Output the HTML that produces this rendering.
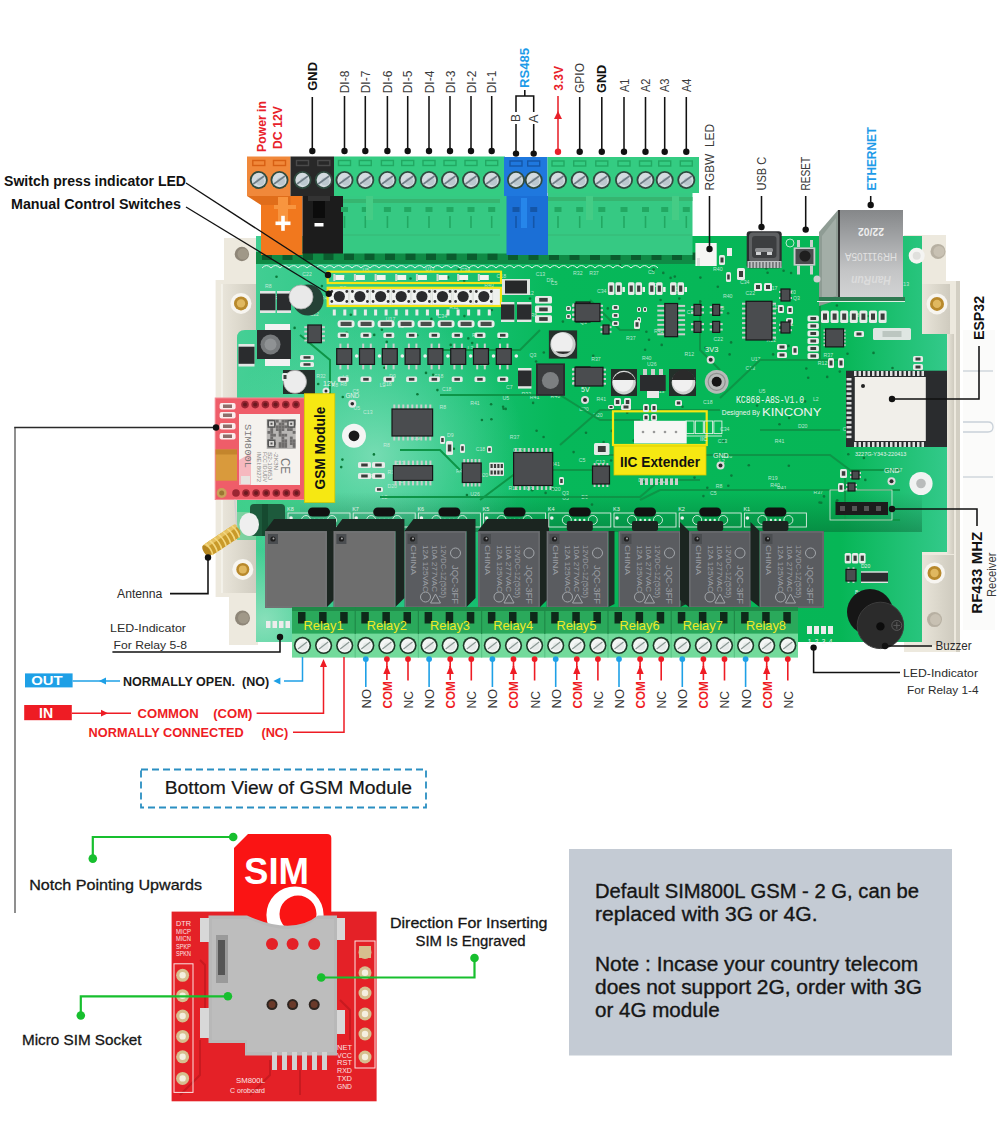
<!DOCTYPE html><html><head><meta charset="utf-8"><title>KC868-A8S</title><style>html,body{margin:0;padding:0;background:#fff;}svg{display:block;}text{font-family:"Liberation Sans",sans-serif;}</style></head><body>
<svg width="1000" height="1139" viewBox="0 0 1000 1139">
<rect x="0.0" y="0.0" width="1000.0" height="1139.0" fill="#ffffff" />
<defs><linearGradient id="encl" x1="0" y1="0" x2="1" y2="0">
<stop offset="0" stop-color="#e9e5da"/><stop offset="0.5" stop-color="#dcd8cc"/><stop offset="1" stop-color="#cfcbbf"/></linearGradient></defs>
<path d="M224,238 L258,238 L258,645 L229,645 L229,597 L215.6,597 L215.6,280 L224,280 Z" fill="#ede9de" stroke="none" stroke-width="1" />
<rect x="222.0" y="284.0" width="36.0" height="309.0" fill="url(#encl)" />
<line x1="222.0" y1="284.0" x2="222.0" y2="593.0" stroke="#f6f4ee" stroke-width="1.5" />
<circle cx="241.9" cy="254.0" r="7.2" fill="#8e8678" />
<circle cx="243.0" cy="254.0" r="5.5" fill="#a09888" />
<circle cx="241.0" cy="303.4" r="10.5" fill="#f7f5f0" />
<circle cx="241.0" cy="303.4" r="7.0" fill="#b8892c" />
<circle cx="241.0" cy="303.4" r="4.2" fill="#e0b860" />
<circle cx="242.8" cy="569.4" r="10.5" fill="#f7f5f0" />
<circle cx="242.8" cy="569.4" r="6.5" fill="#b8892c" />
<circle cx="242.8" cy="569.4" r="4.0" fill="#e0b860" />
<circle cx="242.5" cy="618.0" r="7.5" fill="#8e8678" />
<circle cx="243.5" cy="618.0" r="5.5" fill="#a09888" />
<path d="M904,235 L946,235 L946,281 L960,281 L960,652 L904,652 Z" fill="#ede9de" stroke="none" stroke-width="1" />
<rect x="922.0" y="284.0" width="28.0" height="50.0" fill="url(#encl)" />
<rect x="947.0" y="334.0" width="7.0" height="220.0" fill="url(#encl)" />
<rect x="920.0" y="555.0" width="34.0" height="90.0" fill="url(#encl)" />
<rect x="956.0" y="281.0" width="4.0" height="371.0" fill="#d3cfc3" />
<rect x="963.0" y="330.0" width="32.0" height="300.0" fill="#fbfbfa" />
<line x1="963.0" y1="371.0" x2="993.0" y2="371.0" stroke="#c9d1d9" stroke-width="1.3" />
<line x1="963.0" y1="477.0" x2="993.0" y2="477.0" stroke="#c9d1d9" stroke-width="1.3" />
<path d="M963,422 L988,422 Q993,422 993,427 Q993,432 988,432 L963,432" fill="none" stroke="#c9d1d9" stroke-width="1.3" />
<circle cx="938.0" cy="251.4" r="7.5" fill="#b7b0a2" />
<circle cx="939.0" cy="251.4" r="5.5" fill="#c8c1b3" />
<circle cx="937.0" cy="303.9" r="10.5" fill="#f7f5f0" />
<circle cx="937.0" cy="303.9" r="7.0" fill="#b8892c" />
<circle cx="937.0" cy="303.9" r="4.2" fill="#e0b860" />
<circle cx="934.5" cy="573.0" r="10.5" fill="#f7f5f0" />
<circle cx="934.5" cy="573.0" r="7.0" fill="#b8892c" />
<circle cx="934.5" cy="573.0" r="4.2" fill="#e0b860" />
<circle cx="934.5" cy="619.6" r="7.5" fill="#b7b0a2" />
<circle cx="935.5" cy="619.6" r="5.5" fill="#c8c1b3" />
<defs>
<linearGradient id="pcbx" gradientUnits="userSpaceOnUse" x1="237" y1="0" x2="947" y2="0">
<stop offset="0" stop-color="#45cf95"/>
<stop offset="0.25" stop-color="#22c47f"/>
<stop offset="0.45" stop-color="#06b85a"/>
<stop offset="0.85" stop-color="#06b656"/>
<stop offset="1" stop-color="#33c98a"/>
</linearGradient>
<radialGradient id="pcbhi" gradientUnits="userSpaceOnUse" cx="375" cy="455" r="150">
<stop offset="0" stop-color="#8fe3c2" stop-opacity="0.75"/>
<stop offset="0.6" stop-color="#6cdcaf" stop-opacity="0.35"/>
<stop offset="1" stop-color="#6cdcaf" stop-opacity="0"/>
</radialGradient>
<radialGradient id="pcbhi2" gradientUnits="userSpaceOnUse" cx="265" cy="620" r="70">
<stop offset="0" stop-color="#9ae4c4" stop-opacity="0.8"/>
<stop offset="1" stop-color="#9ae4c4" stop-opacity="0"/>
</radialGradient>
<linearGradient id="pcbshade" gradientUnits="userSpaceOnUse" x1="0" y1="492" x2="0" y2="530">
<stop offset="0" stop-color="#064a24" stop-opacity="0"/>
<stop offset="1" stop-color="#064a24" stop-opacity="0.35"/>
</linearGradient>
</defs>
<path d="M256,236 L922,236 L922,334 L947,334 L947,552 L922,552 L922,642 L256,642 L256,512 L237,512 L237,338 Q237,330 245,330 L256,330 Z" fill="url(#pcbx)" stroke="none" stroke-width="1" />
<path d="M256,236 L922,236 L922,334 L947,334 L947,552 L922,552 L922,642 L256,642 L256,512 L237,512 L237,338 Q237,330 245,330 L256,330 Z" fill="url(#pcbhi)" stroke="none" stroke-width="1" />
<path d="M256,236 L922,236 L922,334 L947,334 L947,552 L922,552 L922,642 L256,642 L256,512 L237,512 L237,338 Q237,330 245,330 L256,330 Z" fill="url(#pcbhi2)" stroke="none" stroke-width="1" />
<rect x="256.0" y="492.0" width="666.0" height="40.0" fill="url(#pcbshade)" />
<text x="550.6" y="397.9" font-size="5.2" fill="#d8efe2" font-weight="normal" text-anchor="start" opacity="0.85">R40</text>
<text x="550.3" y="466.4" font-size="5.2" fill="#d8efe2" font-weight="normal" text-anchor="start" opacity="0.85">R41</text>
<text x="379.8" y="386.8" font-size="5.2" fill="#d8efe2" font-weight="normal" text-anchor="start" opacity="0.85">L2</text>
<text x="767.9" y="289.8" font-size="5.2" fill="#d8efe2" font-weight="normal" text-anchor="start" opacity="0.85">U17</text>
<text x="352.5" y="393.0" font-size="5.2" fill="#d8efe2" font-weight="normal" text-anchor="start" opacity="0.85">C5</text>
<text x="641.9" y="359.9" font-size="5.2" fill="#d8efe2" font-weight="normal" text-anchor="start" opacity="0.85">R40</text>
<text x="362.5" y="271.5" font-size="5.2" fill="#d8efe2" font-weight="normal" text-anchor="start" opacity="0.85">U5</text>
<text x="302.3" y="276.3" font-size="5.2" fill="#d8efe2" font-weight="normal" text-anchor="start" opacity="0.85">C22</text>
<text x="470.2" y="405.1" font-size="5.2" fill="#d8efe2" font-weight="normal" text-anchor="start" opacity="0.85">R41</text>
<text x="593.2" y="416.5" font-size="5.2" fill="#d8efe2" font-weight="normal" text-anchor="start" opacity="0.85">D20</text>
<text x="264.9" y="287.7" font-size="5.2" fill="#d8efe2" font-weight="normal" text-anchor="start" opacity="0.85">R8</text>
<text x="521.5" y="395.9" font-size="5.2" fill="#d8efe2" font-weight="normal" text-anchor="start" opacity="0.85">R32</text>
<text x="713.6" y="341.1" font-size="5.2" fill="#d8efe2" font-weight="normal" text-anchor="start" opacity="0.85">C22</text>
<text x="589.2" y="274.9" font-size="5.2" fill="#d8efe2" font-weight="normal" text-anchor="start" opacity="0.85">R37</text>
<text x="750.9" y="360.9" font-size="5.2" fill="#d8efe2" font-weight="normal" text-anchor="start" opacity="0.85">U17</text>
<text x="508.6" y="490.3" font-size="5.2" fill="#d8efe2" font-weight="normal" text-anchor="start" opacity="0.85">R12</text>
<text x="398.2" y="483.1" font-size="5.2" fill="#d8efe2" font-weight="normal" text-anchor="start" opacity="0.85">C5</text>
<text x="561.9" y="495.4" font-size="5.2" fill="#d8efe2" font-weight="normal" text-anchor="start" opacity="0.85">Q3</text>
<text x="529.8" y="399.4" font-size="5.2" fill="#d8efe2" font-weight="normal" text-anchor="start" opacity="0.85">R41</text>
<text x="758.7" y="330.6" font-size="5.2" fill="#d8efe2" font-weight="normal" text-anchor="start" opacity="0.85">R32</text>
<text x="460.6" y="271.5" font-size="5.2" fill="#d8efe2" font-weight="normal" text-anchor="start" opacity="0.85">C34</text>
<text x="745.6" y="295.4" font-size="5.2" fill="#d8efe2" font-weight="normal" text-anchor="start" opacity="0.85">C22</text>
<text x="713.1" y="270.5" font-size="5.2" fill="#d8efe2" font-weight="normal" text-anchor="start" opacity="0.85">R40</text>
<text x="770.5" y="309.2" font-size="5.2" fill="#d8efe2" font-weight="normal" text-anchor="start" opacity="0.85">C13</text>
<text x="382.2" y="386.1" font-size="5.2" fill="#d8efe2" font-weight="normal" text-anchor="start" opacity="0.85">C18</text>
<text x="529.5" y="357.0" font-size="5.2" fill="#d8efe2" font-weight="normal" text-anchor="start" opacity="0.85">Q3</text>
<text x="530.4" y="317.4" font-size="5.2" fill="#d8efe2" font-weight="normal" text-anchor="start" opacity="0.85">R8</text>
<text x="813.4" y="494.2" font-size="5.2" fill="#d8efe2" font-weight="normal" text-anchor="start" opacity="0.85">R37</text>
<text x="456.0" y="473.3" font-size="5.2" fill="#d8efe2" font-weight="normal" text-anchor="start" opacity="0.85">R41</text>
<text x="381.5" y="499.0" font-size="5.2" fill="#d8efe2" font-weight="normal" text-anchor="start" opacity="0.85">L2</text>
<text x="671.5" y="291.3" font-size="5.2" fill="#d8efe2" font-weight="normal" text-anchor="start" opacity="0.85">C18</text>
<text x="398.0" y="327.9" font-size="5.2" fill="#d8efe2" font-weight="normal" text-anchor="start" opacity="0.85">L2</text>
<text x="471.9" y="336.7" font-size="5.2" fill="#d8efe2" font-weight="normal" text-anchor="start" opacity="0.85">R32</text>
<text x="309.4" y="316.4" font-size="5.2" fill="#d8efe2" font-weight="normal" text-anchor="start" opacity="0.85">C22</text>
<text x="271.9" y="353.5" font-size="5.2" fill="#d8efe2" font-weight="normal" text-anchor="start" opacity="0.85">L2</text>
<text x="551.1" y="490.5" font-size="5.2" fill="#d8efe2" font-weight="normal" text-anchor="start" opacity="0.85">D20</text>
<text x="793.0" y="299.5" font-size="5.2" fill="#d8efe2" font-weight="normal" text-anchor="start" opacity="0.85">Q3</text>
<text x="378.6" y="303.8" font-size="5.2" fill="#d8efe2" font-weight="normal" text-anchor="start" opacity="0.85">C22</text>
<text x="783.8" y="325.9" font-size="5.2" fill="#d8efe2" font-weight="normal" text-anchor="start" opacity="0.85">R41</text>
<text x="363.1" y="413.9" font-size="5.2" fill="#d8efe2" font-weight="normal" text-anchor="start" opacity="0.85">C13</text>
<text x="387.4" y="488.4" font-size="5.2" fill="#d8efe2" font-weight="normal" text-anchor="start" opacity="0.85">D20</text>
<text x="647.1" y="365.8" font-size="5.2" fill="#d8efe2" font-weight="normal" text-anchor="start" opacity="0.85">U26</text>
<text x="331.6" y="386.9" font-size="5.2" fill="#d8efe2" font-weight="normal" text-anchor="start" opacity="0.85">R8</text>
<text x="414.1" y="431.5" font-size="5.2" fill="#d8efe2" font-weight="normal" text-anchor="start" opacity="0.85">R8</text>
<text x="530.5" y="477.9" font-size="5.2" fill="#d8efe2" font-weight="normal" text-anchor="start" opacity="0.85">D20</text>
<text x="449.2" y="308.7" font-size="5.2" fill="#d8efe2" font-weight="normal" text-anchor="start" opacity="0.85">R32</text>
<text x="342.6" y="379.2" font-size="5.2" fill="#d8efe2" font-weight="normal" text-anchor="start" opacity="0.85">L2</text>
<text x="653.9" y="333.0" font-size="5.2" fill="#d8efe2" font-weight="normal" text-anchor="start" opacity="0.85">R41</text>
<text x="739.9" y="284.0" font-size="5.2" fill="#d8efe2" font-weight="normal" text-anchor="start" opacity="0.85">C34</text>
<text x="546.4" y="282.0" font-size="5.2" fill="#d8efe2" font-weight="normal" text-anchor="start" opacity="0.85">D9</text>
<text x="441.9" y="391.2" font-size="5.2" fill="#d8efe2" font-weight="normal" text-anchor="start" opacity="0.85">C18</text>
<text x="320.8" y="300.1" font-size="5.2" fill="#d8efe2" font-weight="normal" text-anchor="start" opacity="0.85">R40</text>
<text x="703.0" y="403.6" font-size="5.2" fill="#d8efe2" font-weight="normal" text-anchor="start" opacity="0.85">C18</text>
<text x="638.3" y="482.3" font-size="5.2" fill="#d8efe2" font-weight="normal" text-anchor="start" opacity="0.85">D20</text>
<text x="842.7" y="430.6" font-size="5.2" fill="#d8efe2" font-weight="normal" text-anchor="start" opacity="0.85">C5</text>
<text x="275.6" y="415.6" font-size="5.2" fill="#d8efe2" font-weight="normal" text-anchor="start" opacity="0.85">D20</text>
<text x="304.9" y="340.2" font-size="5.2" fill="#d8efe2" font-weight="normal" text-anchor="start" opacity="0.85">C18</text>
<text x="899.6" y="285.5" font-size="5.2" fill="#d8efe2" font-weight="normal" text-anchor="start" opacity="0.85">C13</text>
<text x="496.6" y="278.3" font-size="5.2" fill="#d8efe2" font-weight="normal" text-anchor="start" opacity="0.85">C18</text>
<text x="768.1" y="480.3" font-size="5.2" fill="#d8efe2" font-weight="normal" text-anchor="start" opacity="0.85">R19</text>
<text x="316.2" y="377.8" font-size="5.2" fill="#d8efe2" font-weight="normal" text-anchor="start" opacity="0.85">R32</text>
<text x="817.8" y="364.8" font-size="5.2" fill="#d8efe2" font-weight="normal" text-anchor="start" opacity="0.85">R12</text>
<text x="812.9" y="400.9" font-size="5.2" fill="#d8efe2" font-weight="normal" text-anchor="start" opacity="0.85">L2</text>
<text x="684.5" y="356.0" font-size="5.2" fill="#d8efe2" font-weight="normal" text-anchor="start" opacity="0.85">R12</text>
<text x="650.5" y="286.6" font-size="5.2" fill="#d8efe2" font-weight="normal" text-anchor="start" opacity="0.85">U26</text>
<text x="895.7" y="472.1" font-size="5.2" fill="#d8efe2" font-weight="normal" text-anchor="start" opacity="0.85">C7</text>
<text x="509.8" y="438.5" font-size="5.2" fill="#d8efe2" font-weight="normal" text-anchor="start" opacity="0.85">R37</text>
<text x="554.0" y="375.3" font-size="5.2" fill="#d8efe2" font-weight="normal" text-anchor="start" opacity="0.85">C13</text>
<text x="281.0" y="407.5" font-size="5.2" fill="#d8efe2" font-weight="normal" text-anchor="start" opacity="0.85">D20</text>
<text x="276.2" y="490.1" font-size="5.2" fill="#d8efe2" font-weight="normal" text-anchor="start" opacity="0.85">U26</text>
<text x="579.2" y="410.6" font-size="5.2" fill="#d8efe2" font-weight="normal" text-anchor="start" opacity="0.85">D20</text>
<text x="425.2" y="270.6" font-size="5.2" fill="#d8efe2" font-weight="normal" text-anchor="start" opacity="0.85">U17</text>
<text x="353.4" y="409.9" font-size="5.2" fill="#d8efe2" font-weight="normal" text-anchor="start" opacity="0.85">U5</text>
<text x="370.2" y="478.1" font-size="5.2" fill="#d8efe2" font-weight="normal" text-anchor="start" opacity="0.85">R40</text>
<text x="579.9" y="324.0" font-size="5.2" fill="#d8efe2" font-weight="normal" text-anchor="start" opacity="0.85">Q3</text>
<text x="686.8" y="314.1" font-size="5.2" fill="#d8efe2" font-weight="normal" text-anchor="start" opacity="0.85">C34</text>
<text x="774.8" y="443.1" font-size="5.2" fill="#d8efe2" font-weight="normal" text-anchor="start" opacity="0.85">R41</text>
<text x="823.6" y="357.2" font-size="5.2" fill="#d8efe2" font-weight="normal" text-anchor="start" opacity="0.85">R37</text>
<text x="849.5" y="316.7" font-size="5.2" fill="#d8efe2" font-weight="normal" text-anchor="start" opacity="0.85">C18</text>
<text x="578.7" y="462.2" font-size="5.2" fill="#d8efe2" font-weight="normal" text-anchor="start" opacity="0.85">C5</text>
<text x="715.8" y="488.4" font-size="5.2" fill="#d8efe2" font-weight="normal" text-anchor="start" opacity="0.85">R8</text>
<text x="786.3" y="294.2" font-size="5.2" fill="#d8efe2" font-weight="normal" text-anchor="start" opacity="0.85">D20</text>
<text x="437.6" y="317.7" font-size="5.2" fill="#d8efe2" font-weight="normal" text-anchor="start" opacity="0.85">C34</text>
<text x="506.1" y="388.6" font-size="5.2" fill="#d8efe2" font-weight="normal" text-anchor="start" opacity="0.85">C7</text>
<text x="719.0" y="463.3" font-size="5.2" fill="#d8efe2" font-weight="normal" text-anchor="start" opacity="0.85">L2</text>
<text x="550.7" y="285.3" font-size="5.2" fill="#d8efe2" font-weight="normal" text-anchor="start" opacity="0.85">C5</text>
<text x="439.4" y="409.0" font-size="5.2" fill="#d8efe2" font-weight="normal" text-anchor="start" opacity="0.85">R8</text>
<text x="626.0" y="339.7" font-size="5.2" fill="#d8efe2" font-weight="normal" text-anchor="start" opacity="0.85">R37</text>
<text x="274.2" y="299.5" font-size="5.2" fill="#d8efe2" font-weight="normal" text-anchor="start" opacity="0.85">R40</text>
<text x="383.2" y="446.5" font-size="5.2" fill="#d8efe2" font-weight="normal" text-anchor="start" opacity="0.85">R8</text>
<text x="413.5" y="300.7" font-size="5.2" fill="#d8efe2" font-weight="normal" text-anchor="start" opacity="0.85">C5</text>
<text x="889.8" y="294.8" font-size="5.2" fill="#d8efe2" font-weight="normal" text-anchor="start" opacity="0.85">U26</text>
<text x="777.1" y="490.4" font-size="5.2" fill="#d8efe2" font-weight="normal" text-anchor="start" opacity="0.85">R41</text>
<text x="389.2" y="378.2" font-size="5.2" fill="#d8efe2" font-weight="normal" text-anchor="start" opacity="0.85">D9</text>
<text x="717.7" y="443.2" font-size="5.2" fill="#d8efe2" font-weight="normal" text-anchor="start" opacity="0.85">C13</text>
<text x="717.6" y="309.6" font-size="5.2" fill="#d8efe2" font-weight="normal" text-anchor="start" opacity="0.85">R8</text>
<text x="758.7" y="393.2" font-size="5.2" fill="#d8efe2" font-weight="normal" text-anchor="start" opacity="0.85">U5</text>
<text x="581.3" y="499.3" font-size="5.2" fill="#d8efe2" font-weight="normal" text-anchor="start" opacity="0.85">D9</text>
<text x="513.1" y="451.7" font-size="5.2" fill="#d8efe2" font-weight="normal" text-anchor="start" opacity="0.85">C22</text>
<text x="722.9" y="298.1" font-size="5.2" fill="#d8efe2" font-weight="normal" text-anchor="start" opacity="0.85">R40</text>
<text x="387.6" y="473.9" font-size="5.2" fill="#d8efe2" font-weight="normal" text-anchor="start" opacity="0.85">R12</text>
<text x="502.4" y="400.0" font-size="5.2" fill="#d8efe2" font-weight="normal" text-anchor="start" opacity="0.85">U5</text>
<text x="770.3" y="487.1" font-size="5.2" fill="#d8efe2" font-weight="normal" text-anchor="start" opacity="0.85">R40</text>
<text x="470.3" y="495.9" font-size="5.2" fill="#d8efe2" font-weight="normal" text-anchor="start" opacity="0.85">U26</text>
<text x="722.6" y="457.9" font-size="5.2" fill="#d8efe2" font-weight="normal" text-anchor="start" opacity="0.85">U26</text>
<text x="398.1" y="476.8" font-size="5.2" fill="#d8efe2" font-weight="normal" text-anchor="start" opacity="0.85">R32</text>
<text x="766.5" y="342.3" font-size="5.2" fill="#d8efe2" font-weight="normal" text-anchor="start" opacity="0.85">R12</text>
<text x="484.3" y="287.2" font-size="5.2" fill="#d8efe2" font-weight="normal" text-anchor="start" opacity="0.85">R40</text>
<text x="480.2" y="365.8" font-size="5.2" fill="#d8efe2" font-weight="normal" text-anchor="start" opacity="0.85">R8</text>
<text x="573.0" y="274.6" font-size="5.2" fill="#d8efe2" font-weight="normal" text-anchor="start" opacity="0.85">R32</text>
<text x="535.7" y="276.1" font-size="5.2" fill="#d8efe2" font-weight="normal" text-anchor="start" opacity="0.85">C13</text>
<text x="475.7" y="450.8" font-size="5.2" fill="#d8efe2" font-weight="normal" text-anchor="start" opacity="0.85">C18</text>
<text x="562.2" y="500.0" font-size="5.2" fill="#d8efe2" font-weight="normal" text-anchor="start" opacity="0.85">U5</text>
<text x="797.9" y="427.9" font-size="5.2" fill="#d8efe2" font-weight="normal" text-anchor="start" opacity="0.85">D20</text>
<text x="745.5" y="369.9" font-size="5.2" fill="#d8efe2" font-weight="normal" text-anchor="start" opacity="0.85">C13</text>
<text x="447.1" y="437.1" font-size="5.2" fill="#d8efe2" font-weight="normal" text-anchor="start" opacity="0.85">D9</text>
<text x="595.5" y="463.7" font-size="5.2" fill="#d8efe2" font-weight="normal" text-anchor="start" opacity="0.85">C13</text>
<text x="425.7" y="423.7" font-size="5.2" fill="#d8efe2" font-weight="normal" text-anchor="start" opacity="0.85">L2</text>
<text x="394.9" y="465.4" font-size="5.2" fill="#d8efe2" font-weight="normal" text-anchor="start" opacity="0.85">C13</text>
<text x="596.5" y="400.9" font-size="5.2" fill="#d8efe2" font-weight="normal" text-anchor="start" opacity="0.85">R41</text>
<text x="524.3" y="294.5" font-size="5.2" fill="#d8efe2" font-weight="normal" text-anchor="start" opacity="0.85">R12</text>
<text x="648.1" y="274.4" font-size="5.2" fill="#d8efe2" font-weight="normal" text-anchor="start" opacity="0.85">C5</text>
<text x="591.2" y="360.9" font-size="5.2" fill="#d8efe2" font-weight="normal" text-anchor="start" opacity="0.85">R37</text>
<text x="339.8" y="289.6" font-size="5.2" fill="#d8efe2" font-weight="normal" text-anchor="start" opacity="0.85">D9</text>
<text x="526.0" y="490.0" font-size="5.2" fill="#d8efe2" font-weight="normal" text-anchor="start" opacity="0.85">Q3</text>
<text x="433.8" y="377.8" font-size="5.2" fill="#d8efe2" font-weight="normal" text-anchor="start" opacity="0.85">C18</text>
<text x="478.7" y="477.0" font-size="5.2" fill="#d8efe2" font-weight="normal" text-anchor="start" opacity="0.85">D20</text>
<text x="596.9" y="293.2" font-size="5.2" fill="#d8efe2" font-weight="normal" text-anchor="start" opacity="0.85">C34</text>
<text x="656.2" y="482.7" font-size="5.2" fill="#d8efe2" font-weight="normal" text-anchor="start" opacity="0.85">C18</text>
<text x="709.9" y="494.7" font-size="5.2" fill="#d8efe2" font-weight="normal" text-anchor="start" opacity="0.85">C5</text>
<text x="385.8" y="320.7" font-size="5.2" fill="#d8efe2" font-weight="normal" text-anchor="start" opacity="0.85">U17</text>
<text x="467.5" y="350.4" font-size="5.2" fill="#d8efe2" font-weight="normal" text-anchor="start" opacity="0.85">L2</text>
<text x="580.2" y="383.9" font-size="5.2" fill="#d8efe2" font-weight="normal" text-anchor="start" opacity="0.85">R37</text>
<text x="340.3" y="386.4" font-size="5.2" fill="#d8efe2" font-weight="normal" text-anchor="start" opacity="0.85">R8</text>
<text x="719.9" y="430.7" font-size="5.2" fill="#d8efe2" font-weight="normal" text-anchor="start" opacity="0.85">C34</text>
<text x="276.8" y="414.9" font-size="5.2" fill="#d8efe2" font-weight="normal" text-anchor="start" opacity="0.85">U5</text>
<text x="654.9" y="392.9" font-size="5.2" fill="#d8efe2" font-weight="normal" text-anchor="start" opacity="0.85">C13</text>
<text x="669.3" y="390.9" font-size="5.2" fill="#d8efe2" font-weight="normal" text-anchor="start" opacity="0.85">C13</text>
<text x="410.4" y="439.9" font-size="5.2" fill="#d8efe2" font-weight="normal" text-anchor="start" opacity="0.85">R19</text>
<text x="837.9" y="341.3" font-size="5.2" fill="#d8efe2" font-weight="normal" text-anchor="start" opacity="0.85">C7</text>
<path d="M300,335 L330,360 L330,400" fill="none" stroke="#0d9547" stroke-width="2" />
<path d="M440,395 L560,395 L600,420 L640,420" fill="none" stroke="#0d9547" stroke-width="2" />
<path d="M560,445 L600,410 L720,410" fill="none" stroke="#0d9547" stroke-width="2" />
<path d="M480,500 L520,470 L600,470" fill="none" stroke="#0d9547" stroke-width="2" />
<path d="M380,497 L640,497 L660,480 L700,480" fill="none" stroke="#0d9547" stroke-width="2" />
<path d="M600,455 L830,455 L850,470 L900,470" fill="none" stroke="#0d9547" stroke-width="2" />
<path d="M720,398 L760,360 L840,360" fill="none" stroke="#0d9547" stroke-width="2" />
<path d="M760,430 L840,430" fill="none" stroke="#0d9547" stroke-width="2" />
<path d="M440,350 L520,350 L540,330" fill="none" stroke="#0d9547" stroke-width="2" />
<path d="M260,470 L300,470 L330,500" fill="none" stroke="#0d9547" stroke-width="2" />
<path d="M700,300 L700,350 L720,370" fill="none" stroke="#0d9547" stroke-width="2" />
<path d="M820,360 L820,300" fill="none" stroke="#0d9547" stroke-width="2" />
<path d="M590,300 L620,330 L640,330" fill="none" stroke="#0d9547" stroke-width="2" />
<path d="M845,470 L845,520 L900,520" fill="none" stroke="#0d9547" stroke-width="2" />
<path d="M640,500 L660,490 L900,490" fill="none" stroke="#0d9547" stroke-width="2" />
<path d="M260,400 L300,400" fill="none" stroke="#0d9547" stroke-width="2" />
<path d="M400,450 L440,450 L460,470" fill="none" stroke="#0d9547" stroke-width="2" />
<circle cx="417.4" cy="394.2" r="1.3" fill="#0b7a3a" />
<circle cx="503.6" cy="408.8" r="1.3" fill="#0b7a3a" />
<circle cx="670.6" cy="277.9" r="1.3" fill="#0b7a3a" />
<circle cx="270.6" cy="465.5" r="1.3" fill="#0b7a3a" />
<circle cx="431.4" cy="318.9" r="1.3" fill="#0b7a3a" />
<circle cx="912.2" cy="376.3" r="1.3" fill="#0b7a3a" />
<circle cx="808.2" cy="377.8" r="1.3" fill="#0b7a3a" />
<circle cx="679.3" cy="298.6" r="1.3" fill="#0b7a3a" />
<circle cx="676.6" cy="472.9" r="1.3" fill="#0b7a3a" />
<circle cx="603.6" cy="442.1" r="1.3" fill="#0b7a3a" />
<circle cx="700.4" cy="277.6" r="1.3" fill="#0b7a3a" />
<circle cx="757.1" cy="405.6" r="1.3" fill="#0b7a3a" />
<circle cx="458.7" cy="269.5" r="1.3" fill="#0b7a3a" />
<circle cx="827.2" cy="376.9" r="1.3" fill="#0b7a3a" />
<circle cx="731.4" cy="475.6" r="1.3" fill="#0b7a3a" />
<circle cx="728.3" cy="485.8" r="1.3" fill="#0b7a3a" />
<circle cx="519.9" cy="456.6" r="1.3" fill="#0b7a3a" />
<circle cx="552.3" cy="489.3" r="1.3" fill="#0b7a3a" />
<circle cx="835.9" cy="285.7" r="1.3" fill="#0b7a3a" />
<circle cx="350.8" cy="314.7" r="1.3" fill="#0b7a3a" />
<circle cx="892.5" cy="368.0" r="1.3" fill="#0b7a3a" />
<circle cx="671.2" cy="335.1" r="1.3" fill="#0b7a3a" />
<circle cx="593.2" cy="355.8" r="1.3" fill="#0b7a3a" />
<circle cx="491.1" cy="404.2" r="1.3" fill="#0b7a3a" />
<circle cx="643.5" cy="481.7" r="1.3" fill="#0b7a3a" />
<circle cx="707.3" cy="487.7" r="1.3" fill="#0b7a3a" />
<circle cx="821.2" cy="502.8" r="1.3" fill="#0b7a3a" />
<circle cx="700.3" cy="301.6" r="1.3" fill="#0b7a3a" />
<circle cx="824.0" cy="496.4" r="1.3" fill="#0b7a3a" />
<circle cx="852.8" cy="400.3" r="1.3" fill="#0b7a3a" />
<circle cx="728.1" cy="313.3" r="1.3" fill="#0b7a3a" />
<circle cx="805.0" cy="401.4" r="1.3" fill="#0b7a3a" />
<circle cx="448.1" cy="277.4" r="1.3" fill="#0b7a3a" />
<circle cx="819.6" cy="502.5" r="1.3" fill="#0b7a3a" />
<circle cx="319.8" cy="456.5" r="1.3" fill="#0b7a3a" />
<circle cx="530.0" cy="298.6" r="1.3" fill="#0b7a3a" />
<circle cx="453.9" cy="448.8" r="1.3" fill="#0b7a3a" />
<circle cx="831.9" cy="272.7" r="1.3" fill="#0b7a3a" />
<circle cx="663.3" cy="272.9" r="1.3" fill="#0b7a3a" />
<circle cx="731.1" cy="342.4" r="1.3" fill="#0b7a3a" />
<circle cx="837.2" cy="500.3" r="1.3" fill="#0b7a3a" />
<circle cx="592.0" cy="504.6" r="1.3" fill="#0b7a3a" />
<circle cx="464.2" cy="280.7" r="1.3" fill="#0b7a3a" />
<circle cx="653.6" cy="269.6" r="1.3" fill="#0b7a3a" />
<circle cx="390.9" cy="361.1" r="1.3" fill="#0b7a3a" />
<circle cx="660.6" cy="300.0" r="1.3" fill="#0b7a3a" />
<circle cx="289.7" cy="472.9" r="1.3" fill="#0b7a3a" />
<circle cx="466.9" cy="495.0" r="1.3" fill="#0b7a3a" />
<circle cx="847.5" cy="353.8" r="1.3" fill="#0b7a3a" />
<circle cx="562.6" cy="388.4" r="1.3" fill="#0b7a3a" />
<circle cx="682.5" cy="406.7" r="1.3" fill="#0b7a3a" />
<circle cx="627.2" cy="412.7" r="1.3" fill="#0b7a3a" />
<circle cx="876.2" cy="385.2" r="1.3" fill="#0b7a3a" />
<circle cx="543.6" cy="437.0" r="1.3" fill="#0b7a3a" />
<circle cx="417.2" cy="335.2" r="1.3" fill="#0b7a3a" />
<circle cx="900.5" cy="388.6" r="1.3" fill="#0b7a3a" />
<circle cx="620.1" cy="264.8" r="1.3" fill="#0b7a3a" />
<circle cx="533.1" cy="402.9" r="1.3" fill="#0b7a3a" />
<circle cx="275.1" cy="411.6" r="1.3" fill="#0b7a3a" />
<circle cx="674.8" cy="276.6" r="1.3" fill="#0b7a3a" />
<circle cx="671.7" cy="375.3" r="1.3" fill="#0b7a3a" />
<circle cx="705.6" cy="347.7" r="1.3" fill="#0b7a3a" />
<circle cx="723.6" cy="441.3" r="1.3" fill="#0b7a3a" />
<circle cx="276.5" cy="276.7" r="1.3" fill="#0b7a3a" />
<circle cx="703.4" cy="496.1" r="1.3" fill="#0b7a3a" />
<circle cx="426.0" cy="372.9" r="1.3" fill="#0b7a3a" />
<circle cx="649.0" cy="339.8" r="1.3" fill="#0b7a3a" />
<circle cx="499.7" cy="338.0" r="1.3" fill="#0b7a3a" />
<circle cx="503.1" cy="406.7" r="1.3" fill="#0b7a3a" />
<circle cx="458.2" cy="353.6" r="1.3" fill="#0b7a3a" />
<circle cx="766.3" cy="268.5" r="1.3" fill="#0b7a3a" />
<circle cx="633.7" cy="440.6" r="1.3" fill="#0b7a3a" />
<circle cx="464.4" cy="316.1" r="1.3" fill="#0b7a3a" />
<circle cx="786.9" cy="320.0" r="1.3" fill="#0b7a3a" />
<circle cx="384.4" cy="367.8" r="1.3" fill="#0b7a3a" />
<circle cx="717.8" cy="286.7" r="1.3" fill="#0b7a3a" />
<circle cx="472.2" cy="343.1" r="1.3" fill="#0b7a3a" />
<circle cx="806.3" cy="368.5" r="1.3" fill="#0b7a3a" />
<circle cx="820.7" cy="303.1" r="1.3" fill="#0b7a3a" />
<circle cx="481.9" cy="420.0" r="1.3" fill="#0b7a3a" />
<circle cx="839.8" cy="371.6" r="1.3" fill="#0b7a3a" />
<circle cx="408.9" cy="291.4" r="1.3" fill="#0b7a3a" />
<circle cx="607.8" cy="308.4" r="1.3" fill="#0b7a3a" />
<circle cx="788.8" cy="465.7" r="1.3" fill="#0b7a3a" />
<circle cx="381.9" cy="329.7" r="1.3" fill="#0b7a3a" />
<circle cx="789.1" cy="418.0" r="1.3" fill="#0b7a3a" />
<circle cx="788.5" cy="345.9" r="1.3" fill="#0b7a3a" />
<circle cx="346.7" cy="332.9" r="1.3" fill="#0b7a3a" />
<circle cx="780.4" cy="327.9" r="1.3" fill="#0b7a3a" />
<circle cx="488.2" cy="363.3" r="1.3" fill="#0b7a3a" />
<circle cx="536.1" cy="361.5" r="1.3" fill="#0b7a3a" />
<circle cx="863.2" cy="299.9" r="1.3" fill="#0b7a3a" />
<circle cx="265.0" cy="491.2" r="1.3" fill="#0b7a3a" />
<circle cx="836.6" cy="501.8" r="1.3" fill="#0b7a3a" />
<circle cx="545.6" cy="492.9" r="1.3" fill="#0b7a3a" />
<circle cx="867.6" cy="316.0" r="1.3" fill="#0b7a3a" />
<circle cx="748.8" cy="465.3" r="1.3" fill="#0b7a3a" />
<circle cx="694.9" cy="388.1" r="1.3" fill="#0b7a3a" />
<circle cx="450.7" cy="344.9" r="1.3" fill="#0b7a3a" />
<circle cx="410.5" cy="278.5" r="1.3" fill="#0b7a3a" />
<circle cx="646.4" cy="331.7" r="1.3" fill="#0b7a3a" />
<circle cx="791.1" cy="273.0" r="1.3" fill="#0b7a3a" />
<circle cx="852.1" cy="430.6" r="1.3" fill="#0b7a3a" />
<circle cx="865.3" cy="479.9" r="1.3" fill="#0b7a3a" />
<circle cx="849.5" cy="402.2" r="1.3" fill="#0b7a3a" />
<circle cx="270.6" cy="443.1" r="1.3" fill="#0b7a3a" />
<circle cx="374.2" cy="334.9" r="1.3" fill="#0b7a3a" />
<circle cx="694.9" cy="389.6" r="1.3" fill="#0b7a3a" />
<circle cx="532.2" cy="490.2" r="1.3" fill="#0b7a3a" />
<circle cx="661.7" cy="344.9" r="1.3" fill="#0b7a3a" />
<circle cx="426.9" cy="471.4" r="1.3" fill="#0b7a3a" />
<circle cx="573.6" cy="452.1" r="1.3" fill="#0b7a3a" />
<circle cx="491.8" cy="310.0" r="1.3" fill="#0b7a3a" />
<circle cx="611.1" cy="460.5" r="1.3" fill="#0b7a3a" />
<circle cx="373.9" cy="454.4" r="1.3" fill="#0b7a3a" />
<circle cx="863.9" cy="457.9" r="1.3" fill="#0b7a3a" />
<circle cx="799.7" cy="263.8" r="1.3" fill="#0b7a3a" />
<circle cx="672.5" cy="471.6" r="1.3" fill="#0b7a3a" />
<circle cx="294.6" cy="327.9" r="1.3" fill="#0b7a3a" />
<circle cx="437.4" cy="390.1" r="1.3" fill="#0b7a3a" />
<circle cx="538.2" cy="376.9" r="1.3" fill="#0b7a3a" />
<circle cx="769.1" cy="262.4" r="1.3" fill="#0b7a3a" />
<circle cx="297.8" cy="292.8" r="1.3" fill="#0b7a3a" />
<circle cx="343.4" cy="278.6" r="1.3" fill="#0b7a3a" />
<circle cx="898.5" cy="469.6" r="1.3" fill="#0b7a3a" />
<circle cx="318.2" cy="384.0" r="1.3" fill="#0b7a3a" />
<circle cx="468.3" cy="338.4" r="1.3" fill="#0b7a3a" />
<circle cx="491.4" cy="419.2" r="1.3" fill="#0b7a3a" />
<circle cx="645.1" cy="349.7" r="1.3" fill="#0b7a3a" />
<circle cx="386.8" cy="341.9" r="1.3" fill="#0b7a3a" />
<circle cx="342.8" cy="397.0" r="1.3" fill="#0b7a3a" />
<circle cx="729.6" cy="354.4" r="1.3" fill="#0b7a3a" />
<circle cx="314.2" cy="305.4" r="1.3" fill="#0b7a3a" />
<circle cx="505.7" cy="408.9" r="1.3" fill="#0b7a3a" />
<circle cx="773.1" cy="354.4" r="1.3" fill="#0b7a3a" />
<circle cx="785.2" cy="413.4" r="1.3" fill="#0b7a3a" />
<circle cx="543.8" cy="352.5" r="1.3" fill="#0b7a3a" />
<circle cx="586.0" cy="432.8" r="1.3" fill="#0b7a3a" />
<circle cx="536.6" cy="430.7" r="1.3" fill="#0b7a3a" />
<circle cx="562.9" cy="321.6" r="1.3" fill="#0b7a3a" />
<circle cx="611.9" cy="430.9" r="1.3" fill="#0b7a3a" />
<circle cx="308.7" cy="365.2" r="1.3" fill="#0b7a3a" />
<circle cx="540.1" cy="475.8" r="1.3" fill="#0b7a3a" />
<circle cx="873.5" cy="352.9" r="1.3" fill="#0b7a3a" />
<circle cx="848.3" cy="454.2" r="1.3" fill="#0b7a3a" />
<circle cx="433.2" cy="374.8" r="1.3" fill="#0b7a3a" />
<circle cx="342.4" cy="459.6" r="1.3" fill="#0b7a3a" />
<circle cx="694.5" cy="477.6" r="1.3" fill="#0b7a3a" />
<circle cx="779.5" cy="424.2" r="1.3" fill="#0b7a3a" />
<circle cx="741.1" cy="399.0" r="1.3" fill="#0b7a3a" />
<circle cx="329.3" cy="404.8" r="1.3" fill="#0b7a3a" />
<circle cx="265.2" cy="296.9" r="1.3" fill="#0b7a3a" />
<circle cx="767.6" cy="272.8" r="1.3" fill="#0b7a3a" />
<circle cx="321.9" cy="286.1" r="1.3" fill="#0b7a3a" />
<circle cx="836.9" cy="305.5" r="1.3" fill="#0b7a3a" />
<circle cx="277.3" cy="466.5" r="1.3" fill="#0b7a3a" />
<circle cx="341.2" cy="467.1" r="1.3" fill="#0b7a3a" />
<circle cx="701.8" cy="465.2" r="1.3" fill="#0b7a3a" />
<circle cx="883.9" cy="402.7" r="1.3" fill="#0b7a3a" />
<circle cx="783.6" cy="270.8" r="1.3" fill="#0b7a3a" />
<rect x="256.0" y="252.0" width="440.0" height="12.0" fill="#0f8a45" />
<rect x="262.0" y="253.0" width="10.0" height="7.0" fill="#0a5c2e" />
<rect x="282.5" y="253.0" width="10.0" height="7.0" fill="#0a5c2e" />
<rect x="303.0" y="253.0" width="10.0" height="7.0" fill="#0a5c2e" />
<rect x="323.5" y="253.0" width="10.0" height="7.0" fill="#0a5c2e" />
<rect x="344.0" y="253.0" width="10.0" height="7.0" fill="#0a5c2e" />
<rect x="364.5" y="253.0" width="10.0" height="7.0" fill="#0a5c2e" />
<rect x="385.0" y="253.0" width="10.0" height="7.0" fill="#0a5c2e" />
<rect x="405.5" y="253.0" width="10.0" height="7.0" fill="#0a5c2e" />
<rect x="426.0" y="253.0" width="10.0" height="7.0" fill="#0a5c2e" />
<rect x="446.5" y="253.0" width="10.0" height="7.0" fill="#0a5c2e" />
<rect x="467.0" y="253.0" width="10.0" height="7.0" fill="#0a5c2e" />
<rect x="487.5" y="253.0" width="10.0" height="7.0" fill="#0a5c2e" />
<rect x="508.0" y="253.0" width="10.0" height="7.0" fill="#0a5c2e" />
<rect x="528.5" y="253.0" width="10.0" height="7.0" fill="#0a5c2e" />
<rect x="549.0" y="253.0" width="10.0" height="7.0" fill="#0a5c2e" />
<rect x="569.5" y="253.0" width="10.0" height="7.0" fill="#0a5c2e" />
<rect x="590.0" y="253.0" width="10.0" height="7.0" fill="#0a5c2e" />
<rect x="610.5" y="253.0" width="10.0" height="7.0" fill="#0a5c2e" />
<rect x="631.0" y="253.0" width="10.0" height="7.0" fill="#0a5c2e" />
<rect x="651.5" y="253.0" width="10.0" height="7.0" fill="#0a5c2e" />
<rect x="672.0" y="253.0" width="10.0" height="7.0" fill="#0a5c2e" />
<rect x="692.5" y="253.0" width="10.0" height="7.0" fill="#0a5c2e" />
<path d="M262,268 q4.5,-5 9,0 q4.5,-5 9,0 q4.5,-5 9,0 q4.5,-5 9,0 q4.5,-5 9,0 q4.5,-5 9,0 q4.5,-5 9,0 q4.5,-5 9,0 q4.5,-5 9,0 q4.5,-5 9,0 q4.5,-5 9,0 q4.5,-5 9,0 q4.5,-5 9,0 q4.5,-5 9,0 q4.5,-5 9,0 q4.5,-5 9,0 q4.5,-5 9,0 q4.5,-5 9,0 q4.5,-5 9,0 q4.5,-5 9,0 q4.5,-5 9,0 q4.5,-5 9,0 q4.5,-5 9,0 q4.5,-5 9,0 q4.5,-5 9,0 q4.5,-5 9,0 q4.5,-5 9,0 q4.5,-5 9,0 q4.5,-5 9,0 q4.5,-5 9,0 q4.5,-5 9,0 q4.5,-5 9,0 q4.5,-5 9,0 q4.5,-5 9,0 q4.5,-5 9,0 q4.5,-5 9,0 q4.5,-5 9,0 q4.5,-5 9,0 q4.5,-5 9,0 q4.5,-5 9,0 q4.5,-5 9,0 q4.5,-5 9,0 q4.5,-5 9,0 q4.5,-5 9,0" fill="none" stroke="#e6f2ea" stroke-width="1" />
<rect x="260.0" y="291.0" width="15.5" height="22.0" fill="#e2e6e4" />
<rect x="260.0" y="293.6" width="15.5" height="16.7" fill="#2a2c2e" />
<rect x="277.0" y="291.0" width="14.0" height="22.0" fill="#e2e6e4" />
<rect x="277.0" y="293.6" width="14.0" height="16.7" fill="#2a2c2e" />
<circle cx="308.0" cy="300.0" r="15.5" fill="#254236" />
<circle cx="301.0" cy="297.0" r="12.0" fill="#e9e9e9" />
<circle cx="301.0" cy="297.0" r="12.0" fill="none" stroke="#aaa" stroke-width="0.8"/>
<rect x="265.0" y="324.0" width="25.0" height="6.0" fill="#f2f2f2" />
<rect x="265.0" y="359.0" width="25.0" height="7.0" fill="#f2f2f2" />
<rect x="257.0" y="330.0" width="34.0" height="29.0" fill="#2a2c2e" />
<circle cx="270.5" cy="344.5" r="10.0" fill="#777a7c" />
<circle cx="270.5" cy="344.5" r="6.0" fill="#8f9294" />
<rect x="304.3" y="326.2" width="3.5" height="2.0" fill="#c9cfcc" />
<rect x="321.4" y="326.2" width="3.5" height="2.0" fill="#c9cfcc" />
<rect x="304.3" y="330.6" width="3.5" height="2.0" fill="#c9cfcc" />
<rect x="321.4" y="330.6" width="3.5" height="2.0" fill="#c9cfcc" />
<rect x="304.3" y="335.1" width="3.5" height="2.0" fill="#c9cfcc" />
<rect x="321.4" y="335.1" width="3.5" height="2.0" fill="#c9cfcc" />
<rect x="304.3" y="339.5" width="3.5" height="2.0" fill="#c9cfcc" />
<rect x="321.4" y="339.5" width="3.5" height="2.0" fill="#c9cfcc" />
<rect x="307.2" y="324.4" width="14.8" height="18.9" fill="#161718" />
<rect x="308.4" y="325.6" width="12.4" height="16.5" fill="#4a4c4f" />
<rect x="300.0" y="355.0" width="14.0" height="5.0" fill="#e6ebe8" rx="1.5"/>
<rect x="303.5" y="356.2" width="7.0" height="2.5" fill="#3a3c3a" />
<rect x="300.0" y="362.0" width="14.0" height="5.0" fill="#e6ebe8" rx="1.5"/>
<rect x="303.5" y="363.2" width="7.0" height="2.5" fill="#3a3c3a" />
<rect x="238.5" y="344.0" width="16.0" height="22.5" fill="#e2e6e4" />
<rect x="238.5" y="346.7" width="16.0" height="17.1" fill="#2a2c2e" />
<rect x="283.0" y="370.0" width="32.0" height="24.0" fill="#25302b" />
<circle cx="295.0" cy="381.8" r="11.5" fill="#ececec" />
<circle cx="295.0" cy="381.8" r="11.5" fill="none" stroke="#aaa" stroke-width="0.8"/>
<rect x="282.0" y="373.0" width="6.0" height="8.0" fill="#e6ebe8" rx="1.5"/>
<rect x="283.5" y="375.0" width="3.0" height="4.0" fill="#3a3c3a" />
<circle cx="326.0" cy="391.0" r="3.5" fill="#e8e8e8" />
<circle cx="326.0" cy="391.0" r="1.5" fill="#2a2a2a" />
<circle cx="352.3" cy="403.7" r="4.0" fill="#e8e8e8" />
<circle cx="352.3" cy="403.7" r="1.8" fill="#2a2a2a" />
<text x="323.0" y="386.0" font-size="7" fill="#e6f2ea" font-weight="normal" text-anchor="start" >12V</text>
<text x="345.4" y="397.5" font-size="7.5" fill="#e6f2ea" font-weight="normal" text-anchor="start" textLength="13.8" lengthAdjust="spacingAndGlyphs" >GND</text>
<rect x="327.7" y="271.7" width="173.3" height="11.3" fill="none" stroke="#f5e612" stroke-width="2.2"/>
<rect x="327.7" y="287.8" width="173.3" height="18.2" fill="#eef1ee" stroke="#f5e612" stroke-width="2.2"/>
<rect x="329.3" y="289.5" width="19.0" height="15.0" fill="#f1f3f1" stroke="#c8cdc9" stroke-width="0.5"/>
<circle cx="339.3" cy="296.5" r="5.6" fill="#2a2b2d" />
<circle cx="331.8" cy="291.5" r="1.4" fill="#333" />
<circle cx="331.8" cy="301.5" r="1.4" fill="#333" />
<circle cx="346.8" cy="291.5" r="1.4" fill="#333" />
<circle cx="346.8" cy="301.5" r="1.4" fill="#333" />
<rect x="335.3" y="275.0" width="9.0" height="5.0" fill="#f3f3f0" />
<rect x="333.3" y="274.0" width="2.0" height="7.0" fill="#cfd6d0" />
<rect x="332.8" y="309.5" width="3.0" height="6.0" fill="#e6ebe8" />
<rect x="343.3" y="309.5" width="3.0" height="6.0" fill="#e6ebe8" />
<rect x="349.9" y="289.5" width="19.0" height="15.0" fill="#f1f3f1" stroke="#c8cdc9" stroke-width="0.5"/>
<circle cx="359.9" cy="296.5" r="5.6" fill="#2a2b2d" />
<circle cx="352.4" cy="291.5" r="1.4" fill="#333" />
<circle cx="352.4" cy="301.5" r="1.4" fill="#333" />
<circle cx="367.4" cy="291.5" r="1.4" fill="#333" />
<circle cx="367.4" cy="301.5" r="1.4" fill="#333" />
<rect x="355.9" y="275.0" width="9.0" height="5.0" fill="#f3f3f0" />
<rect x="353.9" y="274.0" width="2.0" height="7.0" fill="#cfd6d0" />
<rect x="353.4" y="309.5" width="3.0" height="6.0" fill="#e6ebe8" />
<rect x="363.9" y="309.5" width="3.0" height="6.0" fill="#e6ebe8" />
<rect x="370.6" y="289.5" width="19.0" height="15.0" fill="#f1f3f1" stroke="#c8cdc9" stroke-width="0.5"/>
<circle cx="380.6" cy="296.5" r="5.6" fill="#2a2b2d" />
<circle cx="373.1" cy="291.5" r="1.4" fill="#333" />
<circle cx="373.1" cy="301.5" r="1.4" fill="#333" />
<circle cx="388.1" cy="291.5" r="1.4" fill="#333" />
<circle cx="388.1" cy="301.5" r="1.4" fill="#333" />
<rect x="376.6" y="275.0" width="9.0" height="5.0" fill="#f3f3f0" />
<rect x="374.6" y="274.0" width="2.0" height="7.0" fill="#cfd6d0" />
<rect x="374.1" y="309.5" width="3.0" height="6.0" fill="#e6ebe8" />
<rect x="384.6" y="309.5" width="3.0" height="6.0" fill="#e6ebe8" />
<rect x="391.2" y="289.5" width="19.0" height="15.0" fill="#f1f3f1" stroke="#c8cdc9" stroke-width="0.5"/>
<circle cx="401.2" cy="296.5" r="5.6" fill="#2a2b2d" />
<circle cx="393.7" cy="291.5" r="1.4" fill="#333" />
<circle cx="393.7" cy="301.5" r="1.4" fill="#333" />
<circle cx="408.7" cy="291.5" r="1.4" fill="#333" />
<circle cx="408.7" cy="301.5" r="1.4" fill="#333" />
<rect x="397.2" y="275.0" width="9.0" height="5.0" fill="#f3f3f0" />
<rect x="395.2" y="274.0" width="2.0" height="7.0" fill="#cfd6d0" />
<rect x="394.7" y="309.5" width="3.0" height="6.0" fill="#e6ebe8" />
<rect x="405.2" y="309.5" width="3.0" height="6.0" fill="#e6ebe8" />
<rect x="411.9" y="289.5" width="19.0" height="15.0" fill="#f1f3f1" stroke="#c8cdc9" stroke-width="0.5"/>
<circle cx="421.9" cy="296.5" r="5.6" fill="#2a2b2d" />
<circle cx="414.4" cy="291.5" r="1.4" fill="#333" />
<circle cx="414.4" cy="301.5" r="1.4" fill="#333" />
<circle cx="429.4" cy="291.5" r="1.4" fill="#333" />
<circle cx="429.4" cy="301.5" r="1.4" fill="#333" />
<rect x="417.9" y="275.0" width="9.0" height="5.0" fill="#f3f3f0" />
<rect x="415.9" y="274.0" width="2.0" height="7.0" fill="#cfd6d0" />
<rect x="415.4" y="309.5" width="3.0" height="6.0" fill="#e6ebe8" />
<rect x="425.9" y="309.5" width="3.0" height="6.0" fill="#e6ebe8" />
<rect x="432.5" y="289.5" width="19.0" height="15.0" fill="#f1f3f1" stroke="#c8cdc9" stroke-width="0.5"/>
<circle cx="442.5" cy="296.5" r="5.6" fill="#2a2b2d" />
<circle cx="435.0" cy="291.5" r="1.4" fill="#333" />
<circle cx="435.0" cy="301.5" r="1.4" fill="#333" />
<circle cx="450.0" cy="291.5" r="1.4" fill="#333" />
<circle cx="450.0" cy="301.5" r="1.4" fill="#333" />
<rect x="438.5" y="275.0" width="9.0" height="5.0" fill="#f3f3f0" />
<rect x="436.5" y="274.0" width="2.0" height="7.0" fill="#cfd6d0" />
<rect x="436.0" y="309.5" width="3.0" height="6.0" fill="#e6ebe8" />
<rect x="446.5" y="309.5" width="3.0" height="6.0" fill="#e6ebe8" />
<rect x="453.1" y="289.5" width="19.0" height="15.0" fill="#f1f3f1" stroke="#c8cdc9" stroke-width="0.5"/>
<circle cx="463.1" cy="296.5" r="5.6" fill="#2a2b2d" />
<circle cx="455.6" cy="291.5" r="1.4" fill="#333" />
<circle cx="455.6" cy="301.5" r="1.4" fill="#333" />
<circle cx="470.6" cy="291.5" r="1.4" fill="#333" />
<circle cx="470.6" cy="301.5" r="1.4" fill="#333" />
<rect x="459.1" y="275.0" width="9.0" height="5.0" fill="#f3f3f0" />
<rect x="457.1" y="274.0" width="2.0" height="7.0" fill="#cfd6d0" />
<rect x="456.6" y="309.5" width="3.0" height="6.0" fill="#e6ebe8" />
<rect x="467.1" y="309.5" width="3.0" height="6.0" fill="#e6ebe8" />
<rect x="473.8" y="289.5" width="19.0" height="15.0" fill="#f1f3f1" stroke="#c8cdc9" stroke-width="0.5"/>
<circle cx="483.8" cy="296.5" r="5.6" fill="#2a2b2d" />
<circle cx="476.3" cy="291.5" r="1.4" fill="#333" />
<circle cx="476.3" cy="301.5" r="1.4" fill="#333" />
<circle cx="491.3" cy="291.5" r="1.4" fill="#333" />
<circle cx="491.3" cy="301.5" r="1.4" fill="#333" />
<rect x="479.8" y="275.0" width="9.0" height="5.0" fill="#f3f3f0" />
<rect x="477.8" y="274.0" width="2.0" height="7.0" fill="#cfd6d0" />
<rect x="477.3" y="309.5" width="3.0" height="6.0" fill="#e6ebe8" />
<rect x="487.8" y="309.5" width="3.0" height="6.0" fill="#e6ebe8" />
<rect x="337.6" y="320.3" width="17.0" height="7.2" fill="#e8ece9" rx="3"/>
<rect x="340.6" y="321.8" width="11.0" height="4.2" fill="#4a4d4b" />
<rect x="357.6" y="320.3" width="17.0" height="7.2" fill="#e8ece9" rx="3"/>
<rect x="360.6" y="321.8" width="11.0" height="4.2" fill="#4a4d4b" />
<rect x="377.6" y="320.3" width="17.0" height="7.2" fill="#e8ece9" rx="3"/>
<rect x="380.6" y="321.8" width="11.0" height="4.2" fill="#4a4d4b" />
<rect x="397.6" y="320.3" width="17.0" height="7.2" fill="#e8ece9" rx="3"/>
<rect x="400.6" y="321.8" width="11.0" height="4.2" fill="#4a4d4b" />
<rect x="417.6" y="320.3" width="17.0" height="7.2" fill="#e8ece9" rx="3"/>
<rect x="420.6" y="321.8" width="11.0" height="4.2" fill="#4a4d4b" />
<rect x="437.6" y="320.3" width="17.0" height="7.2" fill="#e8ece9" rx="3"/>
<rect x="440.6" y="321.8" width="11.0" height="4.2" fill="#4a4d4b" />
<rect x="457.6" y="320.3" width="17.0" height="7.2" fill="#e8ece9" rx="3"/>
<rect x="460.6" y="321.8" width="11.0" height="4.2" fill="#4a4d4b" />
<rect x="477.6" y="320.3" width="17.0" height="7.2" fill="#e8ece9" rx="3"/>
<rect x="480.6" y="321.8" width="11.0" height="4.2" fill="#4a4d4b" />
<rect x="337.7" y="332.5" width="11.0" height="5.5" fill="#e6ebe8" rx="1.5"/>
<rect x="340.4" y="333.9" width="5.5" height="2.8" fill="#3a3c3a" />
<rect x="339.4" y="343.6" width="2.0" height="5.0" fill="#c9cfcc" />
<rect x="339.4" y="364.4" width="2.0" height="5.0" fill="#c9cfcc" />
<rect x="346.9" y="343.6" width="2.0" height="5.0" fill="#c9cfcc" />
<rect x="346.9" y="364.4" width="2.0" height="5.0" fill="#c9cfcc" />
<rect x="336.1" y="348.0" width="16.2" height="17.0" fill="#161718" />
<rect x="337.3" y="349.2" width="13.8" height="14.6" fill="#4a4c4f" />
<rect x="337.7" y="376.5" width="11.0" height="5.5" fill="#e6ebe8" rx="1.5"/>
<rect x="340.4" y="377.9" width="5.5" height="2.8" fill="#3a3c3a" />
<circle cx="356.7" cy="356.0" r="1.8" fill="#f0f0f0" />
<rect x="360.5" y="332.5" width="11.0" height="5.5" fill="#e6ebe8" rx="1.5"/>
<rect x="363.2" y="333.9" width="5.5" height="2.8" fill="#3a3c3a" />
<rect x="362.2" y="343.6" width="2.0" height="5.0" fill="#c9cfcc" />
<rect x="362.2" y="364.4" width="2.0" height="5.0" fill="#c9cfcc" />
<rect x="369.8" y="343.6" width="2.0" height="5.0" fill="#c9cfcc" />
<rect x="369.8" y="364.4" width="2.0" height="5.0" fill="#c9cfcc" />
<rect x="358.9" y="348.0" width="16.2" height="17.0" fill="#161718" />
<rect x="360.1" y="349.2" width="13.8" height="14.6" fill="#4a4c4f" />
<rect x="360.5" y="376.5" width="11.0" height="5.5" fill="#e6ebe8" rx="1.5"/>
<rect x="363.2" y="377.9" width="5.5" height="2.8" fill="#3a3c3a" />
<circle cx="379.5" cy="356.0" r="1.8" fill="#f0f0f0" />
<rect x="383.3" y="332.5" width="11.0" height="5.5" fill="#e6ebe8" rx="1.5"/>
<rect x="386.1" y="333.9" width="5.5" height="2.8" fill="#3a3c3a" />
<rect x="385.1" y="343.6" width="2.0" height="5.0" fill="#c9cfcc" />
<rect x="385.1" y="364.4" width="2.0" height="5.0" fill="#c9cfcc" />
<rect x="392.6" y="343.6" width="2.0" height="5.0" fill="#c9cfcc" />
<rect x="392.6" y="364.4" width="2.0" height="5.0" fill="#c9cfcc" />
<rect x="381.7" y="348.0" width="16.2" height="17.0" fill="#161718" />
<rect x="382.9" y="349.2" width="13.8" height="14.6" fill="#4a4c4f" />
<rect x="383.3" y="376.5" width="11.0" height="5.5" fill="#e6ebe8" rx="1.5"/>
<rect x="386.1" y="377.9" width="5.5" height="2.8" fill="#3a3c3a" />
<circle cx="402.3" cy="356.0" r="1.8" fill="#f0f0f0" />
<rect x="406.1" y="332.5" width="11.0" height="5.5" fill="#e6ebe8" rx="1.5"/>
<rect x="408.9" y="333.9" width="5.5" height="2.8" fill="#3a3c3a" />
<rect x="407.9" y="343.6" width="2.0" height="5.0" fill="#c9cfcc" />
<rect x="407.9" y="364.4" width="2.0" height="5.0" fill="#c9cfcc" />
<rect x="415.4" y="343.6" width="2.0" height="5.0" fill="#c9cfcc" />
<rect x="415.4" y="364.4" width="2.0" height="5.0" fill="#c9cfcc" />
<rect x="404.5" y="348.0" width="16.2" height="17.0" fill="#161718" />
<rect x="405.7" y="349.2" width="13.8" height="14.6" fill="#4a4c4f" />
<rect x="406.1" y="376.5" width="11.0" height="5.5" fill="#e6ebe8" rx="1.5"/>
<rect x="408.9" y="377.9" width="5.5" height="2.8" fill="#3a3c3a" />
<circle cx="425.1" cy="356.0" r="1.8" fill="#f0f0f0" />
<rect x="428.9" y="332.5" width="11.0" height="5.5" fill="#e6ebe8" rx="1.5"/>
<rect x="431.6" y="333.9" width="5.5" height="2.8" fill="#3a3c3a" />
<rect x="430.6" y="343.6" width="2.0" height="5.0" fill="#c9cfcc" />
<rect x="430.6" y="364.4" width="2.0" height="5.0" fill="#c9cfcc" />
<rect x="438.1" y="343.6" width="2.0" height="5.0" fill="#c9cfcc" />
<rect x="438.1" y="364.4" width="2.0" height="5.0" fill="#c9cfcc" />
<rect x="427.3" y="348.0" width="16.2" height="17.0" fill="#161718" />
<rect x="428.5" y="349.2" width="13.8" height="14.6" fill="#4a4c4f" />
<rect x="428.9" y="376.5" width="11.0" height="5.5" fill="#e6ebe8" rx="1.5"/>
<rect x="431.6" y="377.9" width="5.5" height="2.8" fill="#3a3c3a" />
<circle cx="447.9" cy="356.0" r="1.8" fill="#f0f0f0" />
<rect x="451.7" y="332.5" width="11.0" height="5.5" fill="#e6ebe8" rx="1.5"/>
<rect x="454.4" y="333.9" width="5.5" height="2.8" fill="#3a3c3a" />
<rect x="453.4" y="343.6" width="2.0" height="5.0" fill="#c9cfcc" />
<rect x="453.4" y="364.4" width="2.0" height="5.0" fill="#c9cfcc" />
<rect x="460.9" y="343.6" width="2.0" height="5.0" fill="#c9cfcc" />
<rect x="460.9" y="364.4" width="2.0" height="5.0" fill="#c9cfcc" />
<rect x="450.1" y="348.0" width="16.2" height="17.0" fill="#161718" />
<rect x="451.3" y="349.2" width="13.8" height="14.6" fill="#4a4c4f" />
<rect x="451.7" y="376.5" width="11.0" height="5.5" fill="#e6ebe8" rx="1.5"/>
<rect x="454.4" y="377.9" width="5.5" height="2.8" fill="#3a3c3a" />
<circle cx="470.7" cy="356.0" r="1.8" fill="#f0f0f0" />
<rect x="474.5" y="332.5" width="11.0" height="5.5" fill="#e6ebe8" rx="1.5"/>
<rect x="477.2" y="333.9" width="5.5" height="2.8" fill="#3a3c3a" />
<rect x="476.2" y="343.6" width="2.0" height="5.0" fill="#c9cfcc" />
<rect x="476.2" y="364.4" width="2.0" height="5.0" fill="#c9cfcc" />
<rect x="483.8" y="343.6" width="2.0" height="5.0" fill="#c9cfcc" />
<rect x="483.8" y="364.4" width="2.0" height="5.0" fill="#c9cfcc" />
<rect x="472.9" y="348.0" width="16.2" height="17.0" fill="#161718" />
<rect x="474.1" y="349.2" width="13.8" height="14.6" fill="#4a4c4f" />
<rect x="474.5" y="376.5" width="11.0" height="5.5" fill="#e6ebe8" rx="1.5"/>
<rect x="477.2" y="377.9" width="5.5" height="2.8" fill="#3a3c3a" />
<circle cx="493.5" cy="356.0" r="1.8" fill="#f0f0f0" />
<rect x="497.3" y="332.5" width="11.0" height="5.5" fill="#e6ebe8" rx="1.5"/>
<rect x="500.0" y="333.9" width="5.5" height="2.8" fill="#3a3c3a" />
<rect x="499.0" y="343.6" width="2.0" height="5.0" fill="#c9cfcc" />
<rect x="499.0" y="364.4" width="2.0" height="5.0" fill="#c9cfcc" />
<rect x="506.5" y="343.6" width="2.0" height="5.0" fill="#c9cfcc" />
<rect x="506.5" y="364.4" width="2.0" height="5.0" fill="#c9cfcc" />
<rect x="495.7" y="348.0" width="16.2" height="17.0" fill="#161718" />
<rect x="496.9" y="349.2" width="13.8" height="14.6" fill="#4a4c4f" />
<rect x="497.3" y="376.5" width="11.0" height="5.5" fill="#e6ebe8" rx="1.5"/>
<rect x="500.0" y="377.9" width="5.5" height="2.8" fill="#3a3c3a" />
<circle cx="516.3" cy="356.0" r="1.8" fill="#f0f0f0" />
<rect x="502.0" y="279.0" width="28.0" height="16.0" fill="#dfe4e1" />
<rect x="505.0" y="280.5" width="22.0" height="13.0" fill="#262829" />
<rect x="501.0" y="302.0" width="13.4" height="20.0" fill="#e2e6e4" />
<rect x="501.0" y="304.4" width="13.4" height="15.2" fill="#2a2c2e" />
<rect x="517.0" y="302.0" width="14.5" height="20.0" fill="#e2e6e4" />
<rect x="517.0" y="304.4" width="14.5" height="15.2" fill="#2a2c2e" />
<rect x="535.0" y="296.0" width="17.0" height="7.5" fill="#e6ebe8" rx="1.5"/>
<rect x="539.2" y="297.9" width="8.5" height="3.8" fill="#3a3c3a" />
<rect x="535.0" y="305.6" width="17.0" height="7.5" fill="#e6ebe8" rx="1.5"/>
<rect x="539.2" y="307.5" width="8.5" height="3.8" fill="#3a3c3a" />
<rect x="535.0" y="315.2" width="17.0" height="7.5" fill="#e6ebe8" rx="1.5"/>
<rect x="539.2" y="317.1" width="8.5" height="3.8" fill="#3a3c3a" />
<rect x="548.9" y="330.4" width="28.2" height="28.2" fill="#25302b" />
<circle cx="563.0" cy="344.5" r="12.6" fill="#c9cccb" />
<circle cx="562.0" cy="343.5" r="10.7" fill="#eeeeee" />
<path d="M555.4,351.4 A12.6,12.6 0 0 0 570.6,351.4" fill="#2c2c2c" stroke="none" stroke-width="1" />
<rect x="518.0" y="368.0" width="13.5" height="20.6" fill="#e2e6e4" />
<rect x="518.0" y="370.5" width="13.5" height="15.7" fill="#2a2c2e" />
<rect x="536.0" y="363.4" width="29.0" height="32.4" fill="#2a2c2e" />
<rect x="538.0" y="365.0" width="25.0" height="29.0" fill="#3a3c3e" />
<circle cx="550.4" cy="380.5" r="8.5" fill="#7c7f81" />
<rect x="572.5" y="303.5" width="3.5" height="2.0" fill="#c9cfcc" />
<rect x="590.0" y="303.5" width="3.5" height="2.0" fill="#c9cfcc" />
<rect x="572.5" y="308.5" width="3.5" height="2.0" fill="#c9cfcc" />
<rect x="590.0" y="308.5" width="3.5" height="2.0" fill="#c9cfcc" />
<rect x="572.5" y="313.5" width="3.5" height="2.0" fill="#c9cfcc" />
<rect x="590.0" y="313.5" width="3.5" height="2.0" fill="#c9cfcc" />
<rect x="572.5" y="318.5" width="3.5" height="2.0" fill="#c9cfcc" />
<rect x="590.0" y="318.5" width="3.5" height="2.0" fill="#c9cfcc" />
<rect x="575.4" y="301.4" width="15.2" height="21.2" fill="#161718" />
<rect x="576.6" y="302.6" width="12.8" height="18.8" fill="#4a4c4f" />
<rect x="572.5" y="368.2" width="3.5" height="2.0" fill="#c9cfcc" />
<rect x="590.0" y="368.2" width="3.5" height="2.0" fill="#c9cfcc" />
<rect x="572.5" y="372.8" width="3.5" height="2.0" fill="#c9cfcc" />
<rect x="590.0" y="372.8" width="3.5" height="2.0" fill="#c9cfcc" />
<rect x="572.5" y="377.2" width="3.5" height="2.0" fill="#c9cfcc" />
<rect x="590.0" y="377.2" width="3.5" height="2.0" fill="#c9cfcc" />
<rect x="572.5" y="381.8" width="3.5" height="2.0" fill="#c9cfcc" />
<rect x="590.0" y="381.8" width="3.5" height="2.0" fill="#c9cfcc" />
<rect x="575.4" y="366.4" width="15.2" height="19.2" fill="#161718" />
<rect x="576.6" y="367.6" width="12.8" height="16.8" fill="#4a4c4f" />
<rect x="566.0" y="306.0" width="5.0" height="5.0" fill="#e6ebe8" rx="1.5"/>
<rect x="567.2" y="307.2" width="2.5" height="2.5" fill="#3a3c3a" />
<rect x="566.0" y="314.0" width="5.0" height="5.0" fill="#e6ebe8" rx="1.5"/>
<rect x="567.2" y="315.2" width="2.5" height="2.5" fill="#3a3c3a" />
<circle cx="354.0" cy="435.8" r="12.0" fill="#f4f5f4" />
<circle cx="354.0" cy="435.8" r="5.4" fill="#1a1a1a" />
<rect x="393.3" y="404.5" width="2.0" height="4.5" fill="#c9cfcc" />
<rect x="393.3" y="436.0" width="2.0" height="4.5" fill="#c9cfcc" />
<rect x="397.8" y="404.5" width="2.0" height="4.5" fill="#c9cfcc" />
<rect x="397.8" y="436.0" width="2.0" height="4.5" fill="#c9cfcc" />
<rect x="402.3" y="404.5" width="2.0" height="4.5" fill="#c9cfcc" />
<rect x="402.3" y="436.0" width="2.0" height="4.5" fill="#c9cfcc" />
<rect x="406.8" y="404.5" width="2.0" height="4.5" fill="#c9cfcc" />
<rect x="406.8" y="436.0" width="2.0" height="4.5" fill="#c9cfcc" />
<rect x="411.3" y="404.5" width="2.0" height="4.5" fill="#c9cfcc" />
<rect x="411.3" y="436.0" width="2.0" height="4.5" fill="#c9cfcc" />
<rect x="415.8" y="404.5" width="2.0" height="4.5" fill="#c9cfcc" />
<rect x="415.8" y="436.0" width="2.0" height="4.5" fill="#c9cfcc" />
<rect x="420.3" y="404.5" width="2.0" height="4.5" fill="#c9cfcc" />
<rect x="420.3" y="436.0" width="2.0" height="4.5" fill="#c9cfcc" />
<rect x="424.8" y="404.5" width="2.0" height="4.5" fill="#c9cfcc" />
<rect x="424.8" y="436.0" width="2.0" height="4.5" fill="#c9cfcc" />
<rect x="429.3" y="404.5" width="2.0" height="4.5" fill="#c9cfcc" />
<rect x="429.3" y="436.0" width="2.0" height="4.5" fill="#c9cfcc" />
<rect x="391.4" y="408.4" width="41.8" height="28.2" fill="#161718" />
<rect x="392.6" y="409.6" width="39.4" height="25.8" fill="#4a4c4f" />
<rect x="394.6" y="460.6" width="2.0" height="5.0" fill="#c9cfcc" />
<rect x="394.6" y="480.4" width="2.0" height="5.0" fill="#c9cfcc" />
<rect x="398.9" y="460.6" width="2.0" height="5.0" fill="#c9cfcc" />
<rect x="398.9" y="480.4" width="2.0" height="5.0" fill="#c9cfcc" />
<rect x="403.3" y="460.6" width="2.0" height="5.0" fill="#c9cfcc" />
<rect x="403.3" y="480.4" width="2.0" height="5.0" fill="#c9cfcc" />
<rect x="407.6" y="460.6" width="2.0" height="5.0" fill="#c9cfcc" />
<rect x="407.6" y="480.4" width="2.0" height="5.0" fill="#c9cfcc" />
<rect x="412.0" y="460.6" width="2.0" height="5.0" fill="#c9cfcc" />
<rect x="412.0" y="480.4" width="2.0" height="5.0" fill="#c9cfcc" />
<rect x="416.4" y="460.6" width="2.0" height="5.0" fill="#c9cfcc" />
<rect x="416.4" y="480.4" width="2.0" height="5.0" fill="#c9cfcc" />
<rect x="420.7" y="460.6" width="2.0" height="5.0" fill="#c9cfcc" />
<rect x="420.7" y="480.4" width="2.0" height="5.0" fill="#c9cfcc" />
<rect x="425.1" y="460.6" width="2.0" height="5.0" fill="#c9cfcc" />
<rect x="425.1" y="480.4" width="2.0" height="5.0" fill="#c9cfcc" />
<rect x="429.4" y="460.6" width="2.0" height="5.0" fill="#c9cfcc" />
<rect x="429.4" y="480.4" width="2.0" height="5.0" fill="#c9cfcc" />
<rect x="392.8" y="465.0" width="40.4" height="16.0" fill="#161718" />
<rect x="394.0" y="466.2" width="38.0" height="13.6" fill="#4a4c4f" />
<rect x="463.2" y="459.0" width="2.0" height="4.0" fill="#c9cfcc" />
<rect x="463.2" y="482.5" width="2.0" height="4.0" fill="#c9cfcc" />
<rect x="467.0" y="459.0" width="2.0" height="4.0" fill="#c9cfcc" />
<rect x="467.0" y="482.5" width="2.0" height="4.0" fill="#c9cfcc" />
<rect x="470.8" y="459.0" width="2.0" height="4.0" fill="#c9cfcc" />
<rect x="470.8" y="482.5" width="2.0" height="4.0" fill="#c9cfcc" />
<rect x="474.5" y="459.0" width="2.0" height="4.0" fill="#c9cfcc" />
<rect x="474.5" y="482.5" width="2.0" height="4.0" fill="#c9cfcc" />
<rect x="478.3" y="459.0" width="2.0" height="4.0" fill="#c9cfcc" />
<rect x="478.3" y="482.5" width="2.0" height="4.0" fill="#c9cfcc" />
<rect x="461.7" y="462.4" width="20.1" height="20.7" fill="#161718" />
<rect x="462.9" y="463.6" width="17.7" height="18.3" fill="#4a4c4f" />
<rect x="514.8" y="448.0" width="2.0" height="4.5" fill="#c9cfcc" />
<rect x="514.8" y="485.5" width="2.0" height="4.5" fill="#c9cfcc" />
<rect x="519.1" y="448.0" width="2.0" height="4.5" fill="#c9cfcc" />
<rect x="519.1" y="485.5" width="2.0" height="4.5" fill="#c9cfcc" />
<rect x="523.5" y="448.0" width="2.0" height="4.5" fill="#c9cfcc" />
<rect x="523.5" y="485.5" width="2.0" height="4.5" fill="#c9cfcc" />
<rect x="527.8" y="448.0" width="2.0" height="4.5" fill="#c9cfcc" />
<rect x="527.8" y="485.5" width="2.0" height="4.5" fill="#c9cfcc" />
<rect x="532.1" y="448.0" width="2.0" height="4.5" fill="#c9cfcc" />
<rect x="532.1" y="485.5" width="2.0" height="4.5" fill="#c9cfcc" />
<rect x="536.5" y="448.0" width="2.0" height="4.5" fill="#c9cfcc" />
<rect x="536.5" y="485.5" width="2.0" height="4.5" fill="#c9cfcc" />
<rect x="540.8" y="448.0" width="2.0" height="4.5" fill="#c9cfcc" />
<rect x="540.8" y="485.5" width="2.0" height="4.5" fill="#c9cfcc" />
<rect x="545.2" y="448.0" width="2.0" height="4.5" fill="#c9cfcc" />
<rect x="545.2" y="485.5" width="2.0" height="4.5" fill="#c9cfcc" />
<rect x="549.5" y="448.0" width="2.0" height="4.5" fill="#c9cfcc" />
<rect x="549.5" y="485.5" width="2.0" height="4.5" fill="#c9cfcc" />
<rect x="513.0" y="451.9" width="40.3" height="34.2" fill="#161718" />
<rect x="514.2" y="453.1" width="37.9" height="31.8" fill="#4a4c4f" />
<rect x="440.0" y="436.0" width="5.0" height="8.0" fill="#e6ebe8" rx="1.5"/>
<rect x="441.2" y="438.0" width="2.5" height="4.0" fill="#3a3c3a" />
<rect x="446.0" y="441.0" width="7.0" height="14.0" fill="#e6ebe8" rx="1.5"/>
<rect x="447.8" y="444.5" width="3.5" height="7.0" fill="#3a3c3a" />
<rect x="487.0" y="446.0" width="5.0" height="7.0" fill="#e6ebe8" rx="1.5"/>
<rect x="488.2" y="447.8" width="2.5" height="3.5" fill="#3a3c3a" />
<rect x="358.0" y="462.0" width="13.0" height="6.0" fill="#e6ebe8" rx="1.5"/>
<rect x="361.2" y="463.5" width="6.5" height="3.0" fill="#3a3c3a" />
<rect x="372.0" y="462.0" width="13.0" height="6.0" fill="#e6ebe8" rx="1.5"/>
<rect x="375.2" y="463.5" width="6.5" height="3.0" fill="#3a3c3a" />
<rect x="358.0" y="473.0" width="13.0" height="6.0" fill="#e6ebe8" rx="1.5"/>
<rect x="361.2" y="474.5" width="6.5" height="3.0" fill="#3a3c3a" />
<rect x="372.0" y="473.0" width="13.0" height="6.0" fill="#e6ebe8" rx="1.5"/>
<rect x="375.2" y="474.5" width="6.5" height="3.0" fill="#3a3c3a" />
<rect x="375.0" y="487.0" width="8.0" height="5.0" fill="#e6ebe8" rx="1.5"/>
<rect x="377.0" y="488.2" width="4.0" height="2.5" fill="#3a3c3a" />
<rect x="559.0" y="477.0" width="5.0" height="8.0" fill="#e6ebe8" rx="1.5"/>
<rect x="560.2" y="479.0" width="2.5" height="4.0" fill="#3a3c3a" />
<rect x="489.3" y="462.4" width="14.7" height="13.5" fill="#e6ebe8" rx="1"/>
<rect x="490.5" y="464.0" width="2.2" height="4.0" fill="#3a3c3a" />
<rect x="490.5" y="470.5" width="2.2" height="4.0" fill="#3a3c3a" />
<rect x="493.9" y="464.0" width="2.2" height="4.0" fill="#3a3c3a" />
<rect x="493.9" y="470.5" width="2.2" height="4.0" fill="#3a3c3a" />
<rect x="497.3" y="464.0" width="2.2" height="4.0" fill="#3a3c3a" />
<rect x="497.3" y="470.5" width="2.2" height="4.0" fill="#3a3c3a" />
<rect x="500.7" y="464.0" width="2.2" height="4.0" fill="#3a3c3a" />
<rect x="500.7" y="470.5" width="2.2" height="4.0" fill="#3a3c3a" />
<rect x="460.0" y="444.0" width="5.0" height="9.0" fill="#e6ebe8" rx="1.5"/>
<rect x="461.2" y="446.2" width="2.5" height="4.5" fill="#3a3c3a" />
<rect x="607.9" y="282.3" width="6.5" height="12.7" fill="#e6ebe8" rx="1.5"/>
<rect x="609.5" y="285.5" width="3.2" height="6.3" fill="#3a3c3a" />
<rect x="615.4" y="282.3" width="6.5" height="12.7" fill="#e6ebe8" rx="1.5"/>
<rect x="617.0" y="285.5" width="3.2" height="6.3" fill="#3a3c3a" />
<rect x="622.4" y="287.0" width="2.5" height="5.0" fill="#f0f0f0" />
<rect x="628.0" y="282.3" width="6.5" height="12.7" fill="#e6ebe8" rx="1.5"/>
<rect x="629.6" y="285.5" width="3.2" height="6.3" fill="#3a3c3a" />
<rect x="635.5" y="282.3" width="6.5" height="12.7" fill="#e6ebe8" rx="1.5"/>
<rect x="637.1" y="285.5" width="3.2" height="6.3" fill="#3a3c3a" />
<rect x="642.5" y="287.0" width="2.5" height="5.0" fill="#f0f0f0" />
<rect x="648.6" y="282.3" width="6.5" height="12.7" fill="#e6ebe8" rx="1.5"/>
<rect x="650.2" y="285.5" width="3.2" height="6.3" fill="#3a3c3a" />
<rect x="656.1" y="282.3" width="6.5" height="12.7" fill="#e6ebe8" rx="1.5"/>
<rect x="657.7" y="285.5" width="3.2" height="6.3" fill="#3a3c3a" />
<rect x="663.1" y="287.0" width="2.5" height="5.0" fill="#f0f0f0" />
<rect x="670.0" y="282.3" width="6.5" height="12.7" fill="#e6ebe8" rx="1.5"/>
<rect x="671.6" y="285.5" width="3.2" height="6.3" fill="#3a3c3a" />
<rect x="677.5" y="282.3" width="6.5" height="12.7" fill="#e6ebe8" rx="1.5"/>
<rect x="679.1" y="285.5" width="3.2" height="6.3" fill="#3a3c3a" />
<rect x="684.5" y="287.0" width="2.5" height="5.0" fill="#f0f0f0" />
<rect x="657.3" y="304.9" width="7.5" height="2.0" fill="#c9cfcc" />
<rect x="677.6" y="304.9" width="7.5" height="2.0" fill="#c9cfcc" />
<rect x="657.3" y="309.6" width="7.5" height="2.0" fill="#c9cfcc" />
<rect x="677.6" y="309.6" width="7.5" height="2.0" fill="#c9cfcc" />
<rect x="657.3" y="314.4" width="7.5" height="2.0" fill="#c9cfcc" />
<rect x="677.6" y="314.4" width="7.5" height="2.0" fill="#c9cfcc" />
<rect x="657.3" y="319.1" width="7.5" height="2.0" fill="#c9cfcc" />
<rect x="677.6" y="319.1" width="7.5" height="2.0" fill="#c9cfcc" />
<rect x="657.3" y="323.8" width="7.5" height="2.0" fill="#c9cfcc" />
<rect x="677.6" y="323.8" width="7.5" height="2.0" fill="#c9cfcc" />
<rect x="657.3" y="328.6" width="7.5" height="2.0" fill="#c9cfcc" />
<rect x="677.6" y="328.6" width="7.5" height="2.0" fill="#c9cfcc" />
<rect x="657.3" y="333.3" width="7.5" height="2.0" fill="#c9cfcc" />
<rect x="677.6" y="333.3" width="7.5" height="2.0" fill="#c9cfcc" />
<rect x="664.2" y="302.9" width="14.0" height="34.4" fill="#161718" />
<rect x="665.4" y="304.1" width="11.6" height="32.0" fill="#4a4c4f" />
<rect x="691.0" y="306.1" width="3.0" height="2.0" fill="#c9cfcc" />
<rect x="701.0" y="306.1" width="3.0" height="2.0" fill="#c9cfcc" />
<rect x="691.0" y="311.6" width="3.0" height="2.0" fill="#c9cfcc" />
<rect x="701.0" y="311.6" width="3.0" height="2.0" fill="#c9cfcc" />
<rect x="693.4" y="303.8" width="8.2" height="12.2" fill="#161718" />
<rect x="694.6" y="305.0" width="5.8" height="9.8" fill="#4a4c4f" />
<rect x="709.7" y="306.1" width="3.0" height="2.0" fill="#c9cfcc" />
<rect x="719.7" y="306.1" width="3.0" height="2.0" fill="#c9cfcc" />
<rect x="709.7" y="311.6" width="3.0" height="2.0" fill="#c9cfcc" />
<rect x="719.7" y="311.6" width="3.0" height="2.0" fill="#c9cfcc" />
<rect x="712.1" y="303.8" width="8.2" height="12.2" fill="#161718" />
<rect x="713.3" y="305.0" width="5.8" height="9.8" fill="#4a4c4f" />
<rect x="691.0" y="323.1" width="3.0" height="2.0" fill="#c9cfcc" />
<rect x="701.0" y="323.1" width="3.0" height="2.0" fill="#c9cfcc" />
<rect x="691.0" y="328.6" width="3.0" height="2.0" fill="#c9cfcc" />
<rect x="701.0" y="328.6" width="3.0" height="2.0" fill="#c9cfcc" />
<rect x="693.4" y="320.8" width="8.2" height="12.2" fill="#161718" />
<rect x="694.6" y="322.0" width="5.8" height="9.8" fill="#4a4c4f" />
<rect x="709.7" y="323.1" width="3.0" height="2.0" fill="#c9cfcc" />
<rect x="719.7" y="323.1" width="3.0" height="2.0" fill="#c9cfcc" />
<rect x="709.7" y="328.6" width="3.0" height="2.0" fill="#c9cfcc" />
<rect x="719.7" y="328.6" width="3.0" height="2.0" fill="#c9cfcc" />
<rect x="712.1" y="320.8" width="8.2" height="12.2" fill="#161718" />
<rect x="713.3" y="322.0" width="5.8" height="9.8" fill="#4a4c4f" />
<rect x="572.0" y="304.8" width="3.0" height="2.0" fill="#c9cfcc" />
<rect x="600.0" y="304.8" width="3.0" height="2.0" fill="#c9cfcc" />
<rect x="572.0" y="309.2" width="3.0" height="2.0" fill="#c9cfcc" />
<rect x="600.0" y="309.2" width="3.0" height="2.0" fill="#c9cfcc" />
<rect x="572.0" y="313.8" width="3.0" height="2.0" fill="#c9cfcc" />
<rect x="600.0" y="313.8" width="3.0" height="2.0" fill="#c9cfcc" />
<rect x="572.0" y="318.2" width="3.0" height="2.0" fill="#c9cfcc" />
<rect x="600.0" y="318.2" width="3.0" height="2.0" fill="#c9cfcc" />
<rect x="574.4" y="302.9" width="26.2" height="19.2" fill="#161718" />
<rect x="575.6" y="304.1" width="23.8" height="16.8" fill="#4a4c4f" />
<rect x="612.0" y="305.0" width="7.0" height="5.0" fill="#e6ebe8" rx="1.5"/>
<rect x="613.8" y="306.2" width="3.5" height="2.5" fill="#3a3c3a" />
<rect x="612.0" y="313.0" width="7.0" height="5.0" fill="#e6ebe8" rx="1.5"/>
<rect x="613.8" y="314.2" width="3.5" height="2.5" fill="#3a3c3a" />
<rect x="612.0" y="321.0" width="7.0" height="5.0" fill="#e6ebe8" rx="1.5"/>
<rect x="613.8" y="322.2" width="3.5" height="2.5" fill="#3a3c3a" />
<rect x="637.0" y="307.0" width="4.0" height="5.0" fill="#e6ebe8" rx="1.5"/>
<rect x="638.0" y="308.2" width="2.0" height="2.5" fill="#3a3c3a" />
<rect x="643.0" y="307.0" width="4.0" height="5.0" fill="#e6ebe8" rx="1.5"/>
<rect x="644.0" y="308.2" width="2.0" height="2.5" fill="#3a3c3a" />
<rect x="637.0" y="317.0" width="4.0" height="6.0" fill="#e6ebe8" rx="1.5"/>
<rect x="638.0" y="318.5" width="2.0" height="3.0" fill="#3a3c3a" />
<rect x="600.5" y="326.2" width="2.5" height="2.0" fill="#c9cfcc" />
<rect x="609.0" y="326.2" width="2.5" height="2.0" fill="#c9cfcc" />
<rect x="600.5" y="330.8" width="2.5" height="2.0" fill="#c9cfcc" />
<rect x="609.0" y="330.8" width="2.5" height="2.0" fill="#c9cfcc" />
<rect x="602.4" y="324.4" width="7.2" height="10.2" fill="#161718" />
<rect x="603.6" y="325.6" width="4.8" height="7.8" fill="#4a4c4f" />
<rect x="634.0" y="320.0" width="6.0" height="9.0" fill="#e6ebe8" rx="1.5"/>
<rect x="635.5" y="322.2" width="3.0" height="4.5" fill="#3a3c3a" />
<rect x="572.0" y="368.6" width="3.0" height="2.0" fill="#c9cfcc" />
<rect x="603.0" y="368.6" width="3.0" height="2.0" fill="#c9cfcc" />
<rect x="572.0" y="373.3" width="3.0" height="2.0" fill="#c9cfcc" />
<rect x="603.0" y="373.3" width="3.0" height="2.0" fill="#c9cfcc" />
<rect x="572.0" y="378.0" width="3.0" height="2.0" fill="#c9cfcc" />
<rect x="603.0" y="378.0" width="3.0" height="2.0" fill="#c9cfcc" />
<rect x="572.0" y="382.7" width="3.0" height="2.0" fill="#c9cfcc" />
<rect x="603.0" y="382.7" width="3.0" height="2.0" fill="#c9cfcc" />
<rect x="574.4" y="366.7" width="29.2" height="19.9" fill="#161718" />
<rect x="575.6" y="367.9" width="26.8" height="17.5" fill="#4a4c4f" />
<circle cx="585.0" cy="400.0" r="4.0" fill="#dcdcdc" />
<circle cx="585.0" cy="400.0" r="2.0" fill="#2a2a2a" />
<text x="581.0" y="392.0" font-size="7" fill="#e6f2ea" font-weight="normal" text-anchor="start" >5V</text>
<rect x="611.0" y="369.0" width="26.0" height="27.0" fill="#23302a" />
<circle cx="624.0" cy="382.6" r="11.8" fill="#d0d2d1" />
<circle cx="623.0" cy="381.6" r="10.2" fill="#f0f0f0" />
<path d="M612.8,380 A11.8,11.8 0 0 1 635.2,380 Z" fill="#2a2a2a" stroke="none" stroke-width="1" />
<rect x="640.0" y="375.0" width="25.7" height="16.0" fill="#2a2c2e" />
<rect x="643.0" y="369.0" width="4.0" height="6.0" fill="#c9cfcc" />
<rect x="651.0" y="369.0" width="4.0" height="6.0" fill="#c9cfcc" />
<rect x="659.0" y="369.0" width="4.0" height="6.0" fill="#c9cfcc" />
<rect x="647.0" y="391.0" width="12.0" height="7.0" fill="#e8e8e8" />
<rect x="669.0" y="369.0" width="27.0" height="27.0" fill="#23302a" />
<circle cx="683.5" cy="382.6" r="11.8" fill="#d0d2d1" />
<circle cx="682.5" cy="381.6" r="10.2" fill="#f0f0f0" />
<path d="M671.8,380 A11.8,11.8 0 0 1 695.2,380 Z" fill="#2a2a2a" stroke="none" stroke-width="1" />
<circle cx="716.7" cy="381.8" r="11.9" fill="#b7bbb9" />
<circle cx="716.7" cy="381.8" r="5.0" fill="#151515" />
<circle cx="716.7" cy="381.8" r="8.5" fill="none" stroke="#8e9290" stroke-width="1.2"/>
<circle cx="710.7" cy="359.7" r="4.0" fill="#dcdcdc" />
<circle cx="710.7" cy="359.7" r="2.0" fill="#2a2a2a" />
<text x="705.0" y="352.0" font-size="7.5" fill="#e6f2ea" font-weight="normal" text-anchor="start" >3V3</text>
<rect x="614.0" y="398.0" width="7.0" height="8.0" fill="#e6ebe8" rx="1.5"/>
<rect x="615.8" y="400.0" width="3.5" height="4.0" fill="#3a3c3a" />
<rect x="624.0" y="398.0" width="7.0" height="8.0" fill="#e6ebe8" rx="1.5"/>
<rect x="625.8" y="400.0" width="3.5" height="4.0" fill="#3a3c3a" />
<rect x="675.0" y="400.0" width="7.0" height="6.0" fill="#e6ebe8" rx="1.5"/>
<rect x="676.8" y="401.5" width="3.5" height="3.0" fill="#3a3c3a" />
<rect x="742.0" y="302.7" width="4.0" height="2.0" fill="#c9cfcc" />
<rect x="772.0" y="302.7" width="4.0" height="2.0" fill="#c9cfcc" />
<rect x="742.0" y="307.6" width="4.0" height="2.0" fill="#c9cfcc" />
<rect x="772.0" y="307.6" width="4.0" height="2.0" fill="#c9cfcc" />
<rect x="742.0" y="312.4" width="4.0" height="2.0" fill="#c9cfcc" />
<rect x="772.0" y="312.4" width="4.0" height="2.0" fill="#c9cfcc" />
<rect x="742.0" y="317.2" width="4.0" height="2.0" fill="#c9cfcc" />
<rect x="772.0" y="317.2" width="4.0" height="2.0" fill="#c9cfcc" />
<rect x="742.0" y="322.1" width="4.0" height="2.0" fill="#c9cfcc" />
<rect x="772.0" y="322.1" width="4.0" height="2.0" fill="#c9cfcc" />
<rect x="742.0" y="326.9" width="4.0" height="2.0" fill="#c9cfcc" />
<rect x="772.0" y="326.9" width="4.0" height="2.0" fill="#c9cfcc" />
<rect x="742.0" y="331.7" width="4.0" height="2.0" fill="#c9cfcc" />
<rect x="772.0" y="331.7" width="4.0" height="2.0" fill="#c9cfcc" />
<rect x="742.0" y="336.6" width="4.0" height="2.0" fill="#c9cfcc" />
<rect x="772.0" y="336.6" width="4.0" height="2.0" fill="#c9cfcc" />
<rect x="745.4" y="300.7" width="27.2" height="39.9" fill="#161718" />
<rect x="746.6" y="301.9" width="24.8" height="37.5" fill="#4a4c4f" />
<rect x="754.0" y="283.0" width="8.0" height="8.0" fill="#e6ebe8" rx="1.5"/>
<rect x="756.0" y="285.0" width="4.0" height="4.0" fill="#3a3c3a" />
<rect x="764.0" y="283.0" width="8.0" height="8.0" fill="#e6ebe8" rx="1.5"/>
<rect x="766.0" y="285.0" width="4.0" height="4.0" fill="#3a3c3a" />
<rect x="779.0" y="291.0" width="2.0" height="2.0" fill="#c9cfcc" />
<rect x="790.0" y="291.0" width="2.0" height="2.0" fill="#c9cfcc" />
<rect x="779.0" y="297.0" width="2.0" height="2.0" fill="#c9cfcc" />
<rect x="790.0" y="297.0" width="2.0" height="2.0" fill="#c9cfcc" />
<rect x="780.4" y="288.4" width="10.2" height="13.2" fill="#161718" />
<rect x="781.6" y="289.6" width="7.8" height="10.8" fill="#4a4c4f" />
<rect x="778.0" y="305.0" width="6.0" height="8.0" fill="#e6ebe8" rx="1.5"/>
<rect x="779.5" y="307.0" width="3.0" height="4.0" fill="#3a3c3a" />
<rect x="787.0" y="306.0" width="6.0" height="8.0" fill="#e6ebe8" rx="1.5"/>
<rect x="788.5" y="308.0" width="3.0" height="4.0" fill="#3a3c3a" />
<rect x="786.0" y="318.0" width="7.0" height="6.0" fill="#e6ebe8" rx="1.5"/>
<rect x="787.8" y="319.5" width="3.5" height="3.0" fill="#3a3c3a" />
<rect x="779.0" y="323.8" width="2.0" height="2.0" fill="#c9cfcc" />
<rect x="790.0" y="323.8" width="2.0" height="2.0" fill="#c9cfcc" />
<rect x="779.0" y="329.2" width="2.0" height="2.0" fill="#c9cfcc" />
<rect x="790.0" y="329.2" width="2.0" height="2.0" fill="#c9cfcc" />
<rect x="780.4" y="321.4" width="10.2" height="12.2" fill="#161718" />
<rect x="781.6" y="322.6" width="7.8" height="9.8" fill="#4a4c4f" />
<rect x="777.0" y="344.0" width="10.0" height="6.0" fill="#e6ebe8" rx="1.5"/>
<rect x="779.5" y="345.5" width="5.0" height="3.0" fill="#3a3c3a" />
<rect x="777.0" y="352.0" width="10.0" height="6.0" fill="#e6ebe8" rx="1.5"/>
<rect x="779.5" y="353.5" width="5.0" height="3.0" fill="#3a3c3a" />
<rect x="792.0" y="346.0" width="6.0" height="9.0" fill="#e6ebe8" rx="1.5"/>
<rect x="793.5" y="348.2" width="3.0" height="4.5" fill="#3a3c3a" />
<rect x="807.5" y="315.5" width="11.4" height="6.0" fill="#e6ebe8" rx="1.5"/>
<rect x="810.4" y="317.0" width="5.7" height="3.0" fill="#3a3c3a" />
<rect x="807.5" y="323.0" width="11.4" height="6.0" fill="#e6ebe8" rx="1.5"/>
<rect x="810.4" y="324.5" width="5.7" height="3.0" fill="#3a3c3a" />
<rect x="807.5" y="330.5" width="11.4" height="6.0" fill="#e6ebe8" rx="1.5"/>
<rect x="810.4" y="332.0" width="5.7" height="3.0" fill="#3a3c3a" />
<rect x="807.5" y="338.0" width="11.4" height="6.0" fill="#e6ebe8" rx="1.5"/>
<rect x="810.4" y="339.5" width="5.7" height="3.0" fill="#3a3c3a" />
<rect x="807.5" y="345.5" width="11.4" height="6.0" fill="#e6ebe8" rx="1.5"/>
<rect x="810.4" y="347.0" width="5.7" height="3.0" fill="#3a3c3a" />
<rect x="807.5" y="353.0" width="11.4" height="6.0" fill="#e6ebe8" rx="1.5"/>
<rect x="810.4" y="354.5" width="5.7" height="3.0" fill="#3a3c3a" />
<rect x="821.0" y="310.4" width="8.0" height="12.6" fill="#e6ebe8" rx="1.5"/>
<rect x="823.0" y="313.5" width="4.0" height="6.3" fill="#3a3c3a" />
<rect x="830.6" y="310.4" width="8.0" height="12.6" fill="#e6ebe8" rx="1.5"/>
<rect x="832.6" y="313.5" width="4.0" height="6.3" fill="#3a3c3a" />
<rect x="840.2" y="310.4" width="8.0" height="12.6" fill="#e6ebe8" rx="1.5"/>
<rect x="842.2" y="313.5" width="4.0" height="6.3" fill="#3a3c3a" />
<rect x="849.8" y="310.4" width="8.0" height="12.6" fill="#e6ebe8" rx="1.5"/>
<rect x="851.8" y="313.5" width="4.0" height="6.3" fill="#3a3c3a" />
<rect x="859.4" y="310.4" width="8.0" height="12.6" fill="#e6ebe8" rx="1.5"/>
<rect x="861.4" y="313.5" width="4.0" height="6.3" fill="#3a3c3a" />
<rect x="869.0" y="310.4" width="8.0" height="12.6" fill="#e6ebe8" rx="1.5"/>
<rect x="871.0" y="313.5" width="4.0" height="6.3" fill="#3a3c3a" />
<rect x="878.6" y="310.4" width="8.0" height="12.6" fill="#e6ebe8" rx="1.5"/>
<rect x="880.6" y="313.5" width="4.0" height="6.3" fill="#3a3c3a" />
<rect x="823.5" y="329.7" width="2.0" height="2.0" fill="#c9cfcc" />
<rect x="843.6" y="329.7" width="2.0" height="2.0" fill="#c9cfcc" />
<rect x="823.5" y="333.3" width="2.0" height="2.0" fill="#c9cfcc" />
<rect x="843.6" y="333.3" width="2.0" height="2.0" fill="#c9cfcc" />
<rect x="823.5" y="336.9" width="2.0" height="2.0" fill="#c9cfcc" />
<rect x="843.6" y="336.9" width="2.0" height="2.0" fill="#c9cfcc" />
<rect x="823.5" y="340.5" width="2.0" height="2.0" fill="#c9cfcc" />
<rect x="843.6" y="340.5" width="2.0" height="2.0" fill="#c9cfcc" />
<rect x="823.5" y="344.1" width="2.0" height="2.0" fill="#c9cfcc" />
<rect x="843.6" y="344.1" width="2.0" height="2.0" fill="#c9cfcc" />
<rect x="824.9" y="328.3" width="19.3" height="19.2" fill="#161718" />
<rect x="826.1" y="329.5" width="16.9" height="16.8" fill="#4a4c4f" />
<rect x="854.0" y="331.0" width="10.0" height="6.0" fill="#e6ebe8" rx="1.5"/>
<rect x="856.5" y="332.5" width="5.0" height="3.0" fill="#3a3c3a" />
<rect x="873.0" y="328.0" width="38.0" height="12.0" fill="#dfe6e2" rx="1.5"/>
<rect x="882.5" y="331.0" width="19.0" height="6.0" fill="#bcc6c0" />
<rect x="828.0" y="358.0" width="6.0" height="10.0" fill="#e6ebe8" rx="1.5"/>
<rect x="829.5" y="360.5" width="3.0" height="5.0" fill="#3a3c3a" />
<rect x="838.0" y="358.0" width="6.0" height="10.0" fill="#e6ebe8" rx="1.5"/>
<rect x="839.5" y="360.5" width="3.0" height="5.0" fill="#3a3c3a" />
<rect x="913.0" y="356.0" width="10.0" height="6.0" fill="#e6ebe8" rx="1.5"/>
<rect x="915.5" y="357.5" width="5.0" height="3.0" fill="#3a3c3a" />
<rect x="913.0" y="364.0" width="10.0" height="6.0" fill="#e6ebe8" rx="1.5"/>
<rect x="915.5" y="365.5" width="5.0" height="3.0" fill="#3a3c3a" />
<rect x="695.4" y="243.0" width="21.3" height="23.0" fill="#f6f6f4" />
<rect x="697.0" y="258.0" width="3.0" height="8.0" fill="#ddd" />
<rect x="719.0" y="255.0" width="6.0" height="10.0" fill="#e6ebe8" rx="1.5"/>
<rect x="720.5" y="257.5" width="3.0" height="5.0" fill="#3a3c3a" />
<rect x="726.0" y="272.0" width="5.0" height="10.0" fill="#e6ebe8" rx="1.5"/>
<rect x="727.2" y="274.5" width="2.5" height="5.0" fill="#3a3c3a" />
<rect x="737.0" y="268.0" width="8.0" height="12.0" fill="#e6ebe8" rx="1.5"/>
<rect x="739.0" y="271.0" width="4.0" height="6.0" fill="#3a3c3a" />
<rect x="746.7" y="231.3" width="35.0" height="37.0" fill="#2b2d2f" rx="3"/>
<rect x="749.0" y="232.5" width="30.5" height="30.0" fill="#5e6062" rx="4"/>
<rect x="752.0" y="236.0" width="24.5" height="22.0" fill="#3c3e40" rx="3"/>
<rect x="755.0" y="248.0" width="18.0" height="4.0" fill="#8a8c8e" rx="1.5"/>
<rect x="756.0" y="252.0" width="5.0" height="3.0" fill="#d0d2d4" />
<rect x="767.0" y="252.0" width="5.0" height="3.0" fill="#d0d2d4" />
<rect x="747.5" y="261.0" width="34.0" height="7.0" fill="#bfc2c4" />
<rect x="749.0" y="262.0" width="1.6" height="6.0" fill="#6d7072" />
<rect x="752.3" y="262.0" width="1.6" height="6.0" fill="#6d7072" />
<rect x="755.6" y="262.0" width="1.6" height="6.0" fill="#6d7072" />
<rect x="758.9" y="262.0" width="1.6" height="6.0" fill="#6d7072" />
<rect x="762.2" y="262.0" width="1.6" height="6.0" fill="#6d7072" />
<rect x="765.5" y="262.0" width="1.6" height="6.0" fill="#6d7072" />
<rect x="768.8" y="262.0" width="1.6" height="6.0" fill="#6d7072" />
<rect x="772.1" y="262.0" width="1.6" height="6.0" fill="#6d7072" />
<rect x="775.4" y="262.0" width="1.6" height="6.0" fill="#6d7072" />
<rect x="778.7" y="262.0" width="1.6" height="6.0" fill="#6d7072" />
<rect x="797.0" y="240.0" width="3.0" height="7.0" fill="#c9cfcc" />
<rect x="810.0" y="240.0" width="3.0" height="7.0" fill="#c9cfcc" />
<rect x="797.0" y="265.5" width="3.0" height="9.0" fill="#c9cfcc" />
<rect x="810.0" y="265.5" width="3.0" height="9.0" fill="#c9cfcc" />
<rect x="793.6" y="247.4" width="21.7" height="18.2" fill="#c9cbcc" />
<rect x="795.5" y="249.0" width="18.0" height="15.0" fill="#4a4c4e" />
<circle cx="805.0" cy="256.0" r="5.6" fill="#1f1f1f" />
<circle cx="790.0" cy="243.0" r="4.0" fill="none" stroke="#e6f2ea" stroke-width="0.8"/>
<rect x="727.0" y="248.0" width="5.0" height="8.0" fill="#eeeeee" />
<defs><linearGradient id="ethg" x1="0" y1="0" x2="0" y2="1">
<stop offset="0" stop-color="#858789"/><stop offset="0.35" stop-color="#a4a6a8"/><stop offset="0.7" stop-color="#c4c5c6"/><stop offset="1" stop-color="#d2d3d4"/></linearGradient></defs>
<polygon points="819.0,232.0 838.0,210.0 838.0,300.0 819.0,306.0" fill="#8f9c94" />
<polygon points="822.0,236.0 836.0,218.0 836.0,296.0 822.0,300.0" fill="#a3aea7" />
<rect x="819.0" y="297.0" width="86.0" height="4.0" fill="#2f7a52" />
<rect x="817.0" y="301.0" width="88.0" height="1.0" fill="#e0eee6" />
<rect x="838.0" y="210.0" width="65.0" height="87.0" fill="url(#ethg)" />
<rect x="838.0" y="210.0" width="2.0" height="87.0" fill="#333" />
<text x="871.0" y="235.5" font-size="11" fill="#eeeeee" font-weight="bold" text-anchor="middle" textLength="26" lengthAdjust="spacingAndGlyphs" transform="rotate(180 871 231.5)">22/02</text>
<text x="871.0" y="261.0" font-size="10" fill="#e2e2e2" font-weight="normal" text-anchor="middle" textLength="52" lengthAdjust="spacingAndGlyphs" transform="rotate(180 871 257)">HR911105A</text>
<text x="871.0" y="285.0" font-size="12" fill="#dcdcdc" font-weight="bold" text-anchor="middle" textLength="40" lengthAdjust="spacingAndGlyphs" transform="rotate(180 871 280.5)" font-style="italic">HanRun</text>
<circle cx="817.0" cy="279.0" r="3.5" fill="#d0d0d0" />
<circle cx="916.7" cy="255.7" r="8.0" fill="#f4f4f2" />
<circle cx="916.7" cy="255.7" r="4.0" fill="#e0e0dd" />
<circle cx="921.0" cy="483.5" r="11.6" fill="#f1f3f2" />
<circle cx="921.0" cy="483.5" r="4.8" fill="#b9bcbb" />
<rect x="846.0" y="370.7" width="101.0" height="76.3" fill="#2a2d2f" />
<rect x="854.0" y="371.0" width="2.5" height="5.0" fill="#e0e0e0" />
<rect x="854.0" y="442.0" width="2.5" height="5.0" fill="#e0e0e0" />
<rect x="858.5" y="371.0" width="2.5" height="5.0" fill="#e0e0e0" />
<rect x="858.5" y="442.0" width="2.5" height="5.0" fill="#e0e0e0" />
<rect x="863.0" y="371.0" width="2.5" height="5.0" fill="#e0e0e0" />
<rect x="863.0" y="442.0" width="2.5" height="5.0" fill="#e0e0e0" />
<rect x="867.5" y="371.0" width="2.5" height="5.0" fill="#e0e0e0" />
<rect x="867.5" y="442.0" width="2.5" height="5.0" fill="#e0e0e0" />
<rect x="872.0" y="371.0" width="2.5" height="5.0" fill="#e0e0e0" />
<rect x="872.0" y="442.0" width="2.5" height="5.0" fill="#e0e0e0" />
<rect x="876.5" y="371.0" width="2.5" height="5.0" fill="#e0e0e0" />
<rect x="876.5" y="442.0" width="2.5" height="5.0" fill="#e0e0e0" />
<rect x="881.0" y="371.0" width="2.5" height="5.0" fill="#e0e0e0" />
<rect x="881.0" y="442.0" width="2.5" height="5.0" fill="#e0e0e0" />
<rect x="885.5" y="371.0" width="2.5" height="5.0" fill="#e0e0e0" />
<rect x="885.5" y="442.0" width="2.5" height="5.0" fill="#e0e0e0" />
<rect x="890.0" y="371.0" width="2.5" height="5.0" fill="#e0e0e0" />
<rect x="890.0" y="442.0" width="2.5" height="5.0" fill="#e0e0e0" />
<rect x="894.5" y="371.0" width="2.5" height="5.0" fill="#e0e0e0" />
<rect x="894.5" y="442.0" width="2.5" height="5.0" fill="#e0e0e0" />
<rect x="899.0" y="371.0" width="2.5" height="5.0" fill="#e0e0e0" />
<rect x="899.0" y="442.0" width="2.5" height="5.0" fill="#e0e0e0" />
<rect x="903.5" y="371.0" width="2.5" height="5.0" fill="#e0e0e0" />
<rect x="903.5" y="442.0" width="2.5" height="5.0" fill="#e0e0e0" />
<rect x="908.0" y="371.0" width="2.5" height="5.0" fill="#e0e0e0" />
<rect x="908.0" y="442.0" width="2.5" height="5.0" fill="#e0e0e0" />
<rect x="912.5" y="371.0" width="2.5" height="5.0" fill="#e0e0e0" />
<rect x="912.5" y="442.0" width="2.5" height="5.0" fill="#e0e0e0" />
<rect x="917.0" y="371.0" width="2.5" height="5.0" fill="#e0e0e0" />
<rect x="917.0" y="442.0" width="2.5" height="5.0" fill="#e0e0e0" />
<rect x="921.5" y="371.0" width="2.5" height="5.0" fill="#e0e0e0" />
<rect x="921.5" y="442.0" width="2.5" height="5.0" fill="#e0e0e0" />
<rect x="846.5" y="378.0" width="5.0" height="2.5" fill="#e0e0e0" />
<rect x="846.5" y="382.8" width="5.0" height="2.5" fill="#e0e0e0" />
<rect x="846.5" y="387.6" width="5.0" height="2.5" fill="#e0e0e0" />
<rect x="846.5" y="392.4" width="5.0" height="2.5" fill="#e0e0e0" />
<rect x="846.5" y="397.2" width="5.0" height="2.5" fill="#e0e0e0" />
<rect x="846.5" y="402.0" width="5.0" height="2.5" fill="#e0e0e0" />
<rect x="846.5" y="406.8" width="5.0" height="2.5" fill="#e0e0e0" />
<rect x="846.5" y="411.6" width="5.0" height="2.5" fill="#e0e0e0" />
<rect x="846.5" y="416.4" width="5.0" height="2.5" fill="#e0e0e0" />
<rect x="846.5" y="421.2" width="5.0" height="2.5" fill="#e0e0e0" />
<rect x="846.5" y="426.0" width="5.0" height="2.5" fill="#e0e0e0" />
<rect x="846.5" y="430.8" width="5.0" height="2.5" fill="#e0e0e0" />
<rect x="846.5" y="435.6" width="5.0" height="2.5" fill="#e0e0e0" />
<rect x="854.8" y="377.0" width="71.0" height="64.0" fill="#f1efea" />
<circle cx="863.0" cy="386.0" r="2.0" fill="#222" />
<rect x="926.0" y="374.0" width="21.0" height="69.0" fill="#2a2c2e" />
<text x="855.0" y="456.0" font-size="5.5" fill="#e6f2ea" font-weight="normal" text-anchor="start" >3227G-Y343-220413</text>
<text x="770.0" y="402.5" font-size="10.5" fill="#f0f4f1" font-weight="normal" text-anchor="middle" textLength="68" lengthAdjust="spacingAndGlyphs" style="font-family:Liberation Mono,monospace">KC868-A8S-V1.0</text>
<text x="721.8" y="415.0" font-size="7" fill="#f0f4f1" font-weight="normal" text-anchor="start" textLength="38" lengthAdjust="spacingAndGlyphs" >Designed By</text>
<text x="762.0" y="415.5" font-size="11" fill="#f0f4f1" font-weight="normal" text-anchor="start" textLength="59.5" lengthAdjust="spacingAndGlyphs" >KINCONY</text>
<circle cx="720.5" cy="465.6" r="4.0" fill="#dcdcdc" />
<circle cx="720.5" cy="465.6" r="2.0" fill="#2a2a2a" />
<text x="713.0" y="458.0" font-size="7" fill="#e6f2ea" font-weight="normal" text-anchor="start" >GND</text>
<circle cx="891.5" cy="481.3" r="4.0" fill="#dcdcdc" />
<circle cx="891.5" cy="481.3" r="2.0" fill="#2a2a2a" />
<text x="884.0" y="473.0" font-size="7" fill="#e6f2ea" font-weight="normal" text-anchor="start" >GND</text>
<rect x="613.0" y="411.3" width="93.7" height="33.7" fill="none" stroke="#f5e612" stroke-width="2.2"/>
<rect x="634.0" y="420.8" width="52.7" height="22.7" fill="#f6f6f4" />
<rect x="614.0" y="446.0" width="92.0" height="29.0" fill="#f6e812" stroke="#d8c800" stroke-width="0.8"/>
<text x="660.0" y="466.5" font-size="14.5" fill="#111" font-weight="bold" text-anchor="middle" textLength="80" lengthAdjust="spacingAndGlyphs" >IIC Extender</text>
<circle cx="643.0" cy="432.0" r="1.3" fill="#999" />
<circle cx="654.0" cy="432.0" r="1.3" fill="#999" />
<circle cx="665.0" cy="432.0" r="1.3" fill="#999" />
<circle cx="676.0" cy="432.0" r="1.3" fill="#999" />
<rect x="686.0" y="421.0" width="8.0" height="12.6" fill="none" stroke="#e3f0e8" stroke-width="0.9"/>
<rect x="695.3" y="421.0" width="8.0" height="12.6" fill="none" stroke="#e3f0e8" stroke-width="0.9"/>
<rect x="704.6" y="421.0" width="8.0" height="12.6" fill="none" stroke="#e3f0e8" stroke-width="0.9"/>
<rect x="713.9" y="421.0" width="8.0" height="12.6" fill="none" stroke="#e3f0e8" stroke-width="0.9"/>
<line x1="686.0" y1="436.0" x2="722.0" y2="436.0" stroke="#e3f0e8" stroke-width="0.9" />
<text x="700.0" y="441.0" font-size="6" fill="#e3f0e8" font-weight="normal" text-anchor="start" >IIC</text>
<rect x="594.0" y="443.0" width="15.5" height="12.0" fill="#e6ebe8" rx="1.5"/>
<rect x="597.9" y="446.0" width="7.8" height="6.0" fill="#3a3c3a" />
<rect x="593.6" y="463.0" width="2.0" height="3.0" fill="#c9cfcc" />
<rect x="593.6" y="484.0" width="2.0" height="3.0" fill="#c9cfcc" />
<rect x="597.9" y="463.0" width="2.0" height="3.0" fill="#c9cfcc" />
<rect x="597.9" y="484.0" width="2.0" height="3.0" fill="#c9cfcc" />
<rect x="602.1" y="463.0" width="2.0" height="3.0" fill="#c9cfcc" />
<rect x="602.1" y="484.0" width="2.0" height="3.0" fill="#c9cfcc" />
<rect x="606.4" y="463.0" width="2.0" height="3.0" fill="#c9cfcc" />
<rect x="606.4" y="484.0" width="2.0" height="3.0" fill="#c9cfcc" />
<rect x="591.9" y="465.4" width="18.2" height="19.2" fill="#161718" />
<rect x="593.1" y="466.6" width="15.8" height="16.8" fill="#4a4c4f" />
<rect x="640.0" y="478.4" width="3.0" height="6.6" fill="#c9cfcc" />
<rect x="645.0" y="478.4" width="3.0" height="6.6" fill="#c9cfcc" />
<rect x="650.0" y="478.4" width="3.0" height="6.6" fill="#c9cfcc" />
<rect x="655.0" y="478.4" width="3.0" height="6.6" fill="#c9cfcc" />
<rect x="660.0" y="478.4" width="3.0" height="6.6" fill="#c9cfcc" />
<rect x="665.0" y="478.4" width="3.0" height="6.6" fill="#c9cfcc" />
<rect x="670.0" y="478.4" width="3.0" height="6.6" fill="#c9cfcc" />
<rect x="675.0" y="478.4" width="3.0" height="6.6" fill="#c9cfcc" />
<rect x="608.0" y="405.0" width="6.0" height="4.0" fill="#e6ebe8" rx="1.5"/>
<rect x="609.5" y="406.0" width="3.0" height="2.0" fill="#3a3c3a" />
<rect x="621.0" y="404.0" width="10.0" height="6.0" fill="#e6ebe8" rx="1.5"/>
<rect x="623.5" y="405.5" width="5.0" height="3.0" fill="#3a3c3a" />
<rect x="643.0" y="404.0" width="6.0" height="8.0" fill="#e6ebe8" rx="1.5"/>
<rect x="644.5" y="406.0" width="3.0" height="4.0" fill="#3a3c3a" />
<rect x="651.0" y="404.0" width="6.0" height="8.0" fill="#e6ebe8" rx="1.5"/>
<rect x="652.5" y="406.0" width="3.0" height="4.0" fill="#3a3c3a" />
<rect x="643.0" y="414.0" width="6.0" height="7.0" fill="#e6ebe8" rx="1.5"/>
<rect x="644.5" y="415.8" width="3.0" height="3.5" fill="#3a3c3a" />
<rect x="651.0" y="414.0" width="6.0" height="7.0" fill="#e6ebe8" rx="1.5"/>
<rect x="652.5" y="415.8" width="3.0" height="3.5" fill="#3a3c3a" />
<rect x="830.0" y="490.0" width="62.0" height="30.0" fill="none" stroke="#d9e8de" stroke-width="0.8"/>
<rect x="835.5" y="502.0" width="52.5" height="13.0" fill="#1c1c1c" />
<rect x="840.0" y="506.0" width="5.0" height="5.0" fill="#555" />
<rect x="852.0" y="506.0" width="5.0" height="5.0" fill="#555" />
<rect x="864.0" y="506.0" width="5.0" height="5.0" fill="#555" />
<rect x="876.0" y="506.0" width="5.0" height="5.0" fill="#555" />
<rect x="840.0" y="469.0" width="7.0" height="9.0" fill="#e6ebe8" rx="1.5"/>
<rect x="841.8" y="471.2" width="3.5" height="4.5" fill="#3a3c3a" />
<rect x="850.0" y="472.0" width="2.0" height="2.0" fill="#c9cfcc" />
<rect x="859.0" y="472.0" width="2.0" height="2.0" fill="#c9cfcc" />
<rect x="850.0" y="476.0" width="2.0" height="2.0" fill="#c9cfcc" />
<rect x="859.0" y="476.0" width="2.0" height="2.0" fill="#c9cfcc" />
<rect x="851.4" y="470.4" width="8.2" height="9.2" fill="#161718" />
<rect x="852.6" y="471.6" width="5.8" height="6.8" fill="#4a4c4f" />
<rect x="844.7" y="553.0" width="6.5" height="10.6" fill="#e6ebe8" rx="1.5"/>
<rect x="846.3" y="555.6" width="3.2" height="5.3" fill="#3a3c3a" />
<rect x="851.9" y="553.0" width="6.5" height="10.6" fill="#e6ebe8" rx="1.5"/>
<rect x="853.5" y="555.6" width="3.2" height="5.3" fill="#3a3c3a" />
<rect x="859.1" y="553.0" width="6.5" height="10.6" fill="#e6ebe8" rx="1.5"/>
<rect x="860.7" y="555.6" width="3.2" height="5.3" fill="#3a3c3a" />
<rect x="861.0" y="571.3" width="27.0" height="11.7" fill="#e2e6e4" />
<rect x="861.0" y="572.7" width="27.0" height="8.9" fill="#2a2c2e" />
<rect x="847.5" y="567.4" width="2.0" height="2.0" fill="#c9cfcc" />
<rect x="847.5" y="581.0" width="2.0" height="2.0" fill="#c9cfcc" />
<rect x="852.5" y="567.4" width="2.0" height="2.0" fill="#c9cfcc" />
<rect x="852.5" y="581.0" width="2.0" height="2.0" fill="#c9cfcc" />
<rect x="845.4" y="568.8" width="11.2" height="12.8" fill="#161718" />
<rect x="846.6" y="570.0" width="8.8" height="10.4" fill="#4a4c4f" />
<text x="855.0" y="594.0" font-size="5" fill="#e6f2ea" font-weight="normal" text-anchor="start" >Beepi</text>
<text x="861.0" y="568.0" font-size="5" fill="#e6f2ea" font-weight="normal" text-anchor="start" >D20</text>
<rect x="838.0" y="483.0" width="6.0" height="9.0" fill="#e6ebe8" rx="1.5"/>
<rect x="839.5" y="485.2" width="3.0" height="4.5" fill="#3a3c3a" />
<rect x="846.0" y="484.0" width="2.0" height="2.0" fill="#c9cfcc" />
<rect x="855.0" y="484.0" width="2.0" height="2.0" fill="#c9cfcc" />
<rect x="846.0" y="488.0" width="2.0" height="2.0" fill="#c9cfcc" />
<rect x="855.0" y="488.0" width="2.0" height="2.0" fill="#c9cfcc" />
<rect x="847.4" y="482.4" width="8.2" height="9.2" fill="#161718" />
<rect x="848.6" y="483.6" width="5.8" height="6.8" fill="#4a4c4f" />
<rect x="215.2" y="398.0" width="89.2" height="101.5" fill="#ef5d69" />
<rect x="215.2" y="398.0" width="89.2" height="101.5" fill="none" stroke="#f58a93" stroke-width="1"/>
<rect x="219.6" y="403.0" width="16.0" height="6.5" fill="#fbecec" rx="2"/>
<rect x="223.0" y="404.5" width="9.0" height="3.5" fill="#8d6d6a" />
<rect x="219.6" y="412.0" width="16.0" height="6.5" fill="#fbecec" rx="2"/>
<rect x="223.0" y="413.5" width="9.0" height="3.5" fill="#8d6d6a" />
<rect x="219.6" y="423.0" width="16.0" height="6.5" fill="#fbecec" rx="2"/>
<rect x="223.0" y="424.5" width="9.0" height="3.5" fill="#8d6d6a" />
<rect x="219.6" y="433.0" width="16.0" height="6.5" fill="#fbecec" rx="2"/>
<rect x="223.0" y="434.5" width="9.0" height="3.5" fill="#8d6d6a" />
<rect x="239.0" y="414.0" width="61.0" height="71.0" fill="#f5f2ee" />
<polygon points="239.0,460.0 251.0,453.0 251.0,485.0 239.0,485.0" fill="#f6b9bf" />
<rect x="241.0" y="476.0" width="9.0" height="8.0" fill="#e8e4e0" />
<rect x="266.7" y="419.0" width="29.0" height="30.0" fill="#b8b6b4" />
<rect x="267.5" y="419.8" width="2.8" height="2.8" fill="#6e6c6b" />
<rect x="270.3" y="419.8" width="2.8" height="2.8" fill="#6e6c6b" />
<rect x="275.9" y="419.8" width="2.8" height="2.8" fill="#6e6c6b" />
<rect x="281.5" y="419.8" width="2.8" height="2.8" fill="#6e6c6b" />
<rect x="284.3" y="419.8" width="2.8" height="2.8" fill="#6e6c6b" />
<rect x="289.9" y="419.8" width="2.8" height="2.8" fill="#6e6c6b" />
<rect x="292.7" y="419.8" width="2.8" height="2.8" fill="#6e6c6b" />
<rect x="267.5" y="422.6" width="2.8" height="2.8" fill="#6e6c6b" />
<rect x="270.3" y="422.6" width="2.8" height="2.8" fill="#6e6c6b" />
<rect x="273.1" y="422.6" width="2.8" height="2.8" fill="#6e6c6b" />
<rect x="278.7" y="422.6" width="2.8" height="2.8" fill="#6e6c6b" />
<rect x="281.5" y="422.6" width="2.8" height="2.8" fill="#6e6c6b" />
<rect x="292.7" y="422.6" width="2.8" height="2.8" fill="#6e6c6b" />
<rect x="270.3" y="425.4" width="2.8" height="2.8" fill="#6e6c6b" />
<rect x="275.9" y="425.4" width="2.8" height="2.8" fill="#6e6c6b" />
<rect x="278.7" y="425.4" width="2.8" height="2.8" fill="#6e6c6b" />
<rect x="281.5" y="425.4" width="2.8" height="2.8" fill="#6e6c6b" />
<rect x="284.3" y="425.4" width="2.8" height="2.8" fill="#6e6c6b" />
<rect x="289.9" y="425.4" width="2.8" height="2.8" fill="#6e6c6b" />
<rect x="270.3" y="428.2" width="2.8" height="2.8" fill="#6e6c6b" />
<rect x="275.9" y="428.2" width="2.8" height="2.8" fill="#6e6c6b" />
<rect x="278.7" y="428.2" width="2.8" height="2.8" fill="#6e6c6b" />
<rect x="281.5" y="428.2" width="2.8" height="2.8" fill="#6e6c6b" />
<rect x="287.1" y="428.2" width="2.8" height="2.8" fill="#6e6c6b" />
<rect x="289.9" y="428.2" width="2.8" height="2.8" fill="#6e6c6b" />
<rect x="267.5" y="431.0" width="2.8" height="2.8" fill="#6e6c6b" />
<rect x="270.3" y="431.0" width="2.8" height="2.8" fill="#6e6c6b" />
<rect x="278.7" y="431.0" width="2.8" height="2.8" fill="#6e6c6b" />
<rect x="292.7" y="431.0" width="2.8" height="2.8" fill="#6e6c6b" />
<rect x="270.3" y="433.8" width="2.8" height="2.8" fill="#6e6c6b" />
<rect x="273.1" y="433.8" width="2.8" height="2.8" fill="#6e6c6b" />
<rect x="278.7" y="433.8" width="2.8" height="2.8" fill="#6e6c6b" />
<rect x="281.5" y="433.8" width="2.8" height="2.8" fill="#6e6c6b" />
<rect x="284.3" y="433.8" width="2.8" height="2.8" fill="#6e6c6b" />
<rect x="270.3" y="436.6" width="2.8" height="2.8" fill="#6e6c6b" />
<rect x="281.5" y="436.6" width="2.8" height="2.8" fill="#6e6c6b" />
<rect x="289.9" y="436.6" width="2.8" height="2.8" fill="#6e6c6b" />
<rect x="267.5" y="439.4" width="2.8" height="2.8" fill="#6e6c6b" />
<rect x="281.5" y="439.4" width="2.8" height="2.8" fill="#6e6c6b" />
<rect x="284.3" y="439.4" width="2.8" height="2.8" fill="#6e6c6b" />
<rect x="289.9" y="439.4" width="2.8" height="2.8" fill="#6e6c6b" />
<rect x="292.7" y="439.4" width="2.8" height="2.8" fill="#6e6c6b" />
<rect x="267.5" y="442.2" width="2.8" height="2.8" fill="#6e6c6b" />
<rect x="270.3" y="442.2" width="2.8" height="2.8" fill="#6e6c6b" />
<rect x="273.1" y="442.2" width="2.8" height="2.8" fill="#6e6c6b" />
<rect x="278.7" y="442.2" width="2.8" height="2.8" fill="#6e6c6b" />
<rect x="281.5" y="442.2" width="2.8" height="2.8" fill="#6e6c6b" />
<rect x="284.3" y="442.2" width="2.8" height="2.8" fill="#6e6c6b" />
<rect x="289.9" y="442.2" width="2.8" height="2.8" fill="#6e6c6b" />
<rect x="292.7" y="442.2" width="2.8" height="2.8" fill="#6e6c6b" />
<rect x="278.7" y="445.0" width="2.8" height="2.8" fill="#6e6c6b" />
<rect x="281.5" y="445.0" width="2.8" height="2.8" fill="#6e6c6b" />
<rect x="284.3" y="445.0" width="2.8" height="2.8" fill="#6e6c6b" />
<rect x="292.7" y="445.0" width="2.8" height="2.8" fill="#6e6c6b" />
<rect x="267.5" y="419.8" width="8.0" height="8.0" fill="#555" />
<rect x="269.0" y="421.3" width="5.0" height="5.0" fill="#d8d6d4" />
<rect x="270.5" y="422.8" width="2.0" height="2.0" fill="#555" />
<rect x="287.2" y="419.8" width="8.0" height="8.0" fill="#555" />
<rect x="288.7" y="421.3" width="5.0" height="5.0" fill="#d8d6d4" />
<rect x="290.2" y="422.8" width="2.0" height="2.0" fill="#555" />
<rect x="267.5" y="439.5" width="8.0" height="8.0" fill="#555" />
<rect x="269.0" y="441.0" width="5.0" height="5.0" fill="#d8d6d4" />
<rect x="270.5" y="442.5" width="2.0" height="2.0" fill="#555" />
<text transform="translate(245,424) rotate(90)" font-size="9" fill="#7a7878" textLength="44" lengthAdjust="spacingAndGlyphs" style="font-family:Liberation Mono,monospace">SIM800L</text>
<text transform="translate(257.0,452) rotate(90)" font-size="5.5" fill="#8a8888" textLength="30" lengthAdjust="spacingAndGlyphs">IMEI:86272</text>
<text transform="translate(262.5,452) rotate(90)" font-size="5.5" fill="#8a8888" textLength="30" lengthAdjust="spacingAndGlyphs">FCC ID:UDV</text>
<text transform="translate(268.0,452) rotate(90)" font-size="5.5" fill="#8a8888" textLength="28" lengthAdjust="spacingAndGlyphs">S2-1065J</text>
<text transform="translate(273.5,452) rotate(90)" font-size="5.5" fill="#8a8888" textLength="18" lengthAdjust="spacingAndGlyphs">-2K3N</text>
<text transform="translate(281,458) rotate(90)" font-size="13" fill="#777" textLength="16" lengthAdjust="spacingAndGlyphs">CE</text>
<rect x="215.7" y="449.5" width="21.3" height="31.2" fill="#d99a3c" />
<rect x="215.7" y="449.5" width="21.3" height="5.0" fill="#c4852c" />
<circle cx="245.0" cy="404.6" r="3.8" fill="#9c2632" />
<circle cx="245.0" cy="404.6" r="2.0" fill="#6a1a20" />
<circle cx="246.0" cy="493.0" r="3.8" fill="#9c2632" />
<circle cx="246.0" cy="493.0" r="2.0" fill="#6a1a20" />
<circle cx="255.2" cy="404.6" r="3.8" fill="#9c2632" />
<circle cx="255.2" cy="404.6" r="2.0" fill="#6a1a20" />
<circle cx="256.1" cy="493.0" r="3.8" fill="#9c2632" />
<circle cx="256.1" cy="493.0" r="2.0" fill="#6a1a20" />
<circle cx="265.4" cy="404.6" r="3.8" fill="#9c2632" />
<circle cx="265.4" cy="404.6" r="2.0" fill="#6a1a20" />
<circle cx="266.2" cy="493.0" r="3.8" fill="#9c2632" />
<circle cx="266.2" cy="493.0" r="2.0" fill="#6a1a20" />
<circle cx="275.6" cy="404.6" r="3.8" fill="#9c2632" />
<circle cx="275.6" cy="404.6" r="2.0" fill="#6a1a20" />
<circle cx="276.3" cy="493.0" r="3.8" fill="#9c2632" />
<circle cx="276.3" cy="493.0" r="2.0" fill="#6a1a20" />
<circle cx="285.8" cy="404.6" r="3.8" fill="#9c2632" />
<circle cx="285.8" cy="404.6" r="2.0" fill="#6a1a20" />
<circle cx="286.4" cy="493.0" r="3.8" fill="#9c2632" />
<circle cx="286.4" cy="493.0" r="2.0" fill="#6a1a20" />
<circle cx="296.0" cy="404.6" r="3.8" fill="#9c2632" />
<circle cx="296.0" cy="404.6" r="2.0" fill="#6a1a20" />
<circle cx="296.5" cy="493.0" r="3.8" fill="#9c2632" />
<circle cx="296.5" cy="493.0" r="2.0" fill="#6a1a20" />
<circle cx="221.7" cy="493.0" r="5.0" fill="#c9a25a" />
<circle cx="221.7" cy="493.0" r="2.5" fill="#9a7632" />
<circle cx="236.0" cy="493.0" r="3.8" fill="#9c2632" />
<rect x="304.4" y="393.7" width="30.4" height="108.7" fill="#f6e812" stroke="#d8c800" stroke-width="0.8"/>
<text transform="translate(324.6,489.4) rotate(-90)" font-size="14.5" fill="#111" font-weight="bold" textLength="82.7" lengthAdjust="spacingAndGlyphs" >GSM Module</text>
<path d="M237,500 L300,500 L300,512 L262,512 L262,540 L237,540 Z" fill="#3ccf86" stroke="none" stroke-width="1" opacity="0.6"/>
<rect x="250.0" y="504.0" width="35.0" height="32.0" fill="#1d5a3c" rx="4"/>
<rect x="262.0" y="504.0" width="6.0" height="32.0" fill="#164a30" />
<ellipse cx="249.2" cy="524.4" rx="9.8" ry="11.5" fill="#efefef"/>
<line x1="234.8" y1="499.6" x2="237.0" y2="532.0" stroke="#cfcfcf" stroke-width="1.4" />
<g transform="translate(222.4,540.4) rotate(-33.7)">
<rect x="-20.0" y="-6.8" width="40.0" height="13.6" fill="#c99a2a" rx="6"/>
<rect x="-20.0" y="-6.8" width="40.0" height="4.0" fill="#e6c160" rx="2"/>
<path d="M-16.0,-7 q2.5,7 0,14" fill="none" stroke="#f3d77e" stroke-width="1.6"/>
<path d="M-10.7,-7 q2.5,7 0,14" fill="none" stroke="#f3d77e" stroke-width="1.6"/>
<path d="M-5.4,-7 q2.5,7 0,14" fill="none" stroke="#f3d77e" stroke-width="1.6"/>
<path d="M-0.1,-7 q2.5,7 0,14" fill="none" stroke="#f3d77e" stroke-width="1.6"/>
<path d="M5.2,-7 q2.5,7 0,14" fill="none" stroke="#f3d77e" stroke-width="1.6"/>
<path d="M10.5,-7 q2.5,7 0,14" fill="none" stroke="#f3d77e" stroke-width="1.6"/>
<path d="M15.8,-7 q2.5,7 0,14" fill="none" stroke="#f3d77e" stroke-width="1.6"/>
<ellipse cx="-19" cy="0" rx="3" ry="6.5" fill="#b5861f"/>
</g>
<rect x="288.0" y="513.0" width="62.0" height="14.0" fill="none" stroke="#dfeee5" stroke-width="0.9"/>
<circle cx="306.0" cy="520.0" r="4.5" fill="none" stroke="#dfeee5" stroke-width="0.9"/>
<circle cx="332.0" cy="520.0" r="4.5" fill="none" stroke="#dfeee5" stroke-width="0.9"/>
<circle cx="314.5" cy="520.0" r="1.2" fill="#d8ecdf" />
<circle cx="319.0" cy="520.0" r="1.2" fill="#d8ecdf" />
<circle cx="323.5" cy="520.0" r="1.2" fill="#d8ecdf" />
<rect x="308.0" y="507.5" width="22.0" height="9.0" fill="#111" rx="4.5"/>
<circle cx="291.0" cy="518.0" r="1.8" fill="#f0f0f0" />
<text x="287.0" y="510.5" font-size="5.5" fill="#e3f0e8" font-weight="normal" text-anchor="start" >K8</text>
<polygon points="265.0,531.0 274.0,519.0 336.0,519.0 336.0,598.0 327.0,607.0 327.0,531.0" fill="#1b2520" />
<rect x="265.0" y="531.0" width="62.0" height="77.0" fill="#6e6e6e" />
<rect x="266.0" y="532.0" width="60.0" height="75.0" fill="none" stroke="#76797c" stroke-width="0.8"/>
<rect x="268.0" y="534.0" width="10.0" height="10.0" fill="#4a4d50" />
<circle cx="273.0" cy="539.0" r="2.6" fill="#1e1e1e" />
<circle cx="273.5" cy="538.5" r="1.0" fill="#aaa" />
<rect x="353.2" y="513.0" width="62.0" height="14.0" fill="none" stroke="#dfeee5" stroke-width="0.9"/>
<circle cx="371.2" cy="520.0" r="4.5" fill="none" stroke="#dfeee5" stroke-width="0.9"/>
<circle cx="397.2" cy="520.0" r="4.5" fill="none" stroke="#dfeee5" stroke-width="0.9"/>
<circle cx="379.7" cy="520.0" r="1.2" fill="#d8ecdf" />
<circle cx="384.2" cy="520.0" r="1.2" fill="#d8ecdf" />
<circle cx="388.7" cy="520.0" r="1.2" fill="#d8ecdf" />
<rect x="373.2" y="507.5" width="22.0" height="9.0" fill="#111" rx="4.5"/>
<circle cx="356.2" cy="518.0" r="1.8" fill="#f0f0f0" />
<text x="352.2" y="510.5" font-size="5.5" fill="#e3f0e8" font-weight="normal" text-anchor="start" >K7</text>
<polygon points="333.4,531.0 342.4,519.0 404.4,519.0 404.4,598.0 395.4,607.0 395.4,531.0" fill="#1b2520" />
<rect x="333.4" y="531.0" width="62.0" height="77.0" fill="#6e6e6e" />
<rect x="334.4" y="532.0" width="60.0" height="75.0" fill="none" stroke="#76797c" stroke-width="0.8"/>
<rect x="336.4" y="534.0" width="10.0" height="10.0" fill="#4a4d50" />
<circle cx="341.4" cy="539.0" r="2.6" fill="#1e1e1e" />
<circle cx="341.9" cy="538.5" r="1.0" fill="#aaa" />
<rect x="418.4" y="513.0" width="62.0" height="14.0" fill="none" stroke="#dfeee5" stroke-width="0.9"/>
<circle cx="436.4" cy="520.0" r="4.5" fill="none" stroke="#dfeee5" stroke-width="0.9"/>
<circle cx="462.4" cy="520.0" r="4.5" fill="none" stroke="#dfeee5" stroke-width="0.9"/>
<circle cx="444.9" cy="520.0" r="1.2" fill="#d8ecdf" />
<circle cx="449.4" cy="520.0" r="1.2" fill="#d8ecdf" />
<circle cx="453.9" cy="520.0" r="1.2" fill="#d8ecdf" />
<rect x="438.4" y="507.5" width="22.0" height="9.0" fill="#111" rx="4.5"/>
<circle cx="421.4" cy="518.0" r="1.8" fill="#f0f0f0" />
<text x="417.4" y="510.5" font-size="5.5" fill="#e3f0e8" font-weight="normal" text-anchor="start" >K6</text>
<polygon points="404.5,531.0 413.5,519.0 475.5,519.0 475.5,598.0 466.5,607.0 466.5,531.0" fill="#1b2520" />
<rect x="404.5" y="531.0" width="62.0" height="77.0" fill="#5a5c60" />
<rect x="405.5" y="532.0" width="60.0" height="75.0" fill="none" stroke="#76797c" stroke-width="0.8"/>
<rect x="407.5" y="534.0" width="10.0" height="10.0" fill="#4a4d50" />
<circle cx="412.5" cy="539.0" r="2.6" fill="#1e1e1e" />
<circle cx="413.0" cy="538.5" r="1.0" fill="#aaa" />
<text transform="translate(411.2,545) rotate(90)" font-size="6.5" fill="#9a9ea4" textLength="30" lengthAdjust="spacingAndGlyphs">CHINA</text>
<text transform="translate(423.1,545) rotate(90)" font-size="7" fill="#9a9ea4" textLength="47" lengthAdjust="spacingAndGlyphs">12A 125VAC</text>
<text transform="translate(432.1,545) rotate(90)" font-size="7" fill="#9a9ea4" textLength="47" lengthAdjust="spacingAndGlyphs">10A 277VAC</text>
<text transform="translate(441.1,545) rotate(90)" font-size="7" fill="#9a9ea4" textLength="53" lengthAdjust="spacingAndGlyphs">12VDC-1Z(555)</text>
<text transform="translate(452.2,565) rotate(90)" font-size="9.5" fill="#9a9ea4" textLength="39" lengthAdjust="spacingAndGlyphs">JQC-3FF</text>
<circle cx="455.5" cy="553.0" r="5.0" fill="none" stroke="#a3a7ab" stroke-width="1"/>
<circle cx="425.5" cy="597.0" r="5.0" fill="none" stroke="#a3a7ab" stroke-width="1"/>
<polygon points="430.5,603.0 440.5,603.0 435.5,594.0" fill="none" stroke="#a3a7ab" stroke-width="1"/>
<rect x="483.6" y="513.0" width="62.0" height="14.0" fill="none" stroke="#dfeee5" stroke-width="0.9"/>
<circle cx="501.6" cy="520.0" r="4.5" fill="none" stroke="#dfeee5" stroke-width="0.9"/>
<circle cx="527.6" cy="520.0" r="4.5" fill="none" stroke="#dfeee5" stroke-width="0.9"/>
<circle cx="510.1" cy="520.0" r="1.2" fill="#d8ecdf" />
<circle cx="514.6" cy="520.0" r="1.2" fill="#d8ecdf" />
<circle cx="519.1" cy="520.0" r="1.2" fill="#d8ecdf" />
<rect x="503.6" y="507.5" width="22.0" height="9.0" fill="#111" rx="4.5"/>
<circle cx="486.6" cy="518.0" r="1.8" fill="#f0f0f0" />
<text x="482.6" y="510.5" font-size="5.5" fill="#e3f0e8" font-weight="normal" text-anchor="start" >K5</text>
<polygon points="478.0,531.0 487.0,519.0 549.0,519.0 549.0,598.0 540.0,607.0 540.0,531.0" fill="#1b2520" />
<rect x="478.0" y="531.0" width="62.0" height="77.0" fill="#5a5c60" />
<rect x="479.0" y="532.0" width="60.0" height="75.0" fill="none" stroke="#76797c" stroke-width="0.8"/>
<rect x="481.0" y="534.0" width="10.0" height="10.0" fill="#4a4d50" />
<circle cx="486.0" cy="539.0" r="2.6" fill="#1e1e1e" />
<circle cx="486.5" cy="538.5" r="1.0" fill="#aaa" />
<text transform="translate(484.7,545) rotate(90)" font-size="6.5" fill="#9a9ea4" textLength="30" lengthAdjust="spacingAndGlyphs">CHINA</text>
<text transform="translate(496.6,545) rotate(90)" font-size="7" fill="#9a9ea4" textLength="47" lengthAdjust="spacingAndGlyphs">12A 125VAC</text>
<text transform="translate(505.6,545) rotate(90)" font-size="7" fill="#9a9ea4" textLength="47" lengthAdjust="spacingAndGlyphs">10A 277VAC</text>
<text transform="translate(514.5,545) rotate(90)" font-size="7" fill="#9a9ea4" textLength="53" lengthAdjust="spacingAndGlyphs">12VDC-1Z(555)</text>
<text transform="translate(525.7,565) rotate(90)" font-size="9.5" fill="#9a9ea4" textLength="39" lengthAdjust="spacingAndGlyphs">JQC-3FF</text>
<circle cx="529.0" cy="553.0" r="5.0" fill="none" stroke="#a3a7ab" stroke-width="1"/>
<circle cx="499.0" cy="597.0" r="5.0" fill="none" stroke="#a3a7ab" stroke-width="1"/>
<polygon points="504.0,603.0 514.0,603.0 509.0,594.0" fill="none" stroke="#a3a7ab" stroke-width="1"/>
<rect x="548.8" y="513.0" width="62.0" height="14.0" fill="none" stroke="#dfeee5" stroke-width="0.9"/>
<circle cx="566.8" cy="520.0" r="4.5" fill="none" stroke="#dfeee5" stroke-width="0.9"/>
<circle cx="592.8" cy="520.0" r="4.5" fill="none" stroke="#dfeee5" stroke-width="0.9"/>
<circle cx="575.3" cy="520.0" r="1.2" fill="#d8ecdf" />
<circle cx="579.8" cy="520.0" r="1.2" fill="#d8ecdf" />
<circle cx="584.3" cy="520.0" r="1.2" fill="#d8ecdf" />
<rect x="568.8" y="507.5" width="22.0" height="9.0" fill="#111" rx="4.5"/>
<circle cx="551.8" cy="518.0" r="1.8" fill="#f0f0f0" />
<text x="547.8" y="510.5" font-size="5.5" fill="#e3f0e8" font-weight="normal" text-anchor="start" >K4</text>
<rect x="566.8" y="521.0" width="26.0" height="10.0" fill="#1b2520" rx="2"/>
<polygon points="608.5,531.0 614.5,531.0 614.5,604.0 608.5,607.0" fill="#203028" />
<rect x="546.5" y="531.0" width="62.0" height="77.0" fill="#5a5c60" />
<rect x="547.5" y="532.0" width="60.0" height="75.0" fill="none" stroke="#76797c" stroke-width="0.8"/>
<rect x="549.5" y="534.0" width="10.0" height="10.0" fill="#4a4d50" />
<circle cx="554.5" cy="539.0" r="2.6" fill="#1e1e1e" />
<circle cx="555.0" cy="538.5" r="1.0" fill="#aaa" />
<text transform="translate(553.2,545) rotate(90)" font-size="6.5" fill="#9a9ea4" textLength="30" lengthAdjust="spacingAndGlyphs">CHINA</text>
<text transform="translate(565.0,545) rotate(90)" font-size="7" fill="#9a9ea4" textLength="47" lengthAdjust="spacingAndGlyphs">12A 125VAC</text>
<text transform="translate(574.0,545) rotate(90)" font-size="7" fill="#9a9ea4" textLength="47" lengthAdjust="spacingAndGlyphs">10A 277VAC</text>
<text transform="translate(583.0,545) rotate(90)" font-size="7" fill="#9a9ea4" textLength="53" lengthAdjust="spacingAndGlyphs">12VDC-1Z(555)</text>
<text transform="translate(594.2,565) rotate(90)" font-size="9.5" fill="#9a9ea4" textLength="39" lengthAdjust="spacingAndGlyphs">JQC-3FF</text>
<circle cx="597.5" cy="553.0" r="5.0" fill="none" stroke="#a3a7ab" stroke-width="1"/>
<circle cx="567.5" cy="597.0" r="5.0" fill="none" stroke="#a3a7ab" stroke-width="1"/>
<polygon points="572.5,603.0 582.5,603.0 577.5,594.0" fill="none" stroke="#a3a7ab" stroke-width="1"/>
<rect x="614.0" y="513.0" width="62.0" height="14.0" fill="none" stroke="#dfeee5" stroke-width="0.9"/>
<circle cx="632.0" cy="520.0" r="4.5" fill="none" stroke="#dfeee5" stroke-width="0.9"/>
<circle cx="658.0" cy="520.0" r="4.5" fill="none" stroke="#dfeee5" stroke-width="0.9"/>
<circle cx="640.5" cy="520.0" r="1.2" fill="#d8ecdf" />
<circle cx="645.0" cy="520.0" r="1.2" fill="#d8ecdf" />
<circle cx="649.5" cy="520.0" r="1.2" fill="#d8ecdf" />
<rect x="634.0" y="507.5" width="22.0" height="9.0" fill="#111" rx="4.5"/>
<circle cx="617.0" cy="518.0" r="1.8" fill="#f0f0f0" />
<text x="613.0" y="510.5" font-size="5.5" fill="#e3f0e8" font-weight="normal" text-anchor="start" >K3</text>
<rect x="632.0" y="521.0" width="26.0" height="10.0" fill="#1b2520" rx="2"/>
<polygon points="680.5,531.0 686.5,531.0 686.5,604.0 680.5,607.0" fill="#203028" />
<rect x="618.5" y="531.0" width="62.0" height="77.0" fill="#5a5c60" />
<rect x="619.5" y="532.0" width="60.0" height="75.0" fill="none" stroke="#76797c" stroke-width="0.8"/>
<rect x="621.5" y="534.0" width="10.0" height="10.0" fill="#4a4d50" />
<circle cx="626.5" cy="539.0" r="2.6" fill="#1e1e1e" />
<circle cx="627.0" cy="538.5" r="1.0" fill="#aaa" />
<text transform="translate(625.2,545) rotate(90)" font-size="6.5" fill="#9a9ea4" textLength="30" lengthAdjust="spacingAndGlyphs">CHINA</text>
<text transform="translate(637.0,545) rotate(90)" font-size="7" fill="#9a9ea4" textLength="47" lengthAdjust="spacingAndGlyphs">12A 125VAC</text>
<text transform="translate(646.0,545) rotate(90)" font-size="7" fill="#9a9ea4" textLength="47" lengthAdjust="spacingAndGlyphs">10A 277VAC</text>
<text transform="translate(655.0,545) rotate(90)" font-size="7" fill="#9a9ea4" textLength="53" lengthAdjust="spacingAndGlyphs">12VDC-1Z(555)</text>
<text transform="translate(666.2,565) rotate(90)" font-size="9.5" fill="#9a9ea4" textLength="39" lengthAdjust="spacingAndGlyphs">JQC-3FF</text>
<circle cx="669.5" cy="553.0" r="5.0" fill="none" stroke="#a3a7ab" stroke-width="1"/>
<circle cx="639.5" cy="597.0" r="5.0" fill="none" stroke="#a3a7ab" stroke-width="1"/>
<polygon points="644.5,603.0 654.5,603.0 649.5,594.0" fill="none" stroke="#a3a7ab" stroke-width="1"/>
<rect x="679.2" y="513.0" width="62.0" height="14.0" fill="none" stroke="#dfeee5" stroke-width="0.9"/>
<circle cx="697.2" cy="520.0" r="4.5" fill="none" stroke="#dfeee5" stroke-width="0.9"/>
<circle cx="723.2" cy="520.0" r="4.5" fill="none" stroke="#dfeee5" stroke-width="0.9"/>
<circle cx="705.7" cy="520.0" r="1.2" fill="#d8ecdf" />
<circle cx="710.2" cy="520.0" r="1.2" fill="#d8ecdf" />
<circle cx="714.7" cy="520.0" r="1.2" fill="#d8ecdf" />
<rect x="699.2" y="507.5" width="22.0" height="9.0" fill="#111" rx="4.5"/>
<circle cx="682.2" cy="518.0" r="1.8" fill="#f0f0f0" />
<text x="678.2" y="510.5" font-size="5.5" fill="#e3f0e8" font-weight="normal" text-anchor="start" >K2</text>
<polygon points="689.0,531.0 680.0,522.0 680.0,600.0 689.0,607.0" fill="#1b2520" />
<rect x="697.2" y="521.0" width="26.0" height="10.0" fill="#1b2520" rx="2"/>
<rect x="689.0" y="531.0" width="62.0" height="77.0" fill="#5a5c60" />
<rect x="690.0" y="532.0" width="60.0" height="75.0" fill="none" stroke="#76797c" stroke-width="0.8"/>
<rect x="692.0" y="534.0" width="10.0" height="10.0" fill="#4a4d50" />
<circle cx="697.0" cy="539.0" r="2.6" fill="#1e1e1e" />
<circle cx="697.5" cy="538.5" r="1.0" fill="#aaa" />
<text transform="translate(695.7,545) rotate(90)" font-size="6.5" fill="#9a9ea4" textLength="30" lengthAdjust="spacingAndGlyphs">CHINA</text>
<text transform="translate(707.5,545) rotate(90)" font-size="7" fill="#9a9ea4" textLength="47" lengthAdjust="spacingAndGlyphs">12A 125VAC</text>
<text transform="translate(716.5,545) rotate(90)" font-size="7" fill="#9a9ea4" textLength="47" lengthAdjust="spacingAndGlyphs">10A 277VAC</text>
<text transform="translate(725.5,545) rotate(90)" font-size="7" fill="#9a9ea4" textLength="53" lengthAdjust="spacingAndGlyphs">12VDC-1Z(555)</text>
<text transform="translate(736.7,565) rotate(90)" font-size="9.5" fill="#9a9ea4" textLength="39" lengthAdjust="spacingAndGlyphs">JQC-3FF</text>
<circle cx="740.0" cy="553.0" r="5.0" fill="none" stroke="#a3a7ab" stroke-width="1"/>
<circle cx="710.0" cy="597.0" r="5.0" fill="none" stroke="#a3a7ab" stroke-width="1"/>
<polygon points="715.0,603.0 725.0,603.0 720.0,594.0" fill="none" stroke="#a3a7ab" stroke-width="1"/>
<rect x="744.4" y="513.0" width="62.0" height="14.0" fill="none" stroke="#dfeee5" stroke-width="0.9"/>
<circle cx="762.4" cy="520.0" r="4.5" fill="none" stroke="#dfeee5" stroke-width="0.9"/>
<circle cx="788.4" cy="520.0" r="4.5" fill="none" stroke="#dfeee5" stroke-width="0.9"/>
<circle cx="770.9" cy="520.0" r="1.2" fill="#d8ecdf" />
<circle cx="775.4" cy="520.0" r="1.2" fill="#d8ecdf" />
<circle cx="779.9" cy="520.0" r="1.2" fill="#d8ecdf" />
<rect x="764.4" y="507.5" width="22.0" height="9.0" fill="#111" rx="4.5"/>
<circle cx="747.4" cy="518.0" r="1.8" fill="#f0f0f0" />
<text x="743.4" y="510.5" font-size="5.5" fill="#e3f0e8" font-weight="normal" text-anchor="start" >K1</text>
<polygon points="759.5,531.0 750.5,522.0 750.5,600.0 759.5,607.0" fill="#1b2520" />
<rect x="762.4" y="521.0" width="26.0" height="10.0" fill="#1b2520" rx="2"/>
<rect x="759.5" y="531.0" width="64.5" height="77.0" fill="#5a5c60" />
<rect x="760.5" y="532.0" width="62.5" height="75.0" fill="none" stroke="#76797c" stroke-width="0.8"/>
<rect x="762.5" y="534.0" width="10.0" height="10.0" fill="#4a4d50" />
<circle cx="767.5" cy="539.0" r="2.6" fill="#1e1e1e" />
<circle cx="768.0" cy="538.5" r="1.0" fill="#aaa" />
<text transform="translate(766.2,545) rotate(90)" font-size="6.5" fill="#9a9ea4" textLength="30" lengthAdjust="spacingAndGlyphs">CHINA</text>
<text transform="translate(778.0,545) rotate(90)" font-size="7" fill="#9a9ea4" textLength="47" lengthAdjust="spacingAndGlyphs">12A 125VAC</text>
<text transform="translate(787.0,545) rotate(90)" font-size="7" fill="#9a9ea4" textLength="47" lengthAdjust="spacingAndGlyphs">10A 277VAC</text>
<text transform="translate(796.0,545) rotate(90)" font-size="7" fill="#9a9ea4" textLength="53" lengthAdjust="spacingAndGlyphs">12VDC-1Z(555)</text>
<text transform="translate(807.2,565) rotate(90)" font-size="9.5" fill="#9a9ea4" textLength="39" lengthAdjust="spacingAndGlyphs">JQC-3FF</text>
<circle cx="810.5" cy="553.0" r="5.0" fill="none" stroke="#a3a7ab" stroke-width="1"/>
<circle cx="780.5" cy="597.0" r="5.0" fill="none" stroke="#a3a7ab" stroke-width="1"/>
<polygon points="785.5,603.0 795.5,603.0 790.5,594.0" fill="none" stroke="#a3a7ab" stroke-width="1"/>
<rect x="292.0" y="607.0" width="506.0" height="27.0" fill="#2aa95b" />
<rect x="292.0" y="607.0" width="506.0" height="4.0" fill="#1f8a48" />
<rect x="298.0" y="612.0" width="7.5" height="11.5" fill="#0e2a1a" />
<rect x="319.1" y="612.0" width="7.5" height="11.5" fill="#0e2a1a" />
<rect x="340.2" y="612.0" width="7.5" height="11.5" fill="#0e2a1a" />
<rect x="361.3" y="612.0" width="7.5" height="11.5" fill="#0e2a1a" />
<rect x="382.4" y="612.0" width="7.5" height="11.5" fill="#0e2a1a" />
<rect x="403.5" y="612.0" width="7.5" height="11.5" fill="#0e2a1a" />
<rect x="424.6" y="612.0" width="7.5" height="11.5" fill="#0e2a1a" />
<rect x="445.7" y="612.0" width="7.5" height="11.5" fill="#0e2a1a" />
<rect x="466.8" y="612.0" width="7.5" height="11.5" fill="#0e2a1a" />
<rect x="487.9" y="612.0" width="7.5" height="11.5" fill="#0e2a1a" />
<rect x="509.0" y="612.0" width="7.5" height="11.5" fill="#0e2a1a" />
<rect x="530.1" y="612.0" width="7.5" height="11.5" fill="#0e2a1a" />
<rect x="551.2" y="612.0" width="7.5" height="11.5" fill="#0e2a1a" />
<rect x="572.3" y="612.0" width="7.5" height="11.5" fill="#0e2a1a" />
<rect x="593.4" y="612.0" width="7.5" height="11.5" fill="#0e2a1a" />
<rect x="614.5" y="612.0" width="7.5" height="11.5" fill="#0e2a1a" />
<rect x="635.6" y="612.0" width="7.5" height="11.5" fill="#0e2a1a" />
<rect x="656.7" y="612.0" width="7.5" height="11.5" fill="#0e2a1a" />
<rect x="677.8" y="612.0" width="7.5" height="11.5" fill="#0e2a1a" />
<rect x="698.9" y="612.0" width="7.5" height="11.5" fill="#0e2a1a" />
<rect x="720.0" y="612.0" width="7.5" height="11.5" fill="#0e2a1a" />
<rect x="741.1" y="612.0" width="7.5" height="11.5" fill="#0e2a1a" />
<rect x="762.2" y="612.0" width="7.5" height="11.5" fill="#0e2a1a" />
<rect x="783.3" y="612.0" width="7.5" height="11.5" fill="#0e2a1a" />
<rect x="292.0" y="633.6" width="506.0" height="24.0" fill="#72da9b" />
<text x="323.6" y="630.4" font-size="12.5" fill="#f0ea26" font-weight="normal" text-anchor="middle" textLength="40" lengthAdjust="spacingAndGlyphs" >Relay1</text>
<line x1="355.2" y1="607.0" x2="355.2" y2="634.0" stroke="#1f8a48" stroke-width="1.2" />
<line x1="355.2" y1="634.0" x2="355.2" y2="657.6" stroke="#5cc487" stroke-width="1.2" />
<text x="386.8" y="630.4" font-size="12.5" fill="#f0ea26" font-weight="normal" text-anchor="middle" textLength="40" lengthAdjust="spacingAndGlyphs" >Relay2</text>
<line x1="418.4" y1="607.0" x2="418.4" y2="634.0" stroke="#1f8a48" stroke-width="1.2" />
<line x1="418.4" y1="634.0" x2="418.4" y2="657.6" stroke="#5cc487" stroke-width="1.2" />
<text x="450.0" y="630.4" font-size="12.5" fill="#f0ea26" font-weight="normal" text-anchor="middle" textLength="40" lengthAdjust="spacingAndGlyphs" >Relay3</text>
<line x1="481.6" y1="607.0" x2="481.6" y2="634.0" stroke="#1f8a48" stroke-width="1.2" />
<line x1="481.6" y1="634.0" x2="481.6" y2="657.6" stroke="#5cc487" stroke-width="1.2" />
<text x="513.2" y="630.4" font-size="12.5" fill="#f0ea26" font-weight="normal" text-anchor="middle" textLength="40" lengthAdjust="spacingAndGlyphs" >Relay4</text>
<line x1="544.8" y1="607.0" x2="544.8" y2="634.0" stroke="#1f8a48" stroke-width="1.2" />
<line x1="544.8" y1="634.0" x2="544.8" y2="657.6" stroke="#5cc487" stroke-width="1.2" />
<text x="576.4" y="630.4" font-size="12.5" fill="#f0ea26" font-weight="normal" text-anchor="middle" textLength="40" lengthAdjust="spacingAndGlyphs" >Relay5</text>
<line x1="608.0" y1="607.0" x2="608.0" y2="634.0" stroke="#1f8a48" stroke-width="1.2" />
<line x1="608.0" y1="634.0" x2="608.0" y2="657.6" stroke="#5cc487" stroke-width="1.2" />
<text x="639.6" y="630.4" font-size="12.5" fill="#f0ea26" font-weight="normal" text-anchor="middle" textLength="40" lengthAdjust="spacingAndGlyphs" >Relay6</text>
<line x1="671.2" y1="607.0" x2="671.2" y2="634.0" stroke="#1f8a48" stroke-width="1.2" />
<line x1="671.2" y1="634.0" x2="671.2" y2="657.6" stroke="#5cc487" stroke-width="1.2" />
<text x="702.8" y="630.4" font-size="12.5" fill="#f0ea26" font-weight="normal" text-anchor="middle" textLength="40" lengthAdjust="spacingAndGlyphs" >Relay7</text>
<line x1="734.4" y1="607.0" x2="734.4" y2="634.0" stroke="#1f8a48" stroke-width="1.2" />
<line x1="734.4" y1="634.0" x2="734.4" y2="657.6" stroke="#5cc487" stroke-width="1.2" />
<text x="766.0" y="630.4" font-size="12.5" fill="#f0ea26" font-weight="normal" text-anchor="middle" textLength="40" lengthAdjust="spacingAndGlyphs" >Relay8</text>
<circle cx="302.5" cy="645.4" r="8.6" fill="#1d3a28" />
<circle cx="302.5" cy="645.6" r="7.0" fill="#f3f5f4" />
<circle cx="303.5" cy="646.5" r="4.0" fill="#e6eae9" />
<line x1="298.0" y1="649.0" x2="307.0" y2="642.0" stroke="#8a9894" stroke-width="1.2" />
<circle cx="323.6" cy="645.4" r="8.6" fill="#1d3a28" />
<circle cx="323.6" cy="645.6" r="7.0" fill="#f3f5f4" />
<circle cx="324.6" cy="646.5" r="4.0" fill="#e6eae9" />
<line x1="319.1" y1="649.0" x2="328.1" y2="642.0" stroke="#8a9894" stroke-width="1.2" />
<circle cx="344.7" cy="645.4" r="8.6" fill="#1d3a28" />
<circle cx="344.7" cy="645.6" r="7.0" fill="#f3f5f4" />
<circle cx="345.7" cy="646.5" r="4.0" fill="#e6eae9" />
<line x1="340.2" y1="649.0" x2="349.2" y2="642.0" stroke="#8a9894" stroke-width="1.2" />
<circle cx="365.8" cy="645.4" r="8.6" fill="#1d3a28" />
<circle cx="365.8" cy="645.6" r="7.0" fill="#f3f5f4" />
<circle cx="366.8" cy="646.5" r="4.0" fill="#e6eae9" />
<line x1="361.3" y1="649.0" x2="370.3" y2="642.0" stroke="#8a9894" stroke-width="1.2" />
<circle cx="386.9" cy="645.4" r="8.6" fill="#1d3a28" />
<circle cx="386.9" cy="645.6" r="7.0" fill="#f3f5f4" />
<circle cx="387.9" cy="646.5" r="4.0" fill="#e6eae9" />
<line x1="382.4" y1="649.0" x2="391.4" y2="642.0" stroke="#8a9894" stroke-width="1.2" />
<circle cx="408.0" cy="645.4" r="8.6" fill="#1d3a28" />
<circle cx="408.0" cy="645.6" r="7.0" fill="#f3f5f4" />
<circle cx="409.0" cy="646.5" r="4.0" fill="#e6eae9" />
<line x1="403.5" y1="649.0" x2="412.5" y2="642.0" stroke="#8a9894" stroke-width="1.2" />
<circle cx="429.1" cy="645.4" r="8.6" fill="#1d3a28" />
<circle cx="429.1" cy="645.6" r="7.0" fill="#f3f5f4" />
<circle cx="430.1" cy="646.5" r="4.0" fill="#e6eae9" />
<line x1="424.6" y1="649.0" x2="433.6" y2="642.0" stroke="#8a9894" stroke-width="1.2" />
<circle cx="450.2" cy="645.4" r="8.6" fill="#1d3a28" />
<circle cx="450.2" cy="645.6" r="7.0" fill="#f3f5f4" />
<circle cx="451.2" cy="646.5" r="4.0" fill="#e6eae9" />
<line x1="445.7" y1="649.0" x2="454.7" y2="642.0" stroke="#8a9894" stroke-width="1.2" />
<circle cx="471.3" cy="645.4" r="8.6" fill="#1d3a28" />
<circle cx="471.3" cy="645.6" r="7.0" fill="#f3f5f4" />
<circle cx="472.3" cy="646.5" r="4.0" fill="#e6eae9" />
<line x1="466.8" y1="649.0" x2="475.8" y2="642.0" stroke="#8a9894" stroke-width="1.2" />
<circle cx="492.4" cy="645.4" r="8.6" fill="#1d3a28" />
<circle cx="492.4" cy="645.6" r="7.0" fill="#f3f5f4" />
<circle cx="493.4" cy="646.5" r="4.0" fill="#e6eae9" />
<line x1="487.9" y1="649.0" x2="496.9" y2="642.0" stroke="#8a9894" stroke-width="1.2" />
<circle cx="513.5" cy="645.4" r="8.6" fill="#1d3a28" />
<circle cx="513.5" cy="645.6" r="7.0" fill="#f3f5f4" />
<circle cx="514.5" cy="646.5" r="4.0" fill="#e6eae9" />
<line x1="509.0" y1="649.0" x2="518.0" y2="642.0" stroke="#8a9894" stroke-width="1.2" />
<circle cx="534.6" cy="645.4" r="8.6" fill="#1d3a28" />
<circle cx="534.6" cy="645.6" r="7.0" fill="#f3f5f4" />
<circle cx="535.6" cy="646.5" r="4.0" fill="#e6eae9" />
<line x1="530.1" y1="649.0" x2="539.1" y2="642.0" stroke="#8a9894" stroke-width="1.2" />
<circle cx="555.7" cy="645.4" r="8.6" fill="#1d3a28" />
<circle cx="555.7" cy="645.6" r="7.0" fill="#f3f5f4" />
<circle cx="556.7" cy="646.5" r="4.0" fill="#e6eae9" />
<line x1="551.2" y1="649.0" x2="560.2" y2="642.0" stroke="#8a9894" stroke-width="1.2" />
<circle cx="576.8" cy="645.4" r="8.6" fill="#1d3a28" />
<circle cx="576.8" cy="645.6" r="7.0" fill="#f3f5f4" />
<circle cx="577.8" cy="646.5" r="4.0" fill="#e6eae9" />
<line x1="572.3" y1="649.0" x2="581.3" y2="642.0" stroke="#8a9894" stroke-width="1.2" />
<circle cx="597.9" cy="645.4" r="8.6" fill="#1d3a28" />
<circle cx="597.9" cy="645.6" r="7.0" fill="#f3f5f4" />
<circle cx="598.9" cy="646.5" r="4.0" fill="#e6eae9" />
<line x1="593.4" y1="649.0" x2="602.4" y2="642.0" stroke="#8a9894" stroke-width="1.2" />
<circle cx="619.0" cy="645.4" r="8.6" fill="#1d3a28" />
<circle cx="619.0" cy="645.6" r="7.0" fill="#f3f5f4" />
<circle cx="620.0" cy="646.5" r="4.0" fill="#e6eae9" />
<line x1="614.5" y1="649.0" x2="623.5" y2="642.0" stroke="#8a9894" stroke-width="1.2" />
<circle cx="640.1" cy="645.4" r="8.6" fill="#1d3a28" />
<circle cx="640.1" cy="645.6" r="7.0" fill="#f3f5f4" />
<circle cx="641.1" cy="646.5" r="4.0" fill="#e6eae9" />
<line x1="635.6" y1="649.0" x2="644.6" y2="642.0" stroke="#8a9894" stroke-width="1.2" />
<circle cx="661.2" cy="645.4" r="8.6" fill="#1d3a28" />
<circle cx="661.2" cy="645.6" r="7.0" fill="#f3f5f4" />
<circle cx="662.2" cy="646.5" r="4.0" fill="#e6eae9" />
<line x1="656.7" y1="649.0" x2="665.7" y2="642.0" stroke="#8a9894" stroke-width="1.2" />
<circle cx="682.3" cy="645.4" r="8.6" fill="#1d3a28" />
<circle cx="682.3" cy="645.6" r="7.0" fill="#f3f5f4" />
<circle cx="683.3" cy="646.5" r="4.0" fill="#e6eae9" />
<line x1="677.8" y1="649.0" x2="686.8" y2="642.0" stroke="#8a9894" stroke-width="1.2" />
<circle cx="703.4" cy="645.4" r="8.6" fill="#1d3a28" />
<circle cx="703.4" cy="645.6" r="7.0" fill="#f3f5f4" />
<circle cx="704.4" cy="646.5" r="4.0" fill="#e6eae9" />
<line x1="698.9" y1="649.0" x2="707.9" y2="642.0" stroke="#8a9894" stroke-width="1.2" />
<circle cx="724.5" cy="645.4" r="8.6" fill="#1d3a28" />
<circle cx="724.5" cy="645.6" r="7.0" fill="#f3f5f4" />
<circle cx="725.5" cy="646.5" r="4.0" fill="#e6eae9" />
<line x1="720.0" y1="649.0" x2="729.0" y2="642.0" stroke="#8a9894" stroke-width="1.2" />
<circle cx="745.6" cy="645.4" r="8.6" fill="#1d3a28" />
<circle cx="745.6" cy="645.6" r="7.0" fill="#f3f5f4" />
<circle cx="746.6" cy="646.5" r="4.0" fill="#e6eae9" />
<line x1="741.1" y1="649.0" x2="750.1" y2="642.0" stroke="#8a9894" stroke-width="1.2" />
<circle cx="766.7" cy="645.4" r="8.6" fill="#1d3a28" />
<circle cx="766.7" cy="645.6" r="7.0" fill="#f3f5f4" />
<circle cx="767.7" cy="646.5" r="4.0" fill="#e6eae9" />
<line x1="762.2" y1="649.0" x2="771.2" y2="642.0" stroke="#8a9894" stroke-width="1.2" />
<circle cx="787.8" cy="645.4" r="8.6" fill="#1d3a28" />
<circle cx="787.8" cy="645.6" r="7.0" fill="#f3f5f4" />
<circle cx="788.8" cy="646.5" r="4.0" fill="#e6eae9" />
<line x1="783.3" y1="649.0" x2="792.3" y2="642.0" stroke="#8a9894" stroke-width="1.2" />
<rect x="266.0" y="621.0" width="4.5" height="7.0" fill="#ececec" />
<rect x="272.5" y="621.0" width="4.5" height="7.0" fill="#ececec" />
<rect x="279.0" y="621.0" width="4.5" height="7.0" fill="#ececec" />
<rect x="285.5" y="621.0" width="4.5" height="7.0" fill="#ececec" />
<rect x="807.0" y="626.0" width="5.0" height="8.0" fill="#ececec" />
<rect x="814.0" y="626.0" width="5.0" height="8.0" fill="#ececec" />
<rect x="821.0" y="626.0" width="5.0" height="8.0" fill="#ececec" />
<rect x="828.0" y="626.0" width="5.0" height="8.0" fill="#ececec" />
<text x="809.5" y="643.5" font-size="6.5" fill="#f2f2f2" font-weight="normal" text-anchor="middle" >1</text>
<text x="816.5" y="643.5" font-size="6.5" fill="#f2f2f2" font-weight="normal" text-anchor="middle" >2</text>
<text x="823.5" y="643.5" font-size="6.5" fill="#f2f2f2" font-weight="normal" text-anchor="middle" >3</text>
<text x="830.5" y="643.5" font-size="6.5" fill="#f2f2f2" font-weight="normal" text-anchor="middle" >4</text>
<path d="M853.5,603.5 L869,590 L903,620 L888,647 Z" fill="#141414" stroke="none" stroke-width="1" />
<circle cx="870.0" cy="612.0" r="23.0" fill="#161616" />
<circle cx="880.4" cy="625.4" r="23.2" fill="#2b2b2b" />
<circle cx="880.4" cy="625.4" r="23.2" fill="none" stroke="#3c3c3c" stroke-width="1"/>
<circle cx="880.4" cy="626.4" r="4.2" fill="#0c0c0c" />
<circle cx="896.8" cy="625.4" r="5.0" fill="none" stroke="#5a5a5a" stroke-width="1"/>
<line x1="893.5" y1="625.4" x2="900.0" y2="625.4" stroke="#5a5a5a" stroke-width="1" />
<line x1="896.8" y1="622.0" x2="896.8" y2="628.8" stroke="#5a5a5a" stroke-width="1" />
<rect x="247.0" y="156.5" width="43.5" height="39.5" fill="#f0883a" />
<rect x="261.0" y="196.0" width="41.5" height="59.0" fill="#f1781e" />
<rect x="252.8" y="160.5" width="12.0" height="5.0" fill="none" stroke="#d75f13" stroke-width="1.4"/>
<circle cx="258.8" cy="180.0" r="9.0" fill="#2f4a3f" />
<circle cx="258.8" cy="180.0" r="7.2" fill="#d3dbe0" />
<circle cx="260.2" cy="181.5" r="4.0" fill="#bcc8cf" />
<line x1="253.2" y1="184.0" x2="264.2" y2="176.0" stroke="#6f7d86" stroke-width="1.7" />
<rect x="273.5" y="160.5" width="12.0" height="5.0" fill="none" stroke="#d75f13" stroke-width="1.4"/>
<circle cx="279.5" cy="180.0" r="9.0" fill="#2f4a3f" />
<circle cx="279.5" cy="180.0" r="7.2" fill="#d3dbe0" />
<circle cx="281.0" cy="181.5" r="4.0" fill="#bcc8cf" />
<line x1="274.0" y1="184.0" x2="285.0" y2="176.0" stroke="#6f7d86" stroke-width="1.7" />
<polygon points="247.0,196.0 290.5,196.0 290.5,205.0 261.0,205.0" fill="#e06d1a" />
<rect x="278.0" y="197.0" width="10.0" height="25.0" fill="#f8953f" />
<rect x="274.0" y="205.0" width="22.0" height="4.0" fill="#f8953f" />
<rect x="290.5" y="156.5" width="43.5" height="39.5" fill="#282828" />
<rect x="302.5" y="196.0" width="40.5" height="57.5" fill="#1c1c1c" />
<rect x="296.5" y="160.5" width="12.0" height="5.0" fill="none" stroke="#4a4a4a" stroke-width="1.4"/>
<circle cx="302.5" cy="180.0" r="9.0" fill="#2f4a3f" />
<circle cx="302.5" cy="180.0" r="7.2" fill="#d3dbe0" />
<circle cx="304.0" cy="181.5" r="4.0" fill="#bcc8cf" />
<line x1="297.0" y1="184.0" x2="308.0" y2="176.0" stroke="#6f7d86" stroke-width="1.7" />
<rect x="317.8" y="160.5" width="12.0" height="5.0" fill="none" stroke="#4a4a4a" stroke-width="1.4"/>
<circle cx="323.8" cy="180.0" r="9.0" fill="#2f4a3f" />
<circle cx="323.8" cy="180.0" r="7.2" fill="#d3dbe0" />
<circle cx="325.2" cy="181.5" r="4.0" fill="#bcc8cf" />
<line x1="318.2" y1="184.0" x2="329.2" y2="176.0" stroke="#6f7d86" stroke-width="1.7" />
<rect x="313.0" y="196.0" width="12.0" height="22.0" fill="#0c0c0c" />
<rect x="308.0" y="196.0" width="22.0" height="5.0" fill="#333" />
<rect x="334.0" y="156.5" width="171.0" height="39.5" fill="#34cc82" />
<rect x="343.0" y="196.0" width="164.0" height="57.5" fill="#36c983" />
<rect x="338.5" y="160.5" width="12.0" height="5.0" fill="none" stroke="#22a862" stroke-width="1.4"/>
<circle cx="344.5" cy="180.0" r="9.0" fill="#2f4a3f" />
<circle cx="344.5" cy="180.0" r="7.2" fill="#d3dbe0" />
<circle cx="346.0" cy="181.5" r="4.0" fill="#bcc8cf" />
<line x1="339.0" y1="184.0" x2="350.0" y2="176.0" stroke="#6f7d86" stroke-width="1.7" />
<rect x="359.3" y="160.5" width="12.0" height="5.0" fill="none" stroke="#22a862" stroke-width="1.4"/>
<circle cx="365.3" cy="180.0" r="9.0" fill="#2f4a3f" />
<circle cx="365.3" cy="180.0" r="7.2" fill="#d3dbe0" />
<circle cx="366.8" cy="181.5" r="4.0" fill="#bcc8cf" />
<line x1="359.8" y1="184.0" x2="370.8" y2="176.0" stroke="#6f7d86" stroke-width="1.7" />
<rect x="381.4" y="160.5" width="12.0" height="5.0" fill="none" stroke="#22a862" stroke-width="1.4"/>
<circle cx="387.4" cy="180.0" r="9.0" fill="#2f4a3f" />
<circle cx="387.4" cy="180.0" r="7.2" fill="#d3dbe0" />
<circle cx="388.9" cy="181.5" r="4.0" fill="#bcc8cf" />
<line x1="381.9" y1="184.0" x2="392.9" y2="176.0" stroke="#6f7d86" stroke-width="1.7" />
<rect x="401.7" y="160.5" width="12.0" height="5.0" fill="none" stroke="#22a862" stroke-width="1.4"/>
<circle cx="407.7" cy="180.0" r="9.0" fill="#2f4a3f" />
<circle cx="407.7" cy="180.0" r="7.2" fill="#d3dbe0" />
<circle cx="409.2" cy="181.5" r="4.0" fill="#bcc8cf" />
<line x1="402.2" y1="184.0" x2="413.2" y2="176.0" stroke="#6f7d86" stroke-width="1.7" />
<rect x="423.0" y="160.5" width="12.0" height="5.0" fill="none" stroke="#22a862" stroke-width="1.4"/>
<circle cx="429.0" cy="180.0" r="9.0" fill="#2f4a3f" />
<circle cx="429.0" cy="180.0" r="7.2" fill="#d3dbe0" />
<circle cx="430.5" cy="181.5" r="4.0" fill="#bcc8cf" />
<line x1="423.5" y1="184.0" x2="434.5" y2="176.0" stroke="#6f7d86" stroke-width="1.7" />
<rect x="444.0" y="160.5" width="12.0" height="5.0" fill="none" stroke="#22a862" stroke-width="1.4"/>
<circle cx="450.0" cy="180.0" r="9.0" fill="#2f4a3f" />
<circle cx="450.0" cy="180.0" r="7.2" fill="#d3dbe0" />
<circle cx="451.5" cy="181.5" r="4.0" fill="#bcc8cf" />
<line x1="444.5" y1="184.0" x2="455.5" y2="176.0" stroke="#6f7d86" stroke-width="1.7" />
<rect x="465.0" y="160.5" width="12.0" height="5.0" fill="none" stroke="#22a862" stroke-width="1.4"/>
<circle cx="471.0" cy="180.0" r="9.0" fill="#2f4a3f" />
<circle cx="471.0" cy="180.0" r="7.2" fill="#d3dbe0" />
<circle cx="472.5" cy="181.5" r="4.0" fill="#bcc8cf" />
<line x1="465.5" y1="184.0" x2="476.5" y2="176.0" stroke="#6f7d86" stroke-width="1.7" />
<rect x="485.7" y="160.5" width="12.0" height="5.0" fill="none" stroke="#22a862" stroke-width="1.4"/>
<circle cx="491.7" cy="180.0" r="9.0" fill="#2f4a3f" />
<circle cx="491.7" cy="180.0" r="7.2" fill="#d3dbe0" />
<circle cx="493.2" cy="181.5" r="4.0" fill="#bcc8cf" />
<line x1="486.2" y1="184.0" x2="497.2" y2="176.0" stroke="#6f7d86" stroke-width="1.7" />
<rect x="504.0" y="157.0" width="43.5" height="39.0" fill="#1f78de" />
<rect x="506.5" y="196.0" width="42.0" height="59.0" fill="#1b6fd6" />
<rect x="510.0" y="161.0" width="12.0" height="5.0" fill="none" stroke="#1456a8" stroke-width="1.4"/>
<circle cx="516.0" cy="180.0" r="9.0" fill="#2f4a3f" />
<circle cx="516.0" cy="180.0" r="7.2" fill="#d3dbe0" />
<circle cx="517.5" cy="181.5" r="4.0" fill="#bcc8cf" />
<line x1="510.5" y1="184.0" x2="521.5" y2="176.0" stroke="#6f7d86" stroke-width="1.7" />
<rect x="527.7" y="161.0" width="12.0" height="5.0" fill="none" stroke="#1456a8" stroke-width="1.4"/>
<circle cx="533.7" cy="180.0" r="9.0" fill="#2f4a3f" />
<circle cx="533.7" cy="180.0" r="7.2" fill="#d3dbe0" />
<circle cx="535.2" cy="181.5" r="4.0" fill="#bcc8cf" />
<line x1="528.2" y1="184.0" x2="539.2" y2="176.0" stroke="#6f7d86" stroke-width="1.7" />
<rect x="521.0" y="198.0" width="6.0" height="30.0" fill="#2686ea" />
<rect x="547.5" y="157.0" width="151.5" height="36.0" fill="#34cc82" />
<rect x="548.0" y="193.0" width="144.5" height="62.0" fill="#36c983" />
<rect x="552.0" y="161.0" width="12.0" height="5.0" fill="none" stroke="#22a862" stroke-width="1.4"/>
<circle cx="558.0" cy="180.0" r="9.0" fill="#2f4a3f" />
<circle cx="558.0" cy="180.0" r="7.2" fill="#d3dbe0" />
<circle cx="559.5" cy="181.5" r="4.0" fill="#bcc8cf" />
<line x1="552.5" y1="184.0" x2="563.5" y2="176.0" stroke="#6f7d86" stroke-width="1.7" />
<rect x="573.7" y="161.0" width="12.0" height="5.0" fill="none" stroke="#22a862" stroke-width="1.4"/>
<circle cx="579.7" cy="180.0" r="9.0" fill="#2f4a3f" />
<circle cx="579.7" cy="180.0" r="7.2" fill="#d3dbe0" />
<circle cx="581.2" cy="181.5" r="4.0" fill="#bcc8cf" />
<line x1="574.2" y1="184.0" x2="585.2" y2="176.0" stroke="#6f7d86" stroke-width="1.7" />
<rect x="595.8" y="161.0" width="12.0" height="5.0" fill="none" stroke="#22a862" stroke-width="1.4"/>
<circle cx="601.8" cy="180.0" r="9.0" fill="#2f4a3f" />
<circle cx="601.8" cy="180.0" r="7.2" fill="#d3dbe0" />
<circle cx="603.3" cy="181.5" r="4.0" fill="#bcc8cf" />
<line x1="596.3" y1="184.0" x2="607.3" y2="176.0" stroke="#6f7d86" stroke-width="1.7" />
<rect x="618.0" y="161.0" width="12.0" height="5.0" fill="none" stroke="#22a862" stroke-width="1.4"/>
<circle cx="624.0" cy="180.0" r="9.0" fill="#2f4a3f" />
<circle cx="624.0" cy="180.0" r="7.2" fill="#d3dbe0" />
<circle cx="625.5" cy="181.5" r="4.0" fill="#bcc8cf" />
<line x1="618.5" y1="184.0" x2="629.5" y2="176.0" stroke="#6f7d86" stroke-width="1.7" />
<rect x="639.5" y="161.0" width="12.0" height="5.0" fill="none" stroke="#22a862" stroke-width="1.4"/>
<circle cx="645.5" cy="180.0" r="9.0" fill="#2f4a3f" />
<circle cx="645.5" cy="180.0" r="7.2" fill="#d3dbe0" />
<circle cx="647.0" cy="181.5" r="4.0" fill="#bcc8cf" />
<line x1="640.0" y1="184.0" x2="651.0" y2="176.0" stroke="#6f7d86" stroke-width="1.7" />
<rect x="658.7" y="161.0" width="12.0" height="5.0" fill="none" stroke="#22a862" stroke-width="1.4"/>
<circle cx="664.7" cy="180.0" r="9.0" fill="#2f4a3f" />
<circle cx="664.7" cy="180.0" r="7.2" fill="#d3dbe0" />
<circle cx="666.2" cy="181.5" r="4.0" fill="#bcc8cf" />
<line x1="659.2" y1="184.0" x2="670.2" y2="176.0" stroke="#6f7d86" stroke-width="1.7" />
<rect x="680.3" y="161.0" width="12.0" height="5.0" fill="none" stroke="#22a862" stroke-width="1.4"/>
<circle cx="686.3" cy="180.0" r="9.0" fill="#2f4a3f" />
<circle cx="686.3" cy="180.0" r="7.2" fill="#d3dbe0" />
<circle cx="687.8" cy="181.5" r="4.0" fill="#bcc8cf" />
<line x1="680.8" y1="184.0" x2="691.8" y2="176.0" stroke="#6f7d86" stroke-width="1.7" />
<rect x="341.0" y="207.0" width="7.0" height="5.0" fill="#22a862" />
<line x1="344.5" y1="216.0" x2="344.5" y2="228.0" stroke="#22a862" stroke-width="1.6" />
<rect x="361.8" y="207.0" width="7.0" height="5.0" fill="#22a862" />
<line x1="365.3" y1="216.0" x2="365.3" y2="228.0" stroke="#22a862" stroke-width="1.6" />
<rect x="383.9" y="207.0" width="7.0" height="5.0" fill="#22a862" />
<line x1="387.4" y1="216.0" x2="387.4" y2="228.0" stroke="#22a862" stroke-width="1.6" />
<rect x="404.2" y="207.0" width="7.0" height="5.0" fill="#22a862" />
<line x1="407.7" y1="216.0" x2="407.7" y2="228.0" stroke="#22a862" stroke-width="1.6" />
<rect x="425.5" y="207.0" width="7.0" height="5.0" fill="#22a862" />
<line x1="429.0" y1="216.0" x2="429.0" y2="228.0" stroke="#22a862" stroke-width="1.6" />
<rect x="446.5" y="207.0" width="7.0" height="5.0" fill="#22a862" />
<line x1="450.0" y1="216.0" x2="450.0" y2="228.0" stroke="#22a862" stroke-width="1.6" />
<rect x="467.5" y="207.0" width="7.0" height="5.0" fill="#22a862" />
<line x1="471.0" y1="216.0" x2="471.0" y2="228.0" stroke="#22a862" stroke-width="1.6" />
<rect x="488.2" y="207.0" width="7.0" height="5.0" fill="#22a862" />
<line x1="491.7" y1="216.0" x2="491.7" y2="228.0" stroke="#22a862" stroke-width="1.6" />
<rect x="554.5" y="207.0" width="7.0" height="5.0" fill="#22a862" />
<line x1="558.0" y1="216.0" x2="558.0" y2="228.0" stroke="#22a862" stroke-width="1.6" />
<rect x="576.2" y="207.0" width="7.0" height="5.0" fill="#22a862" />
<line x1="579.7" y1="216.0" x2="579.7" y2="228.0" stroke="#22a862" stroke-width="1.6" />
<rect x="598.3" y="207.0" width="7.0" height="5.0" fill="#22a862" />
<line x1="601.8" y1="216.0" x2="601.8" y2="228.0" stroke="#22a862" stroke-width="1.6" />
<rect x="620.5" y="207.0" width="7.0" height="5.0" fill="#22a862" />
<line x1="624.0" y1="216.0" x2="624.0" y2="228.0" stroke="#22a862" stroke-width="1.6" />
<rect x="642.0" y="207.0" width="7.0" height="5.0" fill="#22a862" />
<line x1="645.5" y1="216.0" x2="645.5" y2="228.0" stroke="#22a862" stroke-width="1.6" />
<rect x="661.2" y="207.0" width="7.0" height="5.0" fill="#22a862" />
<line x1="664.7" y1="216.0" x2="664.7" y2="228.0" stroke="#22a862" stroke-width="1.6" />
<rect x="682.8" y="207.0" width="7.0" height="5.0" fill="#22a862" />
<line x1="686.3" y1="216.0" x2="686.3" y2="228.0" stroke="#22a862" stroke-width="1.6" />
<rect x="512.5" y="207.0" width="7.0" height="5.0" fill="#1456a8" />
<line x1="516.0" y1="216.0" x2="516.0" y2="228.0" stroke="#1456a8" stroke-width="1.6" />
<rect x="530.2" y="207.0" width="7.0" height="5.0" fill="#1456a8" />
<line x1="533.7" y1="216.0" x2="533.7" y2="228.0" stroke="#1456a8" stroke-width="1.6" />
<rect x="343.0" y="199.0" width="157.0" height="4.0" fill="#36b570" />
<rect x="548.0" y="197.0" width="144.5" height="4.0" fill="#36b570" />
<rect x="366.0" y="196.0" width="7.0" height="24.0" fill="#45cc85" />
<rect x="586.0" y="196.0" width="7.0" height="24.0" fill="#45cc85" />
<rect x="672.0" y="196.0" width="7.0" height="24.0" fill="#45cc85" />
<line x1="343.0" y1="235.0" x2="500.0" y2="235.0" stroke="#37b774" stroke-width="1" />
<line x1="548.0" y1="235.0" x2="692.0" y2="235.0" stroke="#37b774" stroke-width="1" />
<rect x="275.5" y="221.5" width="15.0" height="3.6" fill="#ffffff" />
<rect x="281.2" y="215.8" width="3.6" height="15.0" fill="#ffffff" />
<rect x="314.5" y="223.0" width="9.0" height="3.5" fill="#ffffff" />
<text transform="translate(265.6,152.0) rotate(-90)" font-size="13" fill="#e8212a" font-weight="bold" textLength="51" lengthAdjust="spacingAndGlyphs" >Power in</text>
<text transform="translate(282.4,149.0) rotate(-90)" font-size="13" fill="#e8212a" font-weight="bold" textLength="43" lengthAdjust="spacingAndGlyphs" >DC 12V</text>
<text transform="translate(317.1,90.7) rotate(-90)" font-size="13" fill="#111" font-weight="bold" textLength="28.7" lengthAdjust="spacingAndGlyphs" >GND</text>
<line x1="312.3" y1="97.0" x2="312.3" y2="151.0" stroke="#111" stroke-width="1.55" />
<circle cx="312.3" cy="151.0" r="3.2" fill="#111" />
<text transform="translate(349.0,93.3) rotate(-90)" font-size="12.5" fill="#3a3a3a" font-weight="normal" textLength="22.6" lengthAdjust="spacingAndGlyphs" >DI-8</text>
<line x1="344.5" y1="96.0" x2="344.5" y2="151.0" stroke="#111" stroke-width="1.55" />
<circle cx="344.5" cy="151.0" r="3.2" fill="#111" />
<text transform="translate(369.8,93.3) rotate(-90)" font-size="12.5" fill="#3a3a3a" font-weight="normal" textLength="22.6" lengthAdjust="spacingAndGlyphs" >DI-7</text>
<line x1="365.3" y1="96.0" x2="365.3" y2="151.0" stroke="#111" stroke-width="1.55" />
<circle cx="365.3" cy="151.0" r="3.2" fill="#111" />
<text transform="translate(391.9,93.3) rotate(-90)" font-size="12.5" fill="#3a3a3a" font-weight="normal" textLength="22.6" lengthAdjust="spacingAndGlyphs" >DI-6</text>
<line x1="387.4" y1="96.0" x2="387.4" y2="151.0" stroke="#111" stroke-width="1.55" />
<circle cx="387.4" cy="151.0" r="3.2" fill="#111" />
<text transform="translate(412.2,93.3) rotate(-90)" font-size="12.5" fill="#3a3a3a" font-weight="normal" textLength="22.6" lengthAdjust="spacingAndGlyphs" >DI-5</text>
<line x1="407.7" y1="96.0" x2="407.7" y2="151.0" stroke="#111" stroke-width="1.55" />
<circle cx="407.7" cy="151.0" r="3.2" fill="#111" />
<text transform="translate(433.5,93.3) rotate(-90)" font-size="12.5" fill="#3a3a3a" font-weight="normal" textLength="22.6" lengthAdjust="spacingAndGlyphs" >DI-4</text>
<line x1="429.0" y1="96.0" x2="429.0" y2="151.0" stroke="#111" stroke-width="1.55" />
<circle cx="429.0" cy="151.0" r="3.2" fill="#111" />
<text transform="translate(454.5,93.3) rotate(-90)" font-size="12.5" fill="#3a3a3a" font-weight="normal" textLength="22.6" lengthAdjust="spacingAndGlyphs" >DI-3</text>
<line x1="450.0" y1="96.0" x2="450.0" y2="151.0" stroke="#111" stroke-width="1.55" />
<circle cx="450.0" cy="151.0" r="3.2" fill="#111" />
<text transform="translate(475.5,93.3) rotate(-90)" font-size="12.5" fill="#3a3a3a" font-weight="normal" textLength="22.6" lengthAdjust="spacingAndGlyphs" >DI-2</text>
<line x1="471.0" y1="96.0" x2="471.0" y2="151.0" stroke="#111" stroke-width="1.55" />
<circle cx="471.0" cy="151.0" r="3.2" fill="#111" />
<text transform="translate(496.2,93.3) rotate(-90)" font-size="12.5" fill="#3a3a3a" font-weight="normal" textLength="22.6" lengthAdjust="spacingAndGlyphs" >DI-1</text>
<line x1="491.7" y1="96.0" x2="491.7" y2="151.0" stroke="#111" stroke-width="1.55" />
<circle cx="491.7" cy="151.0" r="3.2" fill="#111" />
<text transform="translate(528.5,88.0) rotate(-90)" font-size="13" fill="#1e9be8" font-weight="bold" textLength="40" lengthAdjust="spacingAndGlyphs" >RS485</text>
<path d="M516,112 L516,96 L533.7,96 L533.7,112 M524.8,96 L524.8,90" fill="none" stroke="#111" stroke-width="1.55"/>
<text transform="translate(520.3,122.0) rotate(-90)" font-size="12" fill="#3a3a3a" font-weight="normal" textLength="8" lengthAdjust="spacingAndGlyphs" >B</text>
<text transform="translate(538.0,123.0) rotate(-90)" font-size="12" fill="#3a3a3a" font-weight="normal" textLength="8.5" lengthAdjust="spacingAndGlyphs" >A</text>
<line x1="516.0" y1="124.0" x2="516.0" y2="153.0" stroke="#111" stroke-width="1.55" />
<circle cx="516.0" cy="153.6" r="3.2" fill="#111" />
<line x1="533.7" y1="124.0" x2="533.7" y2="153.0" stroke="#111" stroke-width="1.55" />
<circle cx="533.7" cy="153.6" r="3.2" fill="#111" />
<text transform="translate(562.8,90.7) rotate(-90)" font-size="13" fill="#e8212a" font-weight="bold" textLength="24.7" lengthAdjust="spacingAndGlyphs" >3.3V</text>
<line x1="558.0" y1="96.0" x2="558.0" y2="151.0" stroke="#e8212a" stroke-width="1.55" />
<circle cx="558.0" cy="151.8" r="3.2" fill="#e8212a" />
<polygon points="558.0,111.0 554.0,119.0 562.0,119.0" fill="#e8212a" />
<text transform="translate(584.4,93.0) rotate(-90)" font-size="12.5" fill="#3a3a3a" font-weight="normal" textLength="30" lengthAdjust="spacingAndGlyphs" >GPIO</text>
<line x1="579.7" y1="97.0" x2="579.7" y2="151.0" stroke="#111" stroke-width="1.55" />
<circle cx="579.7" cy="151.8" r="3.2" fill="#111" />
<text transform="translate(606.4,93.0) rotate(-90)" font-size="13" fill="#111" font-weight="bold" textLength="28.3" lengthAdjust="spacingAndGlyphs" >GND</text>
<line x1="601.8" y1="97.0" x2="601.8" y2="151.0" stroke="#111" stroke-width="1.55" />
<circle cx="601.8" cy="151.8" r="3.2" fill="#111" />
<text transform="translate(628.6,92.0) rotate(-90)" font-size="12.5" fill="#3a3a3a" font-weight="normal" textLength="13.5" lengthAdjust="spacingAndGlyphs" >A1</text>
<line x1="624.0" y1="97.0" x2="624.0" y2="151.0" stroke="#111" stroke-width="1.55" />
<circle cx="624.0" cy="151.8" r="3.2" fill="#111" />
<text transform="translate(650.1,92.0) rotate(-90)" font-size="12.5" fill="#3a3a3a" font-weight="normal" textLength="13.5" lengthAdjust="spacingAndGlyphs" >A2</text>
<line x1="645.5" y1="97.0" x2="645.5" y2="151.0" stroke="#111" stroke-width="1.55" />
<circle cx="645.5" cy="151.8" r="3.2" fill="#111" />
<text transform="translate(669.4,92.0) rotate(-90)" font-size="12.5" fill="#3a3a3a" font-weight="normal" textLength="13.5" lengthAdjust="spacingAndGlyphs" >A3</text>
<line x1="664.7" y1="97.0" x2="664.7" y2="151.0" stroke="#111" stroke-width="1.55" />
<circle cx="664.7" cy="151.8" r="3.2" fill="#111" />
<text transform="translate(690.9,92.0) rotate(-90)" font-size="12.5" fill="#3a3a3a" font-weight="normal" textLength="13.5" lengthAdjust="spacingAndGlyphs" >A4</text>
<line x1="686.3" y1="97.0" x2="686.3" y2="151.0" stroke="#111" stroke-width="1.55" />
<circle cx="686.3" cy="151.8" r="3.2" fill="#111" />
<text transform="translate(714.1,190.6) rotate(-90)" font-size="12.5" fill="#3a3a3a" font-weight="normal" textLength="66.6" lengthAdjust="spacingAndGlyphs" >RGBW&#160;&#160;LED</text>
<line x1="709.5" y1="196.0" x2="709.5" y2="249.0" stroke="#111" stroke-width="1.55" />
<circle cx="709.5" cy="249.0" r="3.2" fill="#111" />
<text transform="translate(766.1,190.6) rotate(-90)" font-size="12.5" fill="#3a3a3a" font-weight="normal" textLength="33.8" lengthAdjust="spacingAndGlyphs" >USB C</text>
<line x1="761.5" y1="196.0" x2="761.5" y2="227.0" stroke="#111" stroke-width="1.55" />
<circle cx="761.5" cy="227.0" r="3.2" fill="#111" />
<text transform="translate(810.4,190.6) rotate(-90)" font-size="12.5" fill="#3a3a3a" font-weight="normal" textLength="33.8" lengthAdjust="spacingAndGlyphs" >RESET</text>
<line x1="805.7" y1="196.0" x2="805.7" y2="229.6" stroke="#111" stroke-width="1.55" />
<circle cx="805.7" cy="229.6" r="3.2" fill="#111" />
<text transform="translate(875.5,190.6) rotate(-90)" font-size="13" fill="#1e9be8" font-weight="bold" textLength="63.6" lengthAdjust="spacingAndGlyphs" >ETHERNET</text>
<line x1="870.7" y1="196.0" x2="870.7" y2="205.0" stroke="#111" stroke-width="1.55" />
<circle cx="870.7" cy="205.0" r="3.2" fill="#111" />
<text x="4.0" y="186.0" font-size="14" fill="#111" font-weight="bold" text-anchor="start" textLength="182" lengthAdjust="spacingAndGlyphs" >Switch press indicator LED</text>
<text x="11.0" y="209.0" font-size="14" fill="#111" font-weight="bold" text-anchor="start" textLength="170" lengthAdjust="spacingAndGlyphs" >Manual Control Switches</text>
<line x1="186.0" y1="183.0" x2="328.0" y2="275.0" stroke="#111" stroke-width="1.3" />
<circle cx="328.0" cy="275.0" r="3.2" fill="#111" />
<line x1="186.0" y1="207.0" x2="328.8" y2="293.8" stroke="#111" stroke-width="1.3" />
<circle cx="328.8" cy="293.8" r="3.2" fill="#111" />
<path d="M15,427.4 L15,913" fill="none" stroke="#8a8a8a" stroke-width="1.9"/>
<path d="M216,427.4 L14.2,427.4" fill="none" stroke="#2a2a2a" stroke-width="1.5"/>
<circle cx="216.0" cy="427.5" r="3.2" fill="#111" />
<text x="117.0" y="597.6" font-size="12" fill="#2b2b2b" font-weight="normal" text-anchor="start" textLength="45.4" lengthAdjust="spacingAndGlyphs" >Antenna</text>
<path d="M170,593.6 L208,593.6 L208,557.5" fill="none" stroke="#111" stroke-width="1.55"/>
<circle cx="208.0" cy="557.5" r="3.2" fill="#111" />
<text x="110.0" y="631.6" font-size="11.5" fill="#2b2b2b" font-weight="normal" text-anchor="start" textLength="76" lengthAdjust="spacingAndGlyphs" >LED-Indicator</text>
<text x="113.6" y="649.0" font-size="11.5" fill="#2b2b2b" font-weight="normal" text-anchor="start" textLength="73.4" lengthAdjust="spacingAndGlyphs" >For Relay 5-8</text>
<path d="M112.4,652 L280,652 L280,637" fill="none" stroke="#111" stroke-width="1.55"/>
<circle cx="280.0" cy="637.0" r="3.2" fill="#111" />
<text transform="translate(984.0,340.0) rotate(-90)" font-size="14" fill="#111" font-weight="bold" textLength="44" lengthAdjust="spacingAndGlyphs" >ESP32</text>
<path d="M892,399 L979,399 L979,346" fill="none" stroke="#111" stroke-width="1.55"/>
<circle cx="892.0" cy="399.0" r="3.2" fill="#111" />
<text transform="translate(982.0,613.7) rotate(-90)" font-size="14" fill="#111" font-weight="bold" textLength="82" lengthAdjust="spacingAndGlyphs" >RF433 MHZ</text>
<text transform="translate(995.9,597.0) rotate(-90)" font-size="12" fill="#3a3a3a" font-weight="normal" textLength="44.4" lengthAdjust="spacingAndGlyphs" >Receiver</text>
<path d="M892,509 L977,509 L977,526" fill="none" stroke="#111" stroke-width="1.55"/>
<circle cx="892.0" cy="509.0" r="3.2" fill="#111" />
<text x="935.6" y="650.0" font-size="12" fill="#2b2b2b" font-weight="normal" text-anchor="start" textLength="36" lengthAdjust="spacingAndGlyphs" >Buzzer</text>
<line x1="885.0" y1="646.0" x2="932.0" y2="646.0" stroke="#111" stroke-width="1.55" />
<circle cx="885.0" cy="646.0" r="3.2" fill="#111" />
<text x="903.0" y="676.6" font-size="11.5" fill="#2b2b2b" font-weight="normal" text-anchor="start" textLength="75" lengthAdjust="spacingAndGlyphs" >LED-Indicator</text>
<text x="907.0" y="694.0" font-size="11.5" fill="#2b2b2b" font-weight="normal" text-anchor="start" textLength="71.6" lengthAdjust="spacingAndGlyphs" >For Relay 1-4</text>
<path d="M813.6,647.6 L813.6,672.4 L900,672.4" fill="none" stroke="#111" stroke-width="1.55"/>
<circle cx="813.6" cy="647.6" r="3.2" fill="#111" />
<line x1="365.8" y1="659.1" x2="365.8" y2="687.0" stroke="#1ea0e6" stroke-width="1.6" />
<circle cx="365.8" cy="659.1" r="2.9" fill="#1ea0e6" />
<line x1="386.9" y1="666.0" x2="386.9" y2="680.0" stroke="#ee1c24" stroke-width="1.6" />
<circle cx="386.9" cy="659.1" r="2.9" fill="#ee1c24" />
<polygon points="386.9,665.5 383.3,674.0 390.5,674.0" fill="#ee1c24" />
<line x1="386.9" y1="659.0" x2="386.9" y2="667.0" stroke="#ee1c24" stroke-width="1.6" />
<line x1="408.0" y1="659.1" x2="408.0" y2="680.5" stroke="#ee1c24" stroke-width="1.6" />
<circle cx="408.0" cy="659.1" r="2.9" fill="#ee1c24" />
<text transform="translate(370.7,708.5) rotate(-90)" font-size="13.5" fill="#333" font-weight="normal" textLength="19.5" lengthAdjust="spacingAndGlyphs" >NO</text>
<text transform="translate(391.8,708.5) rotate(-90)" font-size="13.5" fill="#ee1c24" font-weight="bold" textLength="27.3" lengthAdjust="spacingAndGlyphs" >COM</text>
<text transform="translate(412.9,708.5) rotate(-90)" font-size="13.5" fill="#333" font-weight="normal" textLength="17.5" lengthAdjust="spacingAndGlyphs" >NC</text>
<line x1="429.1" y1="659.1" x2="429.1" y2="687.0" stroke="#1ea0e6" stroke-width="1.6" />
<circle cx="429.1" cy="659.1" r="2.9" fill="#1ea0e6" />
<line x1="450.2" y1="666.0" x2="450.2" y2="680.0" stroke="#ee1c24" stroke-width="1.6" />
<circle cx="450.2" cy="659.1" r="2.9" fill="#ee1c24" />
<polygon points="450.2,665.5 446.6,674.0 453.8,674.0" fill="#ee1c24" />
<line x1="450.2" y1="659.0" x2="450.2" y2="667.0" stroke="#ee1c24" stroke-width="1.6" />
<line x1="471.3" y1="659.1" x2="471.3" y2="680.5" stroke="#ee1c24" stroke-width="1.6" />
<circle cx="471.3" cy="659.1" r="2.9" fill="#ee1c24" />
<text transform="translate(434.0,708.5) rotate(-90)" font-size="13.5" fill="#333" font-weight="normal" textLength="19.5" lengthAdjust="spacingAndGlyphs" >NO</text>
<text transform="translate(455.1,708.5) rotate(-90)" font-size="13.5" fill="#ee1c24" font-weight="bold" textLength="27.3" lengthAdjust="spacingAndGlyphs" >COM</text>
<text transform="translate(476.2,708.5) rotate(-90)" font-size="13.5" fill="#333" font-weight="normal" textLength="17.5" lengthAdjust="spacingAndGlyphs" >NC</text>
<line x1="492.4" y1="659.1" x2="492.4" y2="687.0" stroke="#1ea0e6" stroke-width="1.6" />
<circle cx="492.4" cy="659.1" r="2.9" fill="#1ea0e6" />
<line x1="513.5" y1="666.0" x2="513.5" y2="680.0" stroke="#ee1c24" stroke-width="1.6" />
<circle cx="513.5" cy="659.1" r="2.9" fill="#ee1c24" />
<polygon points="513.5,665.5 509.9,674.0 517.1,674.0" fill="#ee1c24" />
<line x1="513.5" y1="659.0" x2="513.5" y2="667.0" stroke="#ee1c24" stroke-width="1.6" />
<line x1="534.6" y1="659.1" x2="534.6" y2="680.5" stroke="#ee1c24" stroke-width="1.6" />
<circle cx="534.6" cy="659.1" r="2.9" fill="#ee1c24" />
<text transform="translate(497.2,708.5) rotate(-90)" font-size="13.5" fill="#333" font-weight="normal" textLength="19.5" lengthAdjust="spacingAndGlyphs" >NO</text>
<text transform="translate(518.4,708.5) rotate(-90)" font-size="13.5" fill="#ee1c24" font-weight="bold" textLength="27.3" lengthAdjust="spacingAndGlyphs" >COM</text>
<text transform="translate(539.5,708.5) rotate(-90)" font-size="13.5" fill="#333" font-weight="normal" textLength="17.5" lengthAdjust="spacingAndGlyphs" >NC</text>
<line x1="555.7" y1="659.1" x2="555.7" y2="687.0" stroke="#1ea0e6" stroke-width="1.6" />
<circle cx="555.7" cy="659.1" r="2.9" fill="#1ea0e6" />
<line x1="576.8" y1="666.0" x2="576.8" y2="680.0" stroke="#ee1c24" stroke-width="1.6" />
<circle cx="576.8" cy="659.1" r="2.9" fill="#ee1c24" />
<polygon points="576.8,665.5 573.2,674.0 580.4,674.0" fill="#ee1c24" />
<line x1="576.8" y1="659.0" x2="576.8" y2="667.0" stroke="#ee1c24" stroke-width="1.6" />
<line x1="597.9" y1="659.1" x2="597.9" y2="680.5" stroke="#ee1c24" stroke-width="1.6" />
<circle cx="597.9" cy="659.1" r="2.9" fill="#ee1c24" />
<text transform="translate(560.6,708.5) rotate(-90)" font-size="13.5" fill="#333" font-weight="normal" textLength="19.5" lengthAdjust="spacingAndGlyphs" >NO</text>
<text transform="translate(581.7,708.5) rotate(-90)" font-size="13.5" fill="#ee1c24" font-weight="bold" textLength="27.3" lengthAdjust="spacingAndGlyphs" >COM</text>
<text transform="translate(602.8,708.5) rotate(-90)" font-size="13.5" fill="#333" font-weight="normal" textLength="17.5" lengthAdjust="spacingAndGlyphs" >NC</text>
<line x1="619.0" y1="659.1" x2="619.0" y2="687.0" stroke="#1ea0e6" stroke-width="1.6" />
<circle cx="619.0" cy="659.1" r="2.9" fill="#1ea0e6" />
<line x1="640.1" y1="666.0" x2="640.1" y2="680.0" stroke="#ee1c24" stroke-width="1.6" />
<circle cx="640.1" cy="659.1" r="2.9" fill="#ee1c24" />
<polygon points="640.1,665.5 636.5,674.0 643.7,674.0" fill="#ee1c24" />
<line x1="640.1" y1="659.0" x2="640.1" y2="667.0" stroke="#ee1c24" stroke-width="1.6" />
<line x1="661.2" y1="659.1" x2="661.2" y2="680.5" stroke="#ee1c24" stroke-width="1.6" />
<circle cx="661.2" cy="659.1" r="2.9" fill="#ee1c24" />
<text transform="translate(623.9,708.5) rotate(-90)" font-size="13.5" fill="#333" font-weight="normal" textLength="19.5" lengthAdjust="spacingAndGlyphs" >NO</text>
<text transform="translate(645.0,708.5) rotate(-90)" font-size="13.5" fill="#ee1c24" font-weight="bold" textLength="27.3" lengthAdjust="spacingAndGlyphs" >COM</text>
<text transform="translate(666.1,708.5) rotate(-90)" font-size="13.5" fill="#333" font-weight="normal" textLength="17.5" lengthAdjust="spacingAndGlyphs" >NC</text>
<line x1="682.3" y1="659.1" x2="682.3" y2="687.0" stroke="#1ea0e6" stroke-width="1.6" />
<circle cx="682.3" cy="659.1" r="2.9" fill="#1ea0e6" />
<line x1="703.4" y1="666.0" x2="703.4" y2="680.0" stroke="#ee1c24" stroke-width="1.6" />
<circle cx="703.4" cy="659.1" r="2.9" fill="#ee1c24" />
<polygon points="703.4,665.5 699.8,674.0 707.0,674.0" fill="#ee1c24" />
<line x1="703.4" y1="659.0" x2="703.4" y2="667.0" stroke="#ee1c24" stroke-width="1.6" />
<line x1="724.5" y1="659.1" x2="724.5" y2="680.5" stroke="#ee1c24" stroke-width="1.6" />
<circle cx="724.5" cy="659.1" r="2.9" fill="#ee1c24" />
<text transform="translate(687.1,708.5) rotate(-90)" font-size="13.5" fill="#333" font-weight="normal" textLength="19.5" lengthAdjust="spacingAndGlyphs" >NO</text>
<text transform="translate(708.2,708.5) rotate(-90)" font-size="13.5" fill="#ee1c24" font-weight="bold" textLength="27.3" lengthAdjust="spacingAndGlyphs" >COM</text>
<text transform="translate(729.4,708.5) rotate(-90)" font-size="13.5" fill="#333" font-weight="normal" textLength="17.5" lengthAdjust="spacingAndGlyphs" >NC</text>
<line x1="745.6" y1="659.1" x2="745.6" y2="687.0" stroke="#1ea0e6" stroke-width="1.6" />
<circle cx="745.6" cy="659.1" r="2.9" fill="#1ea0e6" />
<line x1="766.7" y1="666.0" x2="766.7" y2="680.0" stroke="#ee1c24" stroke-width="1.6" />
<circle cx="766.7" cy="659.1" r="2.9" fill="#ee1c24" />
<polygon points="766.7,665.5 763.1,674.0 770.3,674.0" fill="#ee1c24" />
<line x1="766.7" y1="659.0" x2="766.7" y2="667.0" stroke="#ee1c24" stroke-width="1.6" />
<line x1="787.8" y1="659.1" x2="787.8" y2="680.5" stroke="#ee1c24" stroke-width="1.6" />
<circle cx="787.8" cy="659.1" r="2.9" fill="#ee1c24" />
<text transform="translate(750.5,708.5) rotate(-90)" font-size="13.5" fill="#333" font-weight="normal" textLength="19.5" lengthAdjust="spacingAndGlyphs" >NO</text>
<text transform="translate(771.6,708.5) rotate(-90)" font-size="13.5" fill="#ee1c24" font-weight="bold" textLength="27.3" lengthAdjust="spacingAndGlyphs" >COM</text>
<text transform="translate(792.7,708.5) rotate(-90)" font-size="13.5" fill="#333" font-weight="normal" textLength="17.5" lengthAdjust="spacingAndGlyphs" >NC</text>
<path d="M302.5,657 L302.5,681 L284,681" fill="none" stroke="#1ea0e6" stroke-width="1.5"/>
<polygon points="273.4,681.0 280.4,677.6 280.4,684.4" fill="#1ea0e6" />
<path d="M323.5,667 L323.5,713.2 L256.6,713.2" fill="none" stroke="#ee1c24" stroke-width="1.5"/>
<polygon points="323.5,659.0 320.0,667.0 327.0,667.0" fill="#ee1c24" />
<path d="M344,657 L344,732.2 L293,732.2" fill="none" stroke="#ee1c24" stroke-width="1.5"/>
<rect x="25.0" y="673.4" width="47.6" height="14.0" fill="#1ea0e6" />
<text x="31.2" y="685.2" font-size="13.5" fill="#fff" font-weight="bold" text-anchor="start" textLength="31.4" lengthAdjust="spacingAndGlyphs" >OUT</text>
<line x1="72.6" y1="681.0" x2="120.0" y2="681.0" stroke="#1ea0e6" stroke-width="1.5" />
<polygon points="99.0,681.0 106.0,677.6 106.0,684.4" fill="#1ea0e6" />
<text x="123.0" y="686.0" font-size="13" fill="#1a1a1a" font-weight="bold" text-anchor="start" textLength="146.2" lengthAdjust="spacingAndGlyphs" >NORMALLY OPEN.&#160;&#160;(NO)</text>
<rect x="24.2" y="705.0" width="47.6" height="15.2" fill="#ee1c24" />
<text x="39.0" y="717.6" font-size="14" fill="#fff" font-weight="bold" text-anchor="start" textLength="14" lengthAdjust="spacingAndGlyphs" >IN</text>
<line x1="72.0" y1="713.2" x2="131.0" y2="713.2" stroke="#ee1c24" stroke-width="1.5" />
<polygon points="108.0,713.2 101.0,709.8 101.0,716.6" fill="#ee1c24" />
<text x="137.6" y="717.6" font-size="13" fill="#ee1c24" font-weight="bold" text-anchor="start" textLength="114.8" lengthAdjust="spacingAndGlyphs" >COMMON&#160;&#160;&#160;&#160;(COM)</text>
<text x="88.6" y="737.2" font-size="13" fill="#ee1c24" font-weight="bold" text-anchor="start" textLength="199.7" lengthAdjust="spacingAndGlyphs" >NORMALLY CONNECTED&#160;&#160;&#160;&#160;&#160;(NC)</text>
<rect x="141.0" y="769.5" width="285.0" height="38.0" fill="none" stroke="#2b8fc2" stroke-width="1.8" stroke-dasharray="7,4"/>
<text x="164.7" y="794.1" font-size="18.3" fill="#161616" font-weight="normal" text-anchor="start" textLength="247.3" lengthAdjust="spacingAndGlyphs" stroke="#161616" stroke-width="0.2">Bottom View of GSM Module</text>
<rect x="569.0" y="849.0" width="383.0" height="206.5" fill="#c4cbd4" />
<text x="595.0" y="897.7" font-size="20" fill="#161616" font-weight="normal" text-anchor="start" textLength="324" lengthAdjust="spacingAndGlyphs" stroke="#161616" stroke-width="0.35">Default SIM800L GSM - 2 G, can be</text>
<text x="595.0" y="920.6" font-size="20" fill="#161616" font-weight="normal" text-anchor="start" textLength="222.5" lengthAdjust="spacingAndGlyphs" stroke="#161616" stroke-width="0.35">replaced with 3G or 4G.</text>
<text x="595.0" y="970.6" font-size="20" fill="#161616" font-weight="normal" text-anchor="start" textLength="323.3" lengthAdjust="spacingAndGlyphs" stroke="#161616" stroke-width="0.35">Note : Incase your country telecom</text>
<text x="595.0" y="993.8" font-size="20" fill="#161616" font-weight="normal" text-anchor="start" textLength="327" lengthAdjust="spacingAndGlyphs" stroke="#161616" stroke-width="0.35">does not support 2G, order with 3G</text>
<text x="595.0" y="1017.2" font-size="20" fill="#161616" font-weight="normal" text-anchor="start" textLength="124.6" lengthAdjust="spacingAndGlyphs" stroke="#161616" stroke-width="0.35">or 4G module</text>
<rect x="171.6" y="911.6" width="205.0" height="189.7" fill="#e42127" />
<path d="M248,834 L327,834 Q331.3,834 331.3,838 L331.3,930 L234,930 L234,848 Z" fill="#fa1414" stroke="none" stroke-width="1" />
<text x="244.0" y="883.6" font-size="37" fill="#fff" font-weight="bold" text-anchor="start" textLength="65" lengthAdjust="spacingAndGlyphs" >SIM</text>
<path d="M266.4,915 A28.6,28.6 0 1 0 323.6,915 A28.6,28.6 0 1 0 266.4,915 Z M279.5,914 A18.5,18.5 0 1 1 316.5,914 A18.5,18.5 0 1 1 279.5,914 Z" fill="#fff" stroke="none" stroke-width="1" fill-rule="evenodd"/>
<path d="M180,1095 L200,1075 L200,1040" fill="none" stroke="#c81a20" stroke-width="2" />
<path d="M250,1095 L270,1075 L270,1060" fill="none" stroke="#c81a20" stroke-width="2" />
<path d="M300,1095 L300,1070" fill="none" stroke="#c81a20" stroke-width="2" />
<path d="M340,1000 L350,1010 L350,1040" fill="none" stroke="#c81a20" stroke-width="2" />
<path d="M200,960 L205,965 L205,1030" fill="none" stroke="#c81a20" stroke-width="2" />
<path d="M208.5,915.5 L247,915.5 Q292.6,936 318,915.5 L337,915.5 L337,1055.5 L245,1055.5 L245,1043 L208.5,1043 Z" fill="#b8b8b8" stroke="none" stroke-width="1" />
<path d="M212,919 L249,919 Q292.6,939 316,919 L334,919 L334,1052 L247,1052 L247,1040 L212,1040 Z" fill="#bdbdbd" stroke="none" stroke-width="1" />
<rect x="200.0" y="918.0" width="9.0" height="24.0" fill="#d8d8d8" />
<rect x="200.0" y="1008.0" width="9.0" height="30.0" fill="#d8d8d8" />
<rect x="337.0" y="918.0" width="8.0" height="22.0" fill="#d8d8d8" />
<rect x="337.0" y="1010.0" width="8.0" height="24.0" fill="#d8d8d8" />
<rect x="216.0" y="935.0" width="12.0" height="48.0" fill="#9a9a9a" />
<rect x="218.0" y="940.0" width="7.0" height="35.0" fill="#555" />
<circle cx="272.0" cy="944.0" r="6.0" fill="#e42127" />
<circle cx="272.0" cy="1004.6" r="5.5" fill="#2e2520" />
<circle cx="272.0" cy="1004.6" r="3.5" fill="#6a3a2a" />
<circle cx="292.6" cy="944.0" r="6.0" fill="#e42127" />
<circle cx="292.6" cy="1004.6" r="5.5" fill="#2e2520" />
<circle cx="292.6" cy="1004.6" r="3.5" fill="#6a3a2a" />
<circle cx="314.2" cy="944.0" r="6.0" fill="#e42127" />
<circle cx="314.2" cy="1004.6" r="5.5" fill="#2e2520" />
<circle cx="314.2" cy="1004.6" r="3.5" fill="#6a3a2a" />
<rect x="174.0" y="963.8" width="19.0" height="128.6" fill="none" stroke="#fbe3e3" stroke-width="1"/>
<circle cx="182.6" cy="975.3" r="6.5" fill="#d6bf8f" />
<circle cx="182.6" cy="975.3" r="3.2" fill="#f5efe0" />
<circle cx="182.6" cy="995.7" r="6.5" fill="#d6bf8f" />
<circle cx="182.6" cy="995.7" r="3.2" fill="#f5efe0" />
<circle cx="182.6" cy="1016.0" r="6.5" fill="#d6bf8f" />
<circle cx="182.6" cy="1016.0" r="3.2" fill="#f5efe0" />
<circle cx="182.6" cy="1036.4" r="6.5" fill="#d6bf8f" />
<circle cx="182.6" cy="1036.4" r="3.2" fill="#f5efe0" />
<circle cx="182.6" cy="1056.8" r="6.5" fill="#d6bf8f" />
<circle cx="182.6" cy="1056.8" r="3.2" fill="#f5efe0" />
<circle cx="182.6" cy="1078.4" r="6.5" fill="#d6bf8f" />
<circle cx="182.6" cy="1078.4" r="3.2" fill="#f5efe0" />
<rect x="355.0" y="941.0" width="20.0" height="127.0" fill="none" stroke="#fbe3e3" stroke-width="1"/>
<circle cx="365.0" cy="952.4" r="6.5" fill="#d6bf8f" />
<circle cx="365.0" cy="952.4" r="3.2" fill="#f5efe0" />
<circle cx="365.0" cy="972.8" r="6.5" fill="#d6bf8f" />
<circle cx="365.0" cy="972.8" r="3.2" fill="#f5efe0" />
<circle cx="365.0" cy="993.0" r="6.5" fill="#d6bf8f" />
<circle cx="365.0" cy="993.0" r="3.2" fill="#f5efe0" />
<circle cx="365.0" cy="1014.0" r="6.5" fill="#d6bf8f" />
<circle cx="365.0" cy="1014.0" r="3.2" fill="#f5efe0" />
<circle cx="365.0" cy="1034.0" r="6.5" fill="#d6bf8f" />
<circle cx="365.0" cy="1034.0" r="3.2" fill="#f5efe0" />
<circle cx="365.0" cy="1057.0" r="6.5" fill="#d6bf8f" />
<circle cx="365.0" cy="1057.0" r="3.2" fill="#f5efe0" />
<rect x="359.0" y="946.0" width="12.0" height="12.0" fill="#d6bf8f" />
<text x="176.0" y="926.0" font-size="7.5" fill="#fbe3e3" font-weight="normal" text-anchor="start" textLength="15" lengthAdjust="spacingAndGlyphs" >DTR</text>
<text x="176.0" y="933.6" font-size="7.5" fill="#fbe3e3" font-weight="normal" text-anchor="start" textLength="15" lengthAdjust="spacingAndGlyphs" >MICP</text>
<text x="176.0" y="941.2" font-size="7.5" fill="#fbe3e3" font-weight="normal" text-anchor="start" textLength="15" lengthAdjust="spacingAndGlyphs" >MICN</text>
<text x="176.0" y="948.8" font-size="7.5" fill="#fbe3e3" font-weight="normal" text-anchor="start" textLength="15" lengthAdjust="spacingAndGlyphs" >SPKP</text>
<text x="176.0" y="956.4" font-size="7.5" fill="#fbe3e3" font-weight="normal" text-anchor="start" textLength="15" lengthAdjust="spacingAndGlyphs" >SPKN</text>
<text x="337.0" y="1050.0" font-size="7.5" fill="#fbe3e3" font-weight="normal" text-anchor="start" textLength="15" lengthAdjust="spacingAndGlyphs" >NET</text>
<text x="337.0" y="1057.7" font-size="7.5" fill="#fbe3e3" font-weight="normal" text-anchor="start" textLength="15" lengthAdjust="spacingAndGlyphs" >VCC</text>
<text x="337.0" y="1065.4" font-size="7.5" fill="#fbe3e3" font-weight="normal" text-anchor="start" textLength="15" lengthAdjust="spacingAndGlyphs" >RST</text>
<text x="337.0" y="1073.1" font-size="7.5" fill="#fbe3e3" font-weight="normal" text-anchor="start" textLength="15" lengthAdjust="spacingAndGlyphs" >RXD</text>
<text x="337.0" y="1080.8" font-size="7.5" fill="#fbe3e3" font-weight="normal" text-anchor="start" textLength="15" lengthAdjust="spacingAndGlyphs" >TXD</text>
<text x="337.0" y="1088.5" font-size="7.5" fill="#fbe3e3" font-weight="normal" text-anchor="start" textLength="15" lengthAdjust="spacingAndGlyphs" >GND</text>
<text x="236.0" y="1083.0" font-size="7.5" fill="#fbe3e3" font-weight="normal" text-anchor="start" textLength="29" lengthAdjust="spacingAndGlyphs" >SM800L</text>
<text x="230.0" y="1093.0" font-size="7.5" fill="#fbe3e3" font-weight="normal" text-anchor="start" textLength="35" lengthAdjust="spacingAndGlyphs" >C oroboard</text>
<rect x="272.0" y="1052.0" width="5.0" height="18.0" fill="#d2d2d2" />
<rect x="282.0" y="1052.0" width="5.0" height="18.0" fill="#d2d2d2" />
<rect x="292.0" y="1052.0" width="5.0" height="18.0" fill="#d2d2d2" />
<rect x="302.0" y="1052.0" width="5.0" height="18.0" fill="#d2d2d2" />
<rect x="312.0" y="1052.0" width="5.0" height="18.0" fill="#d2d2d2" />
<rect x="322.0" y="1052.0" width="5.0" height="18.0" fill="#d2d2d2" />
<path d="M233.2,837 L92.8,837 L92.8,858.6" fill="none" stroke="#17bf2e" stroke-width="2.2"/>
<circle cx="233.2" cy="837.0" r="4.3" fill="#17bf2e" />
<circle cx="92.8" cy="858.6" r="4.3" fill="#17bf2e" />
<text x="29.2" y="889.8" font-size="15" fill="#161616" font-weight="normal" text-anchor="start" textLength="172.8" lengthAdjust="spacingAndGlyphs" stroke="#161616" stroke-width="0.3">Notch Pointing Upwards</text>
<path d="M227.9,996.3 L80.8,996.3 L80.8,1015.5" fill="none" stroke="#17bf2e" stroke-width="2.2"/>
<circle cx="227.9" cy="996.3" r="4.3" fill="#17bf2e" />
<circle cx="80.8" cy="1015.5" r="4.3" fill="#17bf2e" />
<text x="22.0" y="1044.8" font-size="15" fill="#161616" font-weight="normal" text-anchor="start" textLength="119.5" lengthAdjust="spacingAndGlyphs" stroke="#161616" stroke-width="0.3">Micro SIM Socket</text>
<path d="M321.25,977.5 L474.5,977.5 L474.5,958" fill="none" stroke="#17bf2e" stroke-width="2.2"/>
<circle cx="321.2" cy="977.5" r="4.3" fill="#17bf2e" />
<circle cx="474.5" cy="958.0" r="4.3" fill="#17bf2e" />
<text x="390.0" y="928.0" font-size="14.6" fill="#161616" font-weight="normal" text-anchor="start" textLength="157.5" lengthAdjust="spacingAndGlyphs" stroke="#161616" stroke-width="0.3">Direction For Inserting</text>
<text x="415.5" y="945.5" font-size="14.6" fill="#161616" font-weight="normal" text-anchor="start" textLength="110" lengthAdjust="spacingAndGlyphs" stroke="#161616" stroke-width="0.3">SIM Is Engraved</text>
</svg></body></html>
